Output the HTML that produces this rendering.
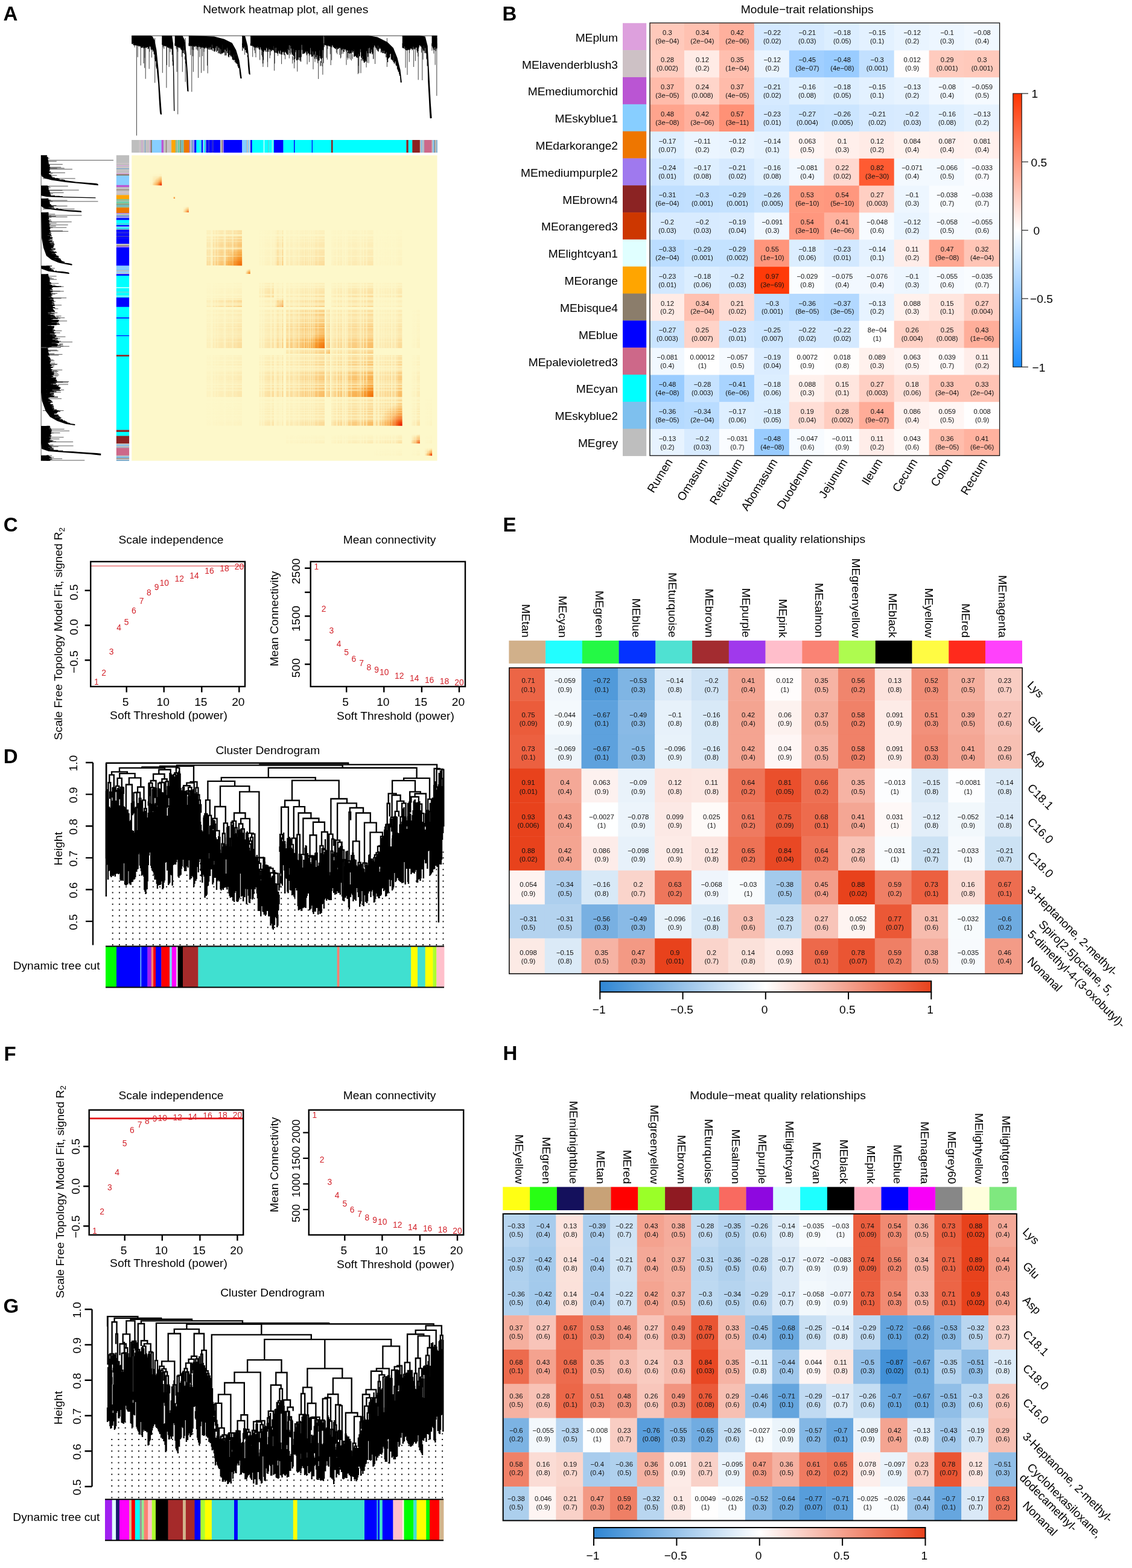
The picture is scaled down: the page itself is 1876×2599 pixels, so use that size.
<!DOCTYPE html>
<html lang="en">
<head>
<meta charset="utf-8">
<title>WGCNA figure</title>
<style>
html,body{margin:0;padding:0;background:#fff}
body{width:1876px;height:2599px;overflow:hidden}
svg{display:block;font-family:'Liberation Sans', sans-serif}
</style>
</head>
<body>
<svg width="1876" height="2599" viewBox="0 0 1876 2599">
<rect width="1876" height="2599" fill="#fff"/>
<text x="832.5" y="33.5" font-size="33" font-weight="bold">B</text>
<text x="1337.7" y="22" font-size="19.25" text-anchor="middle">Module−trait relationships</text>
<g><rect x="1077" y="38" width="57.36" height="45.93" fill="#FFC9BB"/><rect x="1133.96" y="38" width="58.36" height="45.93" fill="#FFC1B1"/><rect x="1191.92" y="38" width="58.36" height="45.93" fill="#FFB09D"/><rect x="1249.88" y="38" width="58.36" height="45.93" fill="#D4E9FF"/><rect x="1307.84" y="38" width="58.36" height="45.93" fill="#D6EAFF"/><rect x="1365.8" y="38" width="58.36" height="45.93" fill="#DCEEFF"/><rect x="1423.76" y="38" width="58.36" height="45.93" fill="#E3F1FF"/><rect x="1481.72" y="38" width="58.36" height="45.93" fill="#E9F4FF"/><rect x="1539.68" y="38" width="58.36" height="45.93" fill="#EDF6FF"/><rect x="1597.64" y="38" width="59.36" height="45.93" fill="#F1F8FF"/><rect x="1077" y="83.53" width="57.36" height="45.23" fill="#FFCDC0"/><rect x="1133.96" y="83.53" width="58.36" height="45.23" fill="#FFEBE6"/><rect x="1191.92" y="83.53" width="58.36" height="45.23" fill="#FFBFAF"/><rect x="1249.88" y="83.53" width="58.36" height="45.23" fill="#E9F4FF"/><rect x="1307.84" y="83.53" width="58.36" height="45.23" fill="#A0CFFF"/><rect x="1365.8" y="83.53" width="58.36" height="45.23" fill="#99CCFF"/><rect x="1423.76" y="83.53" width="58.36" height="45.23" fill="#C2E0FF"/><rect x="1481.72" y="83.53" width="58.36" height="45.23" fill="#FFFDFD"/><rect x="1539.68" y="83.53" width="58.36" height="45.23" fill="#FFCBBE"/><rect x="1597.64" y="83.53" width="59.36" height="45.23" fill="#FFC9BB"/><rect x="1077" y="128.35" width="57.36" height="45.22" fill="#FFBBAA"/><rect x="1133.96" y="128.35" width="58.36" height="45.22" fill="#FFD5CA"/><rect x="1191.92" y="128.35" width="58.36" height="45.22" fill="#FFBBAA"/><rect x="1249.88" y="128.35" width="58.36" height="45.22" fill="#D6EAFF"/><rect x="1307.84" y="128.35" width="58.36" height="45.22" fill="#E0F0FF"/><rect x="1365.8" y="128.35" width="58.36" height="45.22" fill="#DCEEFF"/><rect x="1423.76" y="128.35" width="58.36" height="45.22" fill="#E3F1FF"/><rect x="1481.72" y="128.35" width="58.36" height="45.22" fill="#E7F3FF"/><rect x="1539.68" y="128.35" width="58.36" height="45.22" fill="#F1F8FF"/><rect x="1597.64" y="128.35" width="59.36" height="45.22" fill="#F5FAFF"/><rect x="1077" y="173.18" width="57.36" height="45.22" fill="#FFA48D"/><rect x="1133.96" y="173.18" width="58.36" height="45.22" fill="#FFB09D"/><rect x="1191.92" y="173.18" width="58.36" height="45.22" fill="#FF9176"/><rect x="1249.88" y="173.18" width="58.36" height="45.22" fill="#D2E8FF"/><rect x="1307.84" y="173.18" width="58.36" height="45.22" fill="#C9E4FF"/><rect x="1365.8" y="173.18" width="58.36" height="45.22" fill="#CBE5FF"/><rect x="1423.76" y="173.18" width="58.36" height="45.22" fill="#D6EAFF"/><rect x="1481.72" y="173.18" width="58.36" height="45.22" fill="#D8EBFF"/><rect x="1539.68" y="173.18" width="58.36" height="45.22" fill="#E0F0FF"/><rect x="1597.64" y="173.18" width="59.36" height="45.22" fill="#E7F3FF"/><rect x="1077" y="218" width="57.36" height="45.22" fill="#DEEFFF"/><rect x="1133.96" y="218" width="58.36" height="45.22" fill="#EBF5FF"/><rect x="1191.92" y="218" width="58.36" height="45.22" fill="#E9F4FF"/><rect x="1249.88" y="218" width="58.36" height="45.22" fill="#E5F2FF"/><rect x="1307.84" y="218" width="58.36" height="45.22" fill="#FFF5F3"/><rect x="1365.8" y="218" width="58.36" height="45.22" fill="#FFEFEB"/><rect x="1423.76" y="218" width="58.36" height="45.22" fill="#FFEBE6"/><rect x="1481.72" y="218" width="58.36" height="45.22" fill="#FFF2EE"/><rect x="1539.68" y="218" width="58.36" height="45.22" fill="#FFF1EE"/><rect x="1597.64" y="218" width="59.36" height="45.22" fill="#FFF2EF"/><rect x="1077" y="262.82" width="57.36" height="45.23" fill="#CFE7FF"/><rect x="1133.96" y="262.82" width="58.36" height="45.23" fill="#DEEFFF"/><rect x="1191.92" y="262.82" width="58.36" height="45.23" fill="#D6EAFF"/><rect x="1249.88" y="262.82" width="58.36" height="45.23" fill="#E0F0FF"/><rect x="1307.84" y="262.82" width="58.36" height="45.23" fill="#F1F8FF"/><rect x="1365.8" y="262.82" width="58.36" height="45.23" fill="#FFD8CF"/><rect x="1423.76" y="262.82" width="58.36" height="45.23" fill="#FF5B32"/><rect x="1481.72" y="262.82" width="58.36" height="45.23" fill="#F3F9FF"/><rect x="1539.68" y="262.82" width="58.36" height="45.23" fill="#F3F9FF"/><rect x="1597.64" y="262.82" width="59.36" height="45.23" fill="#FAFCFF"/><rect x="1077" y="307.65" width="57.36" height="45.22" fill="#C0DFFF"/><rect x="1133.96" y="307.65" width="58.36" height="45.22" fill="#C2E0FF"/><rect x="1191.92" y="307.65" width="58.36" height="45.22" fill="#C4E2FF"/><rect x="1249.88" y="307.65" width="58.36" height="45.22" fill="#CBE5FF"/><rect x="1307.84" y="307.65" width="58.36" height="45.22" fill="#FF9A80"/><rect x="1365.8" y="307.65" width="58.36" height="45.22" fill="#FF977E"/><rect x="1423.76" y="307.65" width="58.36" height="45.22" fill="#FFCFC3"/><rect x="1481.72" y="307.65" width="58.36" height="45.22" fill="#EDF6FF"/><rect x="1539.68" y="307.65" width="58.36" height="45.22" fill="#F9FCFF"/><rect x="1597.64" y="307.65" width="59.36" height="45.22" fill="#F9FCFF"/><rect x="1077" y="352.48" width="57.36" height="45.22" fill="#D8EBFF"/><rect x="1133.96" y="352.48" width="58.36" height="45.22" fill="#D8EBFF"/><rect x="1191.92" y="352.48" width="58.36" height="45.22" fill="#DAECFF"/><rect x="1249.88" y="352.48" width="58.36" height="45.22" fill="#EFF7FF"/><rect x="1307.84" y="352.48" width="58.36" height="45.22" fill="#FF977E"/><rect x="1365.8" y="352.48" width="58.36" height="45.22" fill="#FFB29F"/><rect x="1423.76" y="352.48" width="58.36" height="45.22" fill="#F7FBFF"/><rect x="1481.72" y="352.48" width="58.36" height="45.22" fill="#E9F4FF"/><rect x="1539.68" y="352.48" width="58.36" height="45.22" fill="#F5FAFF"/><rect x="1597.64" y="352.48" width="59.36" height="45.22" fill="#F6FAFF"/><rect x="1077" y="397.3" width="57.36" height="45.22" fill="#BBDDFF"/><rect x="1133.96" y="397.3" width="58.36" height="45.22" fill="#C4E2FF"/><rect x="1191.92" y="397.3" width="58.36" height="45.22" fill="#C4E2FF"/><rect x="1249.88" y="397.3" width="58.36" height="45.22" fill="#FF957B"/><rect x="1307.84" y="397.3" width="58.36" height="45.22" fill="#DCEEFF"/><rect x="1365.8" y="397.3" width="58.36" height="45.22" fill="#D2E8FF"/><rect x="1423.76" y="397.3" width="58.36" height="45.22" fill="#E5F2FF"/><rect x="1481.72" y="397.3" width="58.36" height="45.22" fill="#FFEDE9"/><rect x="1539.68" y="397.3" width="58.36" height="45.22" fill="#FFA690"/><rect x="1597.64" y="397.3" width="59.36" height="45.22" fill="#FFC5B6"/><rect x="1077" y="442.12" width="57.36" height="45.22" fill="#D2E8FF"/><rect x="1133.96" y="442.12" width="58.36" height="45.22" fill="#DCEEFF"/><rect x="1191.92" y="442.12" width="58.36" height="45.22" fill="#D8EBFF"/><rect x="1249.88" y="442.12" width="58.36" height="45.22" fill="#FF3A08"/><rect x="1307.84" y="442.12" width="58.36" height="45.22" fill="#FAFDFF"/><rect x="1365.8" y="442.12" width="58.36" height="45.22" fill="#F2F8FF"/><rect x="1423.76" y="442.12" width="58.36" height="45.22" fill="#F2F8FF"/><rect x="1481.72" y="442.12" width="58.36" height="45.22" fill="#EDF6FF"/><rect x="1539.68" y="442.12" width="58.36" height="45.22" fill="#F6FAFF"/><rect x="1597.64" y="442.12" width="59.36" height="45.22" fill="#F9FCFF"/><rect x="1077" y="486.95" width="57.36" height="45.23" fill="#FFEBE6"/><rect x="1133.96" y="486.95" width="58.36" height="45.23" fill="#FFC1B1"/><rect x="1191.92" y="486.95" width="58.36" height="45.23" fill="#FFDAD1"/><rect x="1249.88" y="486.95" width="58.36" height="45.23" fill="#C2E0FF"/><rect x="1307.84" y="486.95" width="58.36" height="45.23" fill="#B5DAFF"/><rect x="1365.8" y="486.95" width="58.36" height="45.23" fill="#B2D8FF"/><rect x="1423.76" y="486.95" width="58.36" height="45.23" fill="#E7F3FF"/><rect x="1481.72" y="486.95" width="58.36" height="45.23" fill="#FFF1ED"/><rect x="1539.68" y="486.95" width="58.36" height="45.23" fill="#FFE6DF"/><rect x="1597.64" y="486.95" width="59.36" height="45.23" fill="#FFCFC3"/><rect x="1077" y="531.78" width="57.36" height="45.23" fill="#C9E4FF"/><rect x="1133.96" y="531.78" width="58.36" height="45.23" fill="#FFD3C8"/><rect x="1191.92" y="531.78" width="58.36" height="45.23" fill="#D2E8FF"/><rect x="1249.88" y="531.78" width="58.36" height="45.23" fill="#CDE6FF"/><rect x="1307.84" y="531.78" width="58.36" height="45.23" fill="#D4E9FF"/><rect x="1365.8" y="531.78" width="58.36" height="45.23" fill="#D4E9FF"/><rect x="1423.76" y="531.78" width="58.36" height="45.23" fill="#FFFFFF"/><rect x="1481.72" y="531.78" width="58.36" height="45.23" fill="#FFD1C5"/><rect x="1539.68" y="531.78" width="58.36" height="45.23" fill="#FFD3C8"/><rect x="1597.64" y="531.78" width="59.36" height="45.23" fill="#FFAE9A"/><rect x="1077" y="576.6" width="57.36" height="45.22" fill="#F1F8FF"/><rect x="1133.96" y="576.6" width="58.36" height="45.22" fill="#FFFFFF"/><rect x="1191.92" y="576.6" width="58.36" height="45.22" fill="#F5FAFF"/><rect x="1249.88" y="576.6" width="58.36" height="45.22" fill="#DAECFF"/><rect x="1307.84" y="576.6" width="58.36" height="45.22" fill="#FFFEFE"/><rect x="1365.8" y="576.6" width="58.36" height="45.22" fill="#FFFDFC"/><rect x="1423.76" y="576.6" width="58.36" height="45.22" fill="#FFF1ED"/><rect x="1481.72" y="576.6" width="58.36" height="45.22" fill="#FFF5F3"/><rect x="1539.68" y="576.6" width="58.36" height="45.22" fill="#FFF9F8"/><rect x="1597.64" y="576.6" width="59.36" height="45.22" fill="#FFEDE9"/><rect x="1077" y="621.43" width="57.36" height="45.23" fill="#99CCFF"/><rect x="1133.96" y="621.43" width="58.36" height="45.23" fill="#C7E3FF"/><rect x="1191.92" y="621.43" width="58.36" height="45.23" fill="#A9D4FF"/><rect x="1249.88" y="621.43" width="58.36" height="45.23" fill="#DCEEFF"/><rect x="1307.84" y="621.43" width="58.36" height="45.23" fill="#FFF1ED"/><rect x="1365.8" y="621.43" width="58.36" height="45.23" fill="#FFE6DF"/><rect x="1423.76" y="621.43" width="58.36" height="45.23" fill="#FFCFC3"/><rect x="1481.72" y="621.43" width="58.36" height="45.23" fill="#FFE0D8"/><rect x="1539.68" y="621.43" width="58.36" height="45.23" fill="#FFC3B4"/><rect x="1597.64" y="621.43" width="59.36" height="45.23" fill="#FFC3B4"/><rect x="1077" y="666.25" width="57.36" height="45.22" fill="#B5DAFF"/><rect x="1133.96" y="666.25" width="58.36" height="45.22" fill="#B9DCFF"/><rect x="1191.92" y="666.25" width="58.36" height="45.22" fill="#DEEFFF"/><rect x="1249.88" y="666.25" width="58.36" height="45.22" fill="#DCEEFF"/><rect x="1307.84" y="666.25" width="58.36" height="45.22" fill="#FFDED6"/><rect x="1365.8" y="666.25" width="58.36" height="45.22" fill="#FFCDC0"/><rect x="1423.76" y="666.25" width="58.36" height="45.22" fill="#FFAC98"/><rect x="1481.72" y="666.25" width="58.36" height="45.22" fill="#FFF1EE"/><rect x="1539.68" y="666.25" width="58.36" height="45.22" fill="#FFF6F4"/><rect x="1597.64" y="666.25" width="59.36" height="45.22" fill="#FFFEFE"/><rect x="1077" y="711.08" width="57.36" height="44.52" fill="#E7F3FF"/><rect x="1133.96" y="711.08" width="58.36" height="44.52" fill="#D8EBFF"/><rect x="1191.92" y="711.08" width="58.36" height="44.52" fill="#FAFCFF"/><rect x="1249.88" y="711.08" width="58.36" height="44.52" fill="#99CCFF"/><rect x="1307.84" y="711.08" width="58.36" height="44.52" fill="#F7FBFF"/><rect x="1365.8" y="711.08" width="58.36" height="44.52" fill="#FDFEFF"/><rect x="1423.76" y="711.08" width="58.36" height="44.52" fill="#FFEDE9"/><rect x="1481.72" y="711.08" width="58.36" height="44.52" fill="#FFF9F7"/><rect x="1539.68" y="711.08" width="58.36" height="44.52" fill="#FFBDAC"/><rect x="1597.64" y="711.08" width="59.36" height="44.52" fill="#FFB29F"/></g>
<g font-size="11.3" text-anchor="middle" fill="#111"><text x="1105.98" y="58.31">0.3</text><text x="1105.98" y="72.21">(9e−04)</text><text x="1163.94" y="58.31">0.34</text><text x="1163.94" y="72.21">(2e−04)</text><text x="1221.9" y="58.31">0.42</text><text x="1221.9" y="72.21">(2e−06)</text><text x="1279.86" y="58.31">−0.22</text><text x="1279.86" y="72.21">(0.02)</text><text x="1337.82" y="58.31">−0.21</text><text x="1337.82" y="72.21">(0.03)</text><text x="1395.78" y="58.31">−0.18</text><text x="1395.78" y="72.21">(0.05)</text><text x="1453.74" y="58.31">−0.15</text><text x="1453.74" y="72.21">(0.1)</text><text x="1511.7" y="58.31">−0.12</text><text x="1511.7" y="72.21">(0.2)</text><text x="1569.66" y="58.31">−0.1</text><text x="1569.66" y="72.21">(0.3)</text><text x="1627.62" y="58.31">−0.08</text><text x="1627.62" y="72.21">(0.4)</text><text x="1105.98" y="103.14">0.28</text><text x="1105.98" y="117.04">(0.002)</text><text x="1163.94" y="103.14">0.12</text><text x="1163.94" y="117.04">(0.2)</text><text x="1221.9" y="103.14">0.35</text><text x="1221.9" y="117.04">(1e−04)</text><text x="1279.86" y="103.14">−0.12</text><text x="1279.86" y="117.04">(0.2)</text><text x="1337.82" y="103.14">−0.45</text><text x="1337.82" y="117.04">(3e−07)</text><text x="1395.78" y="103.14">−0.48</text><text x="1395.78" y="117.04">(4e−08)</text><text x="1453.74" y="103.14">−0.3</text><text x="1453.74" y="117.04">(0.001)</text><text x="1511.7" y="103.14">0.012</text><text x="1511.7" y="117.04">(0.9)</text><text x="1569.66" y="103.14">0.29</text><text x="1569.66" y="117.04">(0.001)</text><text x="1627.62" y="103.14">0.3</text><text x="1627.62" y="117.04">(0.001)</text><text x="1105.98" y="147.96">0.37</text><text x="1105.98" y="161.86">(3e−05)</text><text x="1163.94" y="147.96">0.24</text><text x="1163.94" y="161.86">(0.008)</text><text x="1221.9" y="147.96">0.37</text><text x="1221.9" y="161.86">(4e−05)</text><text x="1279.86" y="147.96">−0.21</text><text x="1279.86" y="161.86">(0.02)</text><text x="1337.82" y="147.96">−0.16</text><text x="1337.82" y="161.86">(0.08)</text><text x="1395.78" y="147.96">−0.18</text><text x="1395.78" y="161.86">(0.05)</text><text x="1453.74" y="147.96">−0.15</text><text x="1453.74" y="161.86">(0.1)</text><text x="1511.7" y="147.96">−0.13</text><text x="1511.7" y="161.86">(0.2)</text><text x="1569.66" y="147.96">−0.08</text><text x="1569.66" y="161.86">(0.4)</text><text x="1627.62" y="147.96">−0.059</text><text x="1627.62" y="161.86">(0.5)</text><text x="1105.98" y="192.79">0.48</text><text x="1105.98" y="206.69">(3e−08)</text><text x="1163.94" y="192.79">0.42</text><text x="1163.94" y="206.69">(3e−06)</text><text x="1221.9" y="192.79">0.57</text><text x="1221.9" y="206.69">(3e−11)</text><text x="1279.86" y="192.79">−0.23</text><text x="1279.86" y="206.69">(0.01)</text><text x="1337.82" y="192.79">−0.27</text><text x="1337.82" y="206.69">(0.004)</text><text x="1395.78" y="192.79">−0.26</text><text x="1395.78" y="206.69">(0.005)</text><text x="1453.74" y="192.79">−0.21</text><text x="1453.74" y="206.69">(0.02)</text><text x="1511.7" y="192.79">−0.2</text><text x="1511.7" y="206.69">(0.03)</text><text x="1569.66" y="192.79">−0.16</text><text x="1569.66" y="206.69">(0.08)</text><text x="1627.62" y="192.79">−0.13</text><text x="1627.62" y="206.69">(0.2)</text><text x="1105.98" y="237.61">−0.17</text><text x="1105.98" y="251.51">(0.07)</text><text x="1163.94" y="237.61">−0.11</text><text x="1163.94" y="251.51">(0.2)</text><text x="1221.9" y="237.61">−0.12</text><text x="1221.9" y="251.51">(0.2)</text><text x="1279.86" y="237.61">−0.14</text><text x="1279.86" y="251.51">(0.1)</text><text x="1337.82" y="237.61">0.063</text><text x="1337.82" y="251.51">(0.5)</text><text x="1395.78" y="237.61">0.1</text><text x="1395.78" y="251.51">(0.3)</text><text x="1453.74" y="237.61">0.12</text><text x="1453.74" y="251.51">(0.2)</text><text x="1511.7" y="237.61">0.084</text><text x="1511.7" y="251.51">(0.4)</text><text x="1569.66" y="237.61">0.087</text><text x="1569.66" y="251.51">(0.4)</text><text x="1627.62" y="237.61">0.081</text><text x="1627.62" y="251.51">(0.4)</text><text x="1105.98" y="282.44">−0.24</text><text x="1105.98" y="296.34">(0.01)</text><text x="1163.94" y="282.44">−0.17</text><text x="1163.94" y="296.34">(0.08)</text><text x="1221.9" y="282.44">−0.21</text><text x="1221.9" y="296.34">(0.02)</text><text x="1279.86" y="282.44">−0.16</text><text x="1279.86" y="296.34">(0.08)</text><text x="1337.82" y="282.44">−0.081</text><text x="1337.82" y="296.34">(0.4)</text><text x="1395.78" y="282.44">0.22</text><text x="1395.78" y="296.34">(0.02)</text><text x="1453.74" y="282.44">0.82</text><text x="1453.74" y="296.34">(3e−30)</text><text x="1511.7" y="282.44">−0.071</text><text x="1511.7" y="296.34">(0.4)</text><text x="1569.66" y="282.44">−0.066</text><text x="1569.66" y="296.34">(0.5)</text><text x="1627.62" y="282.44">−0.033</text><text x="1627.62" y="296.34">(0.7)</text><text x="1105.98" y="327.26">−0.31</text><text x="1105.98" y="341.16">(6e−04)</text><text x="1163.94" y="327.26">−0.3</text><text x="1163.94" y="341.16">(0.001)</text><text x="1221.9" y="327.26">−0.29</text><text x="1221.9" y="341.16">(0.001)</text><text x="1279.86" y="327.26">−0.26</text><text x="1279.86" y="341.16">(0.005)</text><text x="1337.82" y="327.26">0.53</text><text x="1337.82" y="341.16">(6e−10)</text><text x="1395.78" y="327.26">0.54</text><text x="1395.78" y="341.16">(5e−10)</text><text x="1453.74" y="327.26">0.27</text><text x="1453.74" y="341.16">(0.003)</text><text x="1511.7" y="327.26">−0.1</text><text x="1511.7" y="341.16">(0.3)</text><text x="1569.66" y="327.26">−0.038</text><text x="1569.66" y="341.16">(0.7)</text><text x="1627.62" y="327.26">−0.038</text><text x="1627.62" y="341.16">(0.7)</text><text x="1105.98" y="372.09">−0.2</text><text x="1105.98" y="385.99">(0.03)</text><text x="1163.94" y="372.09">−0.2</text><text x="1163.94" y="385.99">(0.03)</text><text x="1221.9" y="372.09">−0.19</text><text x="1221.9" y="385.99">(0.04)</text><text x="1279.86" y="372.09">−0.091</text><text x="1279.86" y="385.99">(0.3)</text><text x="1337.82" y="372.09">0.54</text><text x="1337.82" y="385.99">(3e−10)</text><text x="1395.78" y="372.09">0.41</text><text x="1395.78" y="385.99">(4e−06)</text><text x="1453.74" y="372.09">−0.048</text><text x="1453.74" y="385.99">(0.6)</text><text x="1511.7" y="372.09">−0.12</text><text x="1511.7" y="385.99">(0.2)</text><text x="1569.66" y="372.09">−0.058</text><text x="1569.66" y="385.99">(0.5)</text><text x="1627.62" y="372.09">−0.055</text><text x="1627.62" y="385.99">(0.6)</text><text x="1105.98" y="416.91">−0.33</text><text x="1105.98" y="430.81">(2e−04)</text><text x="1163.94" y="416.91">−0.29</text><text x="1163.94" y="430.81">(0.001)</text><text x="1221.9" y="416.91">−0.29</text><text x="1221.9" y="430.81">(0.002)</text><text x="1279.86" y="416.91">0.55</text><text x="1279.86" y="430.81">(1e−10)</text><text x="1337.82" y="416.91">−0.18</text><text x="1337.82" y="430.81">(0.06)</text><text x="1395.78" y="416.91">−0.23</text><text x="1395.78" y="430.81">(0.01)</text><text x="1453.74" y="416.91">−0.14</text><text x="1453.74" y="430.81">(0.1)</text><text x="1511.7" y="416.91">0.11</text><text x="1511.7" y="430.81">(0.2)</text><text x="1569.66" y="416.91">0.47</text><text x="1569.66" y="430.81">(9e−08)</text><text x="1627.62" y="416.91">0.32</text><text x="1627.62" y="430.81">(4e−04)</text><text x="1105.98" y="461.74">−0.23</text><text x="1105.98" y="475.64">(0.01)</text><text x="1163.94" y="461.74">−0.18</text><text x="1163.94" y="475.64">(0.06)</text><text x="1221.9" y="461.74">−0.2</text><text x="1221.9" y="475.64">(0.03)</text><text x="1279.86" y="461.74">0.97</text><text x="1279.86" y="475.64">(3e−69)</text><text x="1337.82" y="461.74">−0.029</text><text x="1337.82" y="475.64">(0.8)</text><text x="1395.78" y="461.74">−0.075</text><text x="1395.78" y="475.64">(0.4)</text><text x="1453.74" y="461.74">−0.076</text><text x="1453.74" y="475.64">(0.4)</text><text x="1511.7" y="461.74">−0.1</text><text x="1511.7" y="475.64">(0.3)</text><text x="1569.66" y="461.74">−0.055</text><text x="1569.66" y="475.64">(0.6)</text><text x="1627.62" y="461.74">−0.035</text><text x="1627.62" y="475.64">(0.7)</text><text x="1105.98" y="506.56">0.12</text><text x="1105.98" y="520.46">(0.2)</text><text x="1163.94" y="506.56">0.34</text><text x="1163.94" y="520.46">(2e−04)</text><text x="1221.9" y="506.56">0.21</text><text x="1221.9" y="520.46">(0.02)</text><text x="1279.86" y="506.56">−0.3</text><text x="1279.86" y="520.46">(0.001)</text><text x="1337.82" y="506.56">−0.36</text><text x="1337.82" y="520.46">(8e−05)</text><text x="1395.78" y="506.56">−0.37</text><text x="1395.78" y="520.46">(3e−05)</text><text x="1453.74" y="506.56">−0.13</text><text x="1453.74" y="520.46">(0.2)</text><text x="1511.7" y="506.56">0.088</text><text x="1511.7" y="520.46">(0.3)</text><text x="1569.66" y="506.56">0.15</text><text x="1569.66" y="520.46">(0.1)</text><text x="1627.62" y="506.56">0.27</text><text x="1627.62" y="520.46">(0.004)</text><text x="1105.98" y="551.39">−0.27</text><text x="1105.98" y="565.29">(0.003)</text><text x="1163.94" y="551.39">0.25</text><text x="1163.94" y="565.29">(0.007)</text><text x="1221.9" y="551.39">−0.23</text><text x="1221.9" y="565.29">(0.01)</text><text x="1279.86" y="551.39">−0.25</text><text x="1279.86" y="565.29">(0.007)</text><text x="1337.82" y="551.39">−0.22</text><text x="1337.82" y="565.29">(0.02)</text><text x="1395.78" y="551.39">−0.22</text><text x="1395.78" y="565.29">(0.02)</text><text x="1453.74" y="551.39">8e−04</text><text x="1453.74" y="565.29">(1)</text><text x="1511.7" y="551.39">0.26</text><text x="1511.7" y="565.29">(0.004)</text><text x="1569.66" y="551.39">0.25</text><text x="1569.66" y="565.29">(0.008)</text><text x="1627.62" y="551.39">0.43</text><text x="1627.62" y="565.29">(1e−06)</text><text x="1105.98" y="596.21">−0.081</text><text x="1105.98" y="610.11">(0.4)</text><text x="1163.94" y="596.21">0.00012</text><text x="1163.94" y="610.11">(1)</text><text x="1221.9" y="596.21">−0.057</text><text x="1221.9" y="610.11">(0.5)</text><text x="1279.86" y="596.21">−0.19</text><text x="1279.86" y="610.11">(0.04)</text><text x="1337.82" y="596.21">0.0072</text><text x="1337.82" y="610.11">(0.9)</text><text x="1395.78" y="596.21">0.018</text><text x="1395.78" y="610.11">(0.8)</text><text x="1453.74" y="596.21">0.089</text><text x="1453.74" y="610.11">(0.3)</text><text x="1511.7" y="596.21">0.063</text><text x="1511.7" y="610.11">(0.5)</text><text x="1569.66" y="596.21">0.039</text><text x="1569.66" y="610.11">(0.7)</text><text x="1627.62" y="596.21">0.11</text><text x="1627.62" y="610.11">(0.2)</text><text x="1105.98" y="641.04">−0.48</text><text x="1105.98" y="654.94">(4e−08)</text><text x="1163.94" y="641.04">−0.28</text><text x="1163.94" y="654.94">(0.003)</text><text x="1221.9" y="641.04">−0.41</text><text x="1221.9" y="654.94">(6e−06)</text><text x="1279.86" y="641.04">−0.18</text><text x="1279.86" y="654.94">(0.06)</text><text x="1337.82" y="641.04">0.088</text><text x="1337.82" y="654.94">(0.3)</text><text x="1395.78" y="641.04">0.15</text><text x="1395.78" y="654.94">(0.1)</text><text x="1453.74" y="641.04">0.27</text><text x="1453.74" y="654.94">(0.003)</text><text x="1511.7" y="641.04">0.18</text><text x="1511.7" y="654.94">(0.06)</text><text x="1569.66" y="641.04">0.33</text><text x="1569.66" y="654.94">(3e−04)</text><text x="1627.62" y="641.04">0.33</text><text x="1627.62" y="654.94">(2e−04)</text><text x="1105.98" y="685.86">−0.36</text><text x="1105.98" y="699.76">(8e−05)</text><text x="1163.94" y="685.86">−0.34</text><text x="1163.94" y="699.76">(2e−04)</text><text x="1221.9" y="685.86">−0.17</text><text x="1221.9" y="699.76">(0.06)</text><text x="1279.86" y="685.86">−0.18</text><text x="1279.86" y="699.76">(0.05)</text><text x="1337.82" y="685.86">0.19</text><text x="1337.82" y="699.76">(0.04)</text><text x="1395.78" y="685.86">0.28</text><text x="1395.78" y="699.76">(0.002)</text><text x="1453.74" y="685.86">0.44</text><text x="1453.74" y="699.76">(9e−07)</text><text x="1511.7" y="685.86">0.086</text><text x="1511.7" y="699.76">(0.4)</text><text x="1569.66" y="685.86">0.059</text><text x="1569.66" y="699.76">(0.5)</text><text x="1627.62" y="685.86">0.008</text><text x="1627.62" y="699.76">(0.9)</text><text x="1105.98" y="730.69">−0.13</text><text x="1105.98" y="744.59">(0.2)</text><text x="1163.94" y="730.69">−0.2</text><text x="1163.94" y="744.59">(0.03)</text><text x="1221.9" y="730.69">−0.031</text><text x="1221.9" y="744.59">(0.7)</text><text x="1279.86" y="730.69">−0.48</text><text x="1279.86" y="744.59">(4e−08)</text><text x="1337.82" y="730.69">−0.047</text><text x="1337.82" y="744.59">(0.6)</text><text x="1395.78" y="730.69">−0.011</text><text x="1395.78" y="744.59">(0.9)</text><text x="1453.74" y="730.69">0.11</text><text x="1453.74" y="744.59">(0.2)</text><text x="1511.7" y="730.69">0.043</text><text x="1511.7" y="744.59">(0.6)</text><text x="1569.66" y="730.69">0.36</text><text x="1569.66" y="744.59">(8e−05)</text><text x="1627.62" y="730.69">0.41</text><text x="1627.62" y="744.59">(6e−06)</text></g>
<rect x="1077.0" y="38.0" width="579.6" height="717.2" fill="none" stroke="#111" stroke-width="1.3"/>
<text x="1024" y="68.71" font-size="19.2" text-anchor="end">MEplum</text>
<text x="1024" y="113.54" font-size="19.2" text-anchor="end">MElavenderblush3</text>
<text x="1024" y="158.36" font-size="19.2" text-anchor="end">MEmediumorchid</text>
<text x="1024" y="203.19" font-size="19.2" text-anchor="end">MEskyblue1</text>
<text x="1024" y="248.01" font-size="19.2" text-anchor="end">MEdarkorange2</text>
<text x="1024" y="292.84" font-size="19.2" text-anchor="end">MEmediumpurple2</text>
<text x="1024" y="337.66" font-size="19.2" text-anchor="end">MEbrown4</text>
<text x="1024" y="382.49" font-size="19.2" text-anchor="end">MEorangered3</text>
<text x="1024" y="427.31" font-size="19.2" text-anchor="end">MElightcyan1</text>
<text x="1024" y="472.14" font-size="19.2" text-anchor="end">MEorange</text>
<text x="1024" y="516.96" font-size="19.2" text-anchor="end">MEbisque4</text>
<text x="1024" y="561.79" font-size="19.2" text-anchor="end">MEblue</text>
<text x="1024" y="606.61" font-size="19.2" text-anchor="end">MEpalevioletred3</text>
<text x="1024" y="651.44" font-size="19.2" text-anchor="end">MEcyan</text>
<text x="1024" y="696.26" font-size="19.2" text-anchor="end">MEskyblue2</text>
<text x="1024" y="741.09" font-size="19.2" text-anchor="end">MEgrey</text>
<g><rect x="1032" y="38.3" width="39.2" height="45.23" fill="#DDA0DD"/><rect x="1032" y="83.12" width="39.2" height="45.23" fill="#CDC1C5"/><rect x="1032" y="127.95" width="39.2" height="45.23" fill="#BA55D3"/><rect x="1032" y="172.78" width="39.2" height="45.23" fill="#87CEFF"/><rect x="1032" y="217.6" width="39.2" height="45.23" fill="#EE7600"/><rect x="1032" y="262.43" width="39.2" height="45.23" fill="#9F79EE"/><rect x="1032" y="307.25" width="39.2" height="45.23" fill="#8B2323"/><rect x="1032" y="352.08" width="39.2" height="45.23" fill="#CD3700"/><rect x="1032" y="396.9" width="39.2" height="45.23" fill="#E0FFFF"/><rect x="1032" y="441.73" width="39.2" height="45.23" fill="#FFA500"/><rect x="1032" y="486.55" width="39.2" height="45.23" fill="#8B7D6B"/><rect x="1032" y="531.38" width="39.2" height="45.23" fill="#0000FF"/><rect x="1032" y="576.2" width="39.2" height="45.23" fill="#CD6889"/><rect x="1032" y="621.02" width="39.2" height="45.23" fill="#00FFFF"/><rect x="1032" y="665.85" width="39.2" height="45.23" fill="#7EC0EE"/><rect x="1032" y="710.67" width="39.2" height="45.23" fill="#BEBEBE"/></g>
<text transform="translate(1115.28 765.3) rotate(-58.5)" font-size="19.2" text-anchor="end">Rumen</text>
<text transform="translate(1173.24 765.3) rotate(-58.5)" font-size="19.2" text-anchor="end">Omasum</text>
<text transform="translate(1231.2 765.3) rotate(-58.5)" font-size="19.2" text-anchor="end">Reticulum</text>
<text transform="translate(1289.16 765.3) rotate(-58.5)" font-size="19.2" text-anchor="end">Abomasum</text>
<text transform="translate(1347.12 765.3) rotate(-58.5)" font-size="19.2" text-anchor="end">Duodenum</text>
<text transform="translate(1405.08 765.3) rotate(-58.5)" font-size="19.2" text-anchor="end">Jejunum</text>
<text transform="translate(1463.04 765.3) rotate(-58.5)" font-size="19.2" text-anchor="end">Ileum</text>
<text transform="translate(1521 765.3) rotate(-58.5)" font-size="19.2" text-anchor="end">Cecum</text>
<text transform="translate(1578.96 765.3) rotate(-58.5)" font-size="19.2" text-anchor="end">Colon</text>
<text transform="translate(1636.92 765.3) rotate(-58.5)" font-size="19.2" text-anchor="end">Rectum</text>
<defs><linearGradient id="cbB" x1="0" y1="0" x2="0" y2="1"><stop offset="0" stop-color="#FF3300"/><stop offset="0.5" stop-color="#fff"/><stop offset="1" stop-color="#1A8CFF"/></linearGradient></defs>
<rect x="1678.8" y="155.0" width="14.5" height="453.3" fill="url(#cbB)" stroke="#222" stroke-width="1.2"/>
<path d="M1693.3 155H1704" stroke="#222" stroke-width="1.2"/>
<text x="1709.5" y="162.2" font-size="19.2">1</text>
<path d="M1693.3 268.32H1704" stroke="#222" stroke-width="1.2"/>
<text x="1708.6" y="275.52" font-size="19.2">0.5</text>
<path d="M1693.3 381.65H1704" stroke="#222" stroke-width="1.2"/>
<text x="1712.5" y="388.85" font-size="19.2">0</text>
<path d="M1693.3 494.97H1704" stroke="#222" stroke-width="1.2"/>
<text x="1707" y="502.17" font-size="19.2">−0.5</text>
<path d="M1693.3 608.3H1704" stroke="#222" stroke-width="1.2"/>
<text x="1710.6" y="615.5" font-size="19.2">−1</text>
<text x="833.5" y="880.7" font-size="33" font-weight="bold">E</text>
<text x="1288.3" y="900.3" font-size="19.25" text-anchor="middle">Module−meat quality relationships</text>
<g><rect x="843.9" y="1106.9" width="59.28" height="54.8" fill="#EC6546"/><rect x="902.78" y="1106.9" width="61.18" height="54.8" fill="#F1F7FC"/><rect x="963.56" y="1106.9" width="61.18" height="54.8" fill="#519ADA"/><rect x="1024.34" y="1106.9" width="61.18" height="54.8" fill="#7FB5E4"/><rect x="1085.12" y="1106.9" width="61.18" height="54.8" fill="#DDEBF8"/><rect x="1145.9" y="1106.9" width="61.18" height="54.8" fill="#CFE3F5"/><rect x="1206.68" y="1106.9" width="61.18" height="54.8" fill="#F4A694"/><rect x="1267.46" y="1106.9" width="61.18" height="54.8" fill="#FFFCFC"/><rect x="1328.24" y="1106.9" width="61.18" height="54.8" fill="#F6B3A4"/><rect x="1389.02" y="1106.9" width="61.18" height="54.8" fill="#F0856D"/><rect x="1449.8" y="1106.9" width="61.18" height="54.8" fill="#FCE3DD"/><rect x="1510.58" y="1106.9" width="61.18" height="54.8" fill="#F18E77"/><rect x="1571.36" y="1106.9" width="61.18" height="54.8" fill="#F5AF9E"/><rect x="1632.14" y="1106.9" width="62.46" height="54.8" fill="#F9CDC3"/><rect x="843.9" y="1161.3" width="59.28" height="56.7" fill="#EB5C3B"/><rect x="902.78" y="1161.3" width="61.18" height="56.7" fill="#F4F9FD"/><rect x="963.56" y="1161.3" width="61.18" height="56.7" fill="#5DA1DD"/><rect x="1024.34" y="1161.3" width="61.18" height="56.7" fill="#89BAE6"/><rect x="1085.12" y="1161.3" width="61.18" height="56.7" fill="#E7F1FA"/><rect x="1145.9" y="1161.3" width="61.18" height="56.7" fill="#D8E9F7"/><rect x="1206.68" y="1161.3" width="61.18" height="56.7" fill="#F4A491"/><rect x="1267.46" y="1161.3" width="61.18" height="56.7" fill="#FDF2EF"/><rect x="1328.24" y="1161.3" width="61.18" height="56.7" fill="#F5AF9E"/><rect x="1389.02" y="1161.3" width="61.18" height="56.7" fill="#F08168"/><rect x="1449.8" y="1161.3" width="61.18" height="56.7" fill="#FDEBE7"/><rect x="1510.58" y="1161.3" width="61.18" height="56.7" fill="#F2907A"/><rect x="1571.36" y="1161.3" width="61.18" height="56.7" fill="#F5AA99"/><rect x="1632.14" y="1161.3" width="62.46" height="56.7" fill="#F8C4B9"/><rect x="843.9" y="1217.6" width="59.28" height="56.7" fill="#EC6040"/><rect x="902.78" y="1217.6" width="61.18" height="56.7" fill="#EEF5FB"/><rect x="963.56" y="1217.6" width="61.18" height="56.7" fill="#5DA1DD"/><rect x="1024.34" y="1217.6" width="61.18" height="56.7" fill="#86B9E5"/><rect x="1085.12" y="1217.6" width="61.18" height="56.7" fill="#E8F2FA"/><rect x="1145.9" y="1217.6" width="61.18" height="56.7" fill="#D8E9F7"/><rect x="1206.68" y="1217.6" width="61.18" height="56.7" fill="#F4A491"/><rect x="1267.46" y="1217.6" width="61.18" height="56.7" fill="#FEF6F5"/><rect x="1328.24" y="1217.6" width="61.18" height="56.7" fill="#F6B3A4"/><rect x="1389.02" y="1217.6" width="61.18" height="56.7" fill="#F08168"/><rect x="1449.8" y="1217.6" width="61.18" height="56.7" fill="#FDEBE7"/><rect x="1510.58" y="1217.6" width="61.18" height="56.7" fill="#F18C75"/><rect x="1571.36" y="1217.6" width="61.18" height="56.7" fill="#F4A694"/><rect x="1632.14" y="1217.6" width="62.46" height="56.7" fill="#F7C0B3"/><rect x="843.9" y="1273.9" width="59.28" height="56.7" fill="#E8421C"/><rect x="902.78" y="1273.9" width="61.18" height="56.7" fill="#F4A897"/><rect x="963.56" y="1273.9" width="61.18" height="56.7" fill="#FDF1EF"/><rect x="1024.34" y="1273.9" width="61.18" height="56.7" fill="#E9F2FA"/><rect x="1085.12" y="1273.9" width="61.18" height="56.7" fill="#FCE5E0"/><rect x="1145.9" y="1273.9" width="61.18" height="56.7" fill="#FCE7E2"/><rect x="1206.68" y="1273.9" width="61.18" height="56.7" fill="#EE7458"/><rect x="1267.46" y="1273.9" width="61.18" height="56.7" fill="#EA4F2C"/><rect x="1328.24" y="1273.9" width="61.18" height="56.7" fill="#EE7053"/><rect x="1389.02" y="1273.9" width="61.18" height="56.7" fill="#F6B3A4"/><rect x="1449.8" y="1273.9" width="61.18" height="56.7" fill="#FCFDFE"/><rect x="1510.58" y="1273.9" width="61.18" height="56.7" fill="#DBEAF7"/><rect x="1571.36" y="1273.9" width="61.18" height="56.7" fill="#FDFEFF"/><rect x="1632.14" y="1273.9" width="62.46" height="56.7" fill="#DDEBF8"/><rect x="843.9" y="1330.2" width="59.28" height="56.7" fill="#E8421C"/><rect x="902.78" y="1330.2" width="61.18" height="56.7" fill="#F4A28F"/><rect x="963.56" y="1330.2" width="61.18" height="56.7" fill="#FEFFFF"/><rect x="1024.34" y="1330.2" width="61.18" height="56.7" fill="#ECF4FB"/><rect x="1085.12" y="1330.2" width="61.18" height="56.7" fill="#FCE9E5"/><rect x="1145.9" y="1330.2" width="61.18" height="56.7" fill="#FEFAF8"/><rect x="1206.68" y="1330.2" width="61.18" height="56.7" fill="#EF7A60"/><rect x="1267.46" y="1330.2" width="61.18" height="56.7" fill="#EB5C3B"/><rect x="1328.24" y="1330.2" width="61.18" height="56.7" fill="#ED6B4D"/><rect x="1389.02" y="1330.2" width="61.18" height="56.7" fill="#F4A694"/><rect x="1449.8" y="1330.2" width="61.18" height="56.7" fill="#FEF8F7"/><rect x="1510.58" y="1330.2" width="61.18" height="56.7" fill="#E2EEF9"/><rect x="1571.36" y="1330.2" width="61.18" height="56.7" fill="#F2F8FC"/><rect x="1632.14" y="1330.2" width="62.46" height="56.7" fill="#DDEBF8"/><rect x="843.9" y="1386.5" width="59.28" height="56.7" fill="#E8421C"/><rect x="902.78" y="1386.5" width="61.18" height="56.7" fill="#F4A491"/><rect x="963.56" y="1386.5" width="61.18" height="56.7" fill="#FDECE9"/><rect x="1024.34" y="1386.5" width="61.18" height="56.7" fill="#E7F1FA"/><rect x="1085.12" y="1386.5" width="61.18" height="56.7" fill="#FDEBE7"/><rect x="1145.9" y="1386.5" width="61.18" height="56.7" fill="#FCE5E0"/><rect x="1206.68" y="1386.5" width="61.18" height="56.7" fill="#EE7255"/><rect x="1267.46" y="1386.5" width="61.18" height="56.7" fill="#E94824"/><rect x="1328.24" y="1386.5" width="61.18" height="56.7" fill="#EE7458"/><rect x="1389.02" y="1386.5" width="61.18" height="56.7" fill="#F8C2B6"/><rect x="1449.8" y="1386.5" width="61.18" height="56.7" fill="#F8FBFD"/><rect x="1510.58" y="1386.5" width="61.18" height="56.7" fill="#CCE2F4"/><rect x="1571.36" y="1386.5" width="61.18" height="56.7" fill="#F7FAFD"/><rect x="1632.14" y="1386.5" width="62.46" height="56.7" fill="#CCE2F4"/><rect x="843.9" y="1442.8" width="59.28" height="56.7" fill="#FEF3F1"/><rect x="902.78" y="1442.8" width="61.18" height="56.7" fill="#ADCFEE"/><rect x="963.56" y="1442.8" width="61.18" height="56.7" fill="#D8E9F7"/><rect x="1024.34" y="1442.8" width="61.18" height="56.7" fill="#FAD4CB"/><rect x="1085.12" y="1442.8" width="61.18" height="56.7" fill="#EE765B"/><rect x="1145.9" y="1442.8" width="61.18" height="56.7" fill="#EFF5FC"/><rect x="1206.68" y="1442.8" width="61.18" height="56.7" fill="#F8FBFD"/><rect x="1267.46" y="1442.8" width="61.18" height="56.7" fill="#A3CAEC"/><rect x="1328.24" y="1442.8" width="61.18" height="56.7" fill="#F39D8A"/><rect x="1389.02" y="1442.8" width="61.18" height="56.7" fill="#E8421C"/><rect x="1449.8" y="1442.8" width="61.18" height="56.7" fill="#EF7F65"/><rect x="1510.58" y="1442.8" width="61.18" height="56.7" fill="#EC6040"/><rect x="1571.36" y="1442.8" width="61.18" height="56.7" fill="#FBDCD5"/><rect x="1632.14" y="1442.8" width="62.46" height="56.7" fill="#ED6D50"/><rect x="843.9" y="1499.1" width="59.28" height="56.7" fill="#B4D3EF"/><rect x="902.78" y="1499.1" width="61.18" height="56.7" fill="#B4D3EF"/><rect x="963.56" y="1499.1" width="61.18" height="56.7" fill="#78B0E2"/><rect x="1024.34" y="1499.1" width="61.18" height="56.7" fill="#89BAE6"/><rect x="1085.12" y="1499.1" width="61.18" height="56.7" fill="#E8F2FA"/><rect x="1145.9" y="1499.1" width="61.18" height="56.7" fill="#D8E9F7"/><rect x="1206.68" y="1499.1" width="61.18" height="56.7" fill="#F7BEB1"/><rect x="1267.46" y="1499.1" width="61.18" height="56.7" fill="#C8DFF3"/><rect x="1328.24" y="1499.1" width="61.18" height="56.7" fill="#F8C4B9"/><rect x="1389.02" y="1499.1" width="61.18" height="56.7" fill="#FEF4F1"/><rect x="1449.8" y="1499.1" width="61.18" height="56.7" fill="#EB5836"/><rect x="1510.58" y="1499.1" width="61.18" height="56.7" fill="#F7BCAE"/><rect x="1571.36" y="1499.1" width="61.18" height="56.7" fill="#F7FBFD"/><rect x="1632.14" y="1499.1" width="62.46" height="56.7" fill="#6EABE0"/><rect x="843.9" y="1555.4" width="59.28" height="59" fill="#FCEAE5"/><rect x="902.78" y="1555.4" width="61.18" height="59" fill="#DBEAF7"/><rect x="963.56" y="1555.4" width="61.18" height="59" fill="#F6B3A4"/><rect x="1024.34" y="1555.4" width="61.18" height="59" fill="#F39984"/><rect x="1085.12" y="1555.4" width="61.18" height="59" fill="#E8421C"/><rect x="1145.9" y="1555.4" width="61.18" height="59" fill="#FAD4CB"/><rect x="1206.68" y="1555.4" width="61.18" height="59" fill="#FBE1DA"/><rect x="1267.46" y="1555.4" width="61.18" height="59" fill="#FDEBE7"/><rect x="1328.24" y="1555.4" width="61.18" height="59" fill="#ED694B"/><rect x="1389.02" y="1555.4" width="61.18" height="59" fill="#EA5533"/><rect x="1449.8" y="1555.4" width="61.18" height="59" fill="#EF7F65"/><rect x="1510.58" y="1555.4" width="61.18" height="59" fill="#F5AC9C"/><rect x="1571.36" y="1555.4" width="61.18" height="59" fill="#F7FAFD"/><rect x="1632.14" y="1555.4" width="62.46" height="59" fill="#F39B87"/></g>
<g font-size="11.4" text-anchor="middle" fill="#111"><text x="875.57" y="1132.37">0.71</text><text x="875.57" y="1146.67">(0.1)</text><text x="936.3" y="1132.37">−0.059</text><text x="936.3" y="1146.67">(0.9)</text><text x="997.04" y="1132.37">−0.72</text><text x="997.04" y="1146.67">(0.1)</text><text x="1057.77" y="1132.37">−0.53</text><text x="1057.77" y="1146.67">(0.3)</text><text x="1118.51" y="1132.37">−0.14</text><text x="1118.51" y="1146.67">(0.8)</text><text x="1179.25" y="1132.37">−0.2</text><text x="1179.25" y="1146.67">(0.7)</text><text x="1239.98" y="1132.37">0.41</text><text x="1239.98" y="1146.67">(0.4)</text><text x="1300.72" y="1132.37">0.012</text><text x="1300.72" y="1146.67">(1)</text><text x="1361.45" y="1132.37">0.35</text><text x="1361.45" y="1146.67">(0.5)</text><text x="1422.19" y="1132.37">0.56</text><text x="1422.19" y="1146.67">(0.2)</text><text x="1482.92" y="1132.37">0.13</text><text x="1482.92" y="1146.67">(0.8)</text><text x="1543.66" y="1132.37">0.52</text><text x="1543.66" y="1146.67">(0.3)</text><text x="1604.4" y="1132.37">0.37</text><text x="1604.4" y="1146.67">(0.5)</text><text x="1665.13" y="1132.37">0.23</text><text x="1665.13" y="1146.67">(0.7)</text><text x="875.57" y="1188.72">0.75</text><text x="875.57" y="1203.02">(0.09)</text><text x="936.3" y="1188.72">−0.044</text><text x="936.3" y="1203.02">(0.9)</text><text x="997.04" y="1188.72">−0.67</text><text x="997.04" y="1203.02">(0.1)</text><text x="1057.77" y="1188.72">−0.49</text><text x="1057.77" y="1203.02">(0.3)</text><text x="1118.51" y="1188.72">−0.1</text><text x="1118.51" y="1203.02">(0.8)</text><text x="1179.25" y="1188.72">−0.16</text><text x="1179.25" y="1203.02">(0.8)</text><text x="1239.98" y="1188.72">0.42</text><text x="1239.98" y="1203.02">(0.4)</text><text x="1300.72" y="1188.72">0.06</text><text x="1300.72" y="1203.02">(0.9)</text><text x="1361.45" y="1188.72">0.37</text><text x="1361.45" y="1203.02">(0.5)</text><text x="1422.19" y="1188.72">0.58</text><text x="1422.19" y="1203.02">(0.2)</text><text x="1482.92" y="1188.72">0.091</text><text x="1482.92" y="1203.02">(0.9)</text><text x="1543.66" y="1188.72">0.51</text><text x="1543.66" y="1203.02">(0.3)</text><text x="1604.4" y="1188.72">0.39</text><text x="1604.4" y="1203.02">(0.5)</text><text x="1665.13" y="1188.72">0.27</text><text x="1665.13" y="1203.02">(0.6)</text><text x="875.57" y="1245.06">0.73</text><text x="875.57" y="1259.36">(0.1)</text><text x="936.3" y="1245.06">−0.069</text><text x="936.3" y="1259.36">(0.9)</text><text x="997.04" y="1245.06">−0.67</text><text x="997.04" y="1259.36">(0.1)</text><text x="1057.77" y="1245.06">−0.5</text><text x="1057.77" y="1259.36">(0.3)</text><text x="1118.51" y="1245.06">−0.096</text><text x="1118.51" y="1259.36">(0.9)</text><text x="1179.25" y="1245.06">−0.16</text><text x="1179.25" y="1259.36">(0.8)</text><text x="1239.98" y="1245.06">0.42</text><text x="1239.98" y="1259.36">(0.4)</text><text x="1300.72" y="1245.06">0.04</text><text x="1300.72" y="1259.36">(0.9)</text><text x="1361.45" y="1245.06">0.35</text><text x="1361.45" y="1259.36">(0.5)</text><text x="1422.19" y="1245.06">0.58</text><text x="1422.19" y="1259.36">(0.2)</text><text x="1482.92" y="1245.06">0.091</text><text x="1482.92" y="1259.36">(0.9)</text><text x="1543.66" y="1245.06">0.53</text><text x="1543.66" y="1259.36">(0.3)</text><text x="1604.4" y="1245.06">0.41</text><text x="1604.4" y="1259.36">(0.4)</text><text x="1665.13" y="1245.06">0.29</text><text x="1665.13" y="1259.36">(0.6)</text><text x="875.57" y="1301.41">0.91</text><text x="875.57" y="1315.71">(0.01)</text><text x="936.3" y="1301.41">0.4</text><text x="936.3" y="1315.71">(0.4)</text><text x="997.04" y="1301.41">0.063</text><text x="997.04" y="1315.71">(0.9)</text><text x="1057.77" y="1301.41">−0.09</text><text x="1057.77" y="1315.71">(0.9)</text><text x="1118.51" y="1301.41">0.12</text><text x="1118.51" y="1315.71">(0.8)</text><text x="1179.25" y="1301.41">0.11</text><text x="1179.25" y="1315.71">(0.8)</text><text x="1239.98" y="1301.41">0.64</text><text x="1239.98" y="1315.71">(0.2)</text><text x="1300.72" y="1301.41">0.81</text><text x="1300.72" y="1315.71">(0.05)</text><text x="1361.45" y="1301.41">0.66</text><text x="1361.45" y="1315.71">(0.2)</text><text x="1422.19" y="1301.41">0.35</text><text x="1422.19" y="1315.71">(0.5)</text><text x="1482.92" y="1301.41">−0.013</text><text x="1482.92" y="1315.71">(1)</text><text x="1543.66" y="1301.41">−0.15</text><text x="1543.66" y="1315.71">(0.8)</text><text x="1604.4" y="1301.41">−0.0081</text><text x="1604.4" y="1315.71">(1)</text><text x="1665.13" y="1301.41">−0.14</text><text x="1665.13" y="1315.71">(0.8)</text><text x="875.57" y="1357.75">0.93</text><text x="875.57" y="1372.05">(0.006)</text><text x="936.3" y="1357.75">0.43</text><text x="936.3" y="1372.05">(0.4)</text><text x="997.04" y="1357.75">−0.0027</text><text x="997.04" y="1372.05">(1)</text><text x="1057.77" y="1357.75">−0.078</text><text x="1057.77" y="1372.05">(0.9)</text><text x="1118.51" y="1357.75">0.099</text><text x="1118.51" y="1372.05">(0.9)</text><text x="1179.25" y="1357.75">0.025</text><text x="1179.25" y="1372.05">(1)</text><text x="1239.98" y="1357.75">0.61</text><text x="1239.98" y="1372.05">(0.2)</text><text x="1300.72" y="1357.75">0.75</text><text x="1300.72" y="1372.05">(0.09)</text><text x="1361.45" y="1357.75">0.68</text><text x="1361.45" y="1372.05">(0.1)</text><text x="1422.19" y="1357.75">0.41</text><text x="1422.19" y="1372.05">(0.4)</text><text x="1482.92" y="1357.75">0.031</text><text x="1482.92" y="1372.05">(1)</text><text x="1543.66" y="1357.75">−0.12</text><text x="1543.66" y="1372.05">(0.8)</text><text x="1604.4" y="1357.75">−0.052</text><text x="1604.4" y="1372.05">(0.9)</text><text x="1665.13" y="1357.75">−0.14</text><text x="1665.13" y="1372.05">(0.8)</text><text x="875.57" y="1414.09">0.88</text><text x="875.57" y="1428.39">(0.02)</text><text x="936.3" y="1414.09">0.42</text><text x="936.3" y="1428.39">(0.4)</text><text x="997.04" y="1414.09">0.086</text><text x="997.04" y="1428.39">(0.9)</text><text x="1057.77" y="1414.09">−0.098</text><text x="1057.77" y="1428.39">(0.9)</text><text x="1118.51" y="1414.09">0.091</text><text x="1118.51" y="1428.39">(0.9)</text><text x="1179.25" y="1414.09">0.12</text><text x="1179.25" y="1428.39">(0.8)</text><text x="1239.98" y="1414.09">0.65</text><text x="1239.98" y="1428.39">(0.2)</text><text x="1300.72" y="1414.09">0.84</text><text x="1300.72" y="1428.39">(0.04)</text><text x="1361.45" y="1414.09">0.64</text><text x="1361.45" y="1428.39">(0.2)</text><text x="1422.19" y="1414.09">0.28</text><text x="1422.19" y="1428.39">(0.6)</text><text x="1482.92" y="1414.09">−0.031</text><text x="1482.92" y="1428.39">(1)</text><text x="1543.66" y="1414.09">−0.21</text><text x="1543.66" y="1428.39">(0.7)</text><text x="1604.4" y="1414.09">−0.033</text><text x="1604.4" y="1428.39">(1)</text><text x="1665.13" y="1414.09">−0.21</text><text x="1665.13" y="1428.39">(0.7)</text><text x="875.57" y="1470.44">0.054</text><text x="875.57" y="1484.74">(0.9)</text><text x="936.3" y="1470.44">−0.34</text><text x="936.3" y="1484.74">(0.5)</text><text x="997.04" y="1470.44">−0.16</text><text x="997.04" y="1484.74">(0.8)</text><text x="1057.77" y="1470.44">0.2</text><text x="1057.77" y="1484.74">(0.7)</text><text x="1118.51" y="1470.44">0.63</text><text x="1118.51" y="1484.74">(0.2)</text><text x="1179.25" y="1470.44">−0.068</text><text x="1179.25" y="1484.74">(0.9)</text><text x="1239.98" y="1470.44">−0.03</text><text x="1239.98" y="1484.74">(1)</text><text x="1300.72" y="1470.44">−0.38</text><text x="1300.72" y="1484.74">(0.5)</text><text x="1361.45" y="1470.44">0.45</text><text x="1361.45" y="1484.74">(0.4)</text><text x="1422.19" y="1470.44">0.88</text><text x="1422.19" y="1484.74">(0.02)</text><text x="1482.92" y="1470.44">0.59</text><text x="1482.92" y="1484.74">(0.2)</text><text x="1543.66" y="1470.44">0.73</text><text x="1543.66" y="1484.74">(0.1)</text><text x="1604.4" y="1470.44">0.16</text><text x="1604.4" y="1484.74">(0.8)</text><text x="1665.13" y="1470.44">0.67</text><text x="1665.13" y="1484.74">(0.1)</text><text x="875.57" y="1526.78">−0.31</text><text x="875.57" y="1541.08">(0.5)</text><text x="936.3" y="1526.78">−0.31</text><text x="936.3" y="1541.08">(0.5)</text><text x="997.04" y="1526.78">−0.56</text><text x="997.04" y="1541.08">(0.3)</text><text x="1057.77" y="1526.78">−0.49</text><text x="1057.77" y="1541.08">(0.3)</text><text x="1118.51" y="1526.78">−0.096</text><text x="1118.51" y="1541.08">(0.9)</text><text x="1179.25" y="1526.78">−0.16</text><text x="1179.25" y="1541.08">(0.8)</text><text x="1239.98" y="1526.78">0.3</text><text x="1239.98" y="1541.08">(0.6)</text><text x="1300.72" y="1526.78">−0.23</text><text x="1300.72" y="1541.08">(0.7)</text><text x="1361.45" y="1526.78">0.27</text><text x="1361.45" y="1541.08">(0.6)</text><text x="1422.19" y="1526.78">0.052</text><text x="1422.19" y="1541.08">(0.9)</text><text x="1482.92" y="1526.78">0.77</text><text x="1482.92" y="1541.08">(0.07)</text><text x="1543.66" y="1526.78">0.31</text><text x="1543.66" y="1541.08">(0.6)</text><text x="1604.4" y="1526.78">−0.032</text><text x="1604.4" y="1541.08">(1)</text><text x="1665.13" y="1526.78">−0.6</text><text x="1665.13" y="1541.08">(0.2)</text><text x="875.57" y="1583.13">0.098</text><text x="875.57" y="1597.43">(0.9)</text><text x="936.3" y="1583.13">−0.15</text><text x="936.3" y="1597.43">(0.8)</text><text x="997.04" y="1583.13">0.35</text><text x="997.04" y="1597.43">(0.5)</text><text x="1057.77" y="1583.13">0.47</text><text x="1057.77" y="1597.43">(0.3)</text><text x="1118.51" y="1583.13">0.9</text><text x="1118.51" y="1597.43">(0.01)</text><text x="1179.25" y="1583.13">0.2</text><text x="1179.25" y="1597.43">(0.7)</text><text x="1239.98" y="1583.13">0.14</text><text x="1239.98" y="1597.43">(0.8)</text><text x="1300.72" y="1583.13">0.093</text><text x="1300.72" y="1597.43">(0.9)</text><text x="1361.45" y="1583.13">0.69</text><text x="1361.45" y="1597.43">(0.1)</text><text x="1422.19" y="1583.13">0.78</text><text x="1422.19" y="1597.43">(0.07)</text><text x="1482.92" y="1583.13">0.59</text><text x="1482.92" y="1597.43">(0.2)</text><text x="1543.66" y="1583.13">0.38</text><text x="1543.66" y="1597.43">(0.5)</text><text x="1604.4" y="1583.13">−0.035</text><text x="1604.4" y="1597.43">(0.9)</text><text x="1665.13" y="1583.13">0.46</text><text x="1665.13" y="1597.43">(0.4)</text></g>
<rect x="843.9" y="1106.9" width="850.3" height="507.1" fill="none" stroke="#000" stroke-width="1.5"/>
<text transform="translate(865.37 1056.8) rotate(90)" font-size="19.2" text-anchor="end">MEtan</text>
<text transform="translate(926.1 1056.8) rotate(90)" font-size="19.2" text-anchor="end">MEcyan</text>
<text transform="translate(986.84 1056.8) rotate(90)" font-size="19.2" text-anchor="end">MEgreen</text>
<text transform="translate(1047.58 1056.8) rotate(90)" font-size="19.2" text-anchor="end">MEblue</text>
<text transform="translate(1108.31 1056.8) rotate(90)" font-size="19.2" text-anchor="end">MEturquoise</text>
<text transform="translate(1169.05 1056.8) rotate(90)" font-size="19.2" text-anchor="end">MEbrown</text>
<text transform="translate(1229.78 1056.8) rotate(90)" font-size="19.2" text-anchor="end">MEpurple</text>
<text transform="translate(1290.52 1056.8) rotate(90)" font-size="19.2" text-anchor="end">MEpink</text>
<text transform="translate(1351.25 1056.8) rotate(90)" font-size="19.2" text-anchor="end">MEsalmon</text>
<text transform="translate(1411.99 1056.8) rotate(90)" font-size="19.2" text-anchor="end">MEgreenyellow</text>
<text transform="translate(1472.72 1056.8) rotate(90)" font-size="19.2" text-anchor="end">MEblack</text>
<text transform="translate(1533.46 1056.8) rotate(90)" font-size="19.2" text-anchor="end">MEyellow</text>
<text transform="translate(1594.2 1056.8) rotate(90)" font-size="19.2" text-anchor="end">MEred</text>
<text transform="translate(1654.93 1056.8) rotate(90)" font-size="19.2" text-anchor="end">MEmagenta</text>
<g><rect x="843.4" y="1061.8" width="61.04" height="38" fill="#D1B08A"/><rect x="904.14" y="1061.8" width="61.04" height="38" fill="#22FEFF"/><rect x="964.87" y="1061.8" width="61.04" height="38" fill="#24F945"/><rect x="1025.61" y="1061.8" width="61.04" height="38" fill="#0432FF"/><rect x="1086.34" y="1061.8" width="61.04" height="38" fill="#4FE1D2"/><rect x="1147.08" y="1061.8" width="61.04" height="38" fill="#A32C30"/><rect x="1207.81" y="1061.8" width="61.04" height="38" fill="#A039EC"/><rect x="1268.55" y="1061.8" width="61.04" height="38" fill="#FFBECB"/><rect x="1329.29" y="1061.8" width="61.04" height="38" fill="#FA8374"/><rect x="1390.02" y="1061.8" width="61.04" height="38" fill="#AEFB4F"/><rect x="1450.76" y="1061.8" width="61.04" height="38" fill="#000000"/><rect x="1511.49" y="1061.8" width="61.04" height="38" fill="#FFFB43"/><rect x="1572.23" y="1061.8" width="61.04" height="38" fill="#FF2A1C"/><rect x="1632.96" y="1061.8" width="61.04" height="38" fill="#FF41FB"/></g>
<text transform="translate(1701.5 1137.07) rotate(45)" font-size="19.2">Lys</text>
<text transform="translate(1701.5 1194.42) rotate(45)" font-size="19.2">Glu</text>
<text transform="translate(1701.5 1250.76) rotate(45)" font-size="19.2">Asp</text>
<text transform="translate(1701.5 1307.11) rotate(45)" font-size="19.2">C18.1</text>
<text transform="translate(1701.5 1363.45) rotate(45)" font-size="19.2">C16.0</text>
<text transform="translate(1701.5 1419.79) rotate(45)" font-size="19.2">C18.0</text>
<text transform="translate(1701.5 1476.14) rotate(45)" font-size="19.2">3-Heptanone, 2-methyl-</text>
<text transform="translate(1720.2 1533.18) rotate(45)" font-size="19.2">Spiro[2.5]octane, 5,</text>
<text transform="translate(1701.8 1549.78) rotate(45)" font-size="19.2">5-dimethyl-4-(3-oxobutyl)-</text>
<text transform="translate(1701.5 1594.33) rotate(45)" font-size="19.2">Nonanal</text>
<defs><linearGradient id="cbE"><stop offset="0" stop-color="#2F86D3"/><stop offset="0.5" stop-color="#fff"/><stop offset="1" stop-color="#E8421C"/></linearGradient></defs>
<rect x="994.3" y="1626.3" width="549" height="18" fill="url(#cbE)" stroke="#000" stroke-width="2"/>
<path d="M994.3 1644.3V1656.5" stroke="#000" stroke-width="2"/>
<text x="992.7" y="1679.8" font-size="19.2" text-anchor="middle">−1</text>
<path d="M1131.55 1644.3V1656.5" stroke="#000" stroke-width="2"/>
<text x="1129.95" y="1679.8" font-size="19.2" text-anchor="middle">−0.5</text>
<path d="M1268.8 1644.3V1656.5" stroke="#000" stroke-width="2"/>
<text x="1267.2" y="1679.8" font-size="19.2" text-anchor="middle">0</text>
<path d="M1406.05 1644.3V1656.5" stroke="#000" stroke-width="2"/>
<text x="1404.45" y="1679.8" font-size="19.2" text-anchor="middle">0.5</text>
<path d="M1543.3 1644.3V1656.5" stroke="#000" stroke-width="2"/>
<text x="1541.7" y="1679.8" font-size="19.2" text-anchor="middle">1</text>
<text x="833.5" y="1757.3" font-size="33" font-weight="bold">H</text>
<text x="1289" y="1822" font-size="19.25" text-anchor="middle">Module−meat quality relationships</text>
<g><rect x="833.7" y="2012" width="43.29" height="55.15" fill="#B7D5F0"/><rect x="876.59" y="2012" width="45.19" height="55.15" fill="#A8CCED"/><rect x="921.38" y="2012" width="45.19" height="55.15" fill="#FCE3DD"/><rect x="966.17" y="2012" width="45.19" height="55.15" fill="#AACDED"/><rect x="1010.96" y="2012" width="45.19" height="55.15" fill="#CFE3F5"/><rect x="1055.75" y="2012" width="45.19" height="55.15" fill="#F4A28F"/><rect x="1100.54" y="2012" width="45.19" height="55.15" fill="#F5AC9C"/><rect x="1145.33" y="2012" width="45.19" height="55.15" fill="#C2DBF2"/><rect x="1190.12" y="2012" width="45.19" height="55.15" fill="#B3D3EF"/><rect x="1234.91" y="2012" width="45.19" height="55.15" fill="#C6DEF3"/><rect x="1279.7" y="2012" width="45.19" height="55.15" fill="#E0EDF9"/><rect x="1324.49" y="2012" width="45.19" height="55.15" fill="#F7FBFD"/><rect x="1369.28" y="2012" width="45.19" height="55.15" fill="#F8FBFE"/><rect x="1414.07" y="2012" width="45.19" height="55.15" fill="#EB5E3E"/><rect x="1458.86" y="2012" width="45.19" height="55.15" fill="#F18A72"/><rect x="1503.65" y="2012" width="45.19" height="55.15" fill="#F5B1A1"/><rect x="1548.44" y="2012" width="45.19" height="55.15" fill="#EC6040"/><rect x="1593.23" y="2012" width="45.19" height="55.15" fill="#E8421C"/><rect x="1638.02" y="2012" width="47.28" height="55.15" fill="#F4A897"/><rect x="833.7" y="2066.75" width="43.29" height="57.15" fill="#AED0EE"/><rect x="876.59" y="2066.75" width="45.19" height="57.15" fill="#A3CAEC"/><rect x="921.38" y="2066.75" width="45.19" height="57.15" fill="#FBE1DA"/><rect x="966.17" y="2066.75" width="45.19" height="57.15" fill="#A8CCED"/><rect x="1010.96" y="2066.75" width="45.19" height="57.15" fill="#D1E4F5"/><rect x="1055.75" y="2066.75" width="45.19" height="57.15" fill="#F4A897"/><rect x="1100.54" y="2066.75" width="45.19" height="57.15" fill="#F5AF9E"/><rect x="1145.33" y="2066.75" width="45.19" height="57.15" fill="#BBD8F1"/><rect x="1190.12" y="2066.75" width="45.19" height="57.15" fill="#B0D1EE"/><rect x="1234.91" y="2066.75" width="45.19" height="57.15" fill="#C2DBF2"/><rect x="1279.7" y="2066.75" width="45.19" height="57.15" fill="#DAE9F7"/><rect x="1324.49" y="2066.75" width="45.19" height="57.15" fill="#EFF6FC"/><rect x="1369.28" y="2066.75" width="45.19" height="57.15" fill="#EDF4FB"/><rect x="1414.07" y="2066.75" width="45.19" height="57.15" fill="#EB5E3E"/><rect x="1458.86" y="2066.75" width="45.19" height="57.15" fill="#F0856D"/><rect x="1503.65" y="2066.75" width="45.19" height="57.15" fill="#F6B5A6"/><rect x="1548.44" y="2066.75" width="45.19" height="57.15" fill="#EC6546"/><rect x="1593.23" y="2066.75" width="45.19" height="57.15" fill="#E8421C"/><rect x="1638.02" y="2066.75" width="47.28" height="57.15" fill="#F39F8C"/><rect x="833.7" y="2123.5" width="43.29" height="57.15" fill="#B0D1EE"/><rect x="876.59" y="2123.5" width="45.19" height="57.15" fill="#A3CAEC"/><rect x="921.38" y="2123.5" width="45.19" height="57.15" fill="#FBE1DA"/><rect x="966.17" y="2123.5" width="45.19" height="57.15" fill="#A8CCED"/><rect x="1010.96" y="2123.5" width="45.19" height="57.15" fill="#CFE3F5"/><rect x="1055.75" y="2123.5" width="45.19" height="57.15" fill="#F4A491"/><rect x="1100.54" y="2123.5" width="45.19" height="57.15" fill="#F5AF9E"/><rect x="1145.33" y="2123.5" width="45.19" height="57.15" fill="#BDD9F1"/><rect x="1190.12" y="2123.5" width="45.19" height="57.15" fill="#B5D4EF"/><rect x="1234.91" y="2123.5" width="45.19" height="57.15" fill="#C0DAF2"/><rect x="1279.7" y="2123.5" width="45.19" height="57.15" fill="#DAE9F7"/><rect x="1324.49" y="2123.5" width="45.19" height="57.15" fill="#F2F8FC"/><rect x="1369.28" y="2123.5" width="45.19" height="57.15" fill="#EEF5FB"/><rect x="1414.07" y="2123.5" width="45.19" height="57.15" fill="#EC6040"/><rect x="1458.86" y="2123.5" width="45.19" height="57.15" fill="#F18A72"/><rect x="1503.65" y="2123.5" width="45.19" height="57.15" fill="#F6B7A9"/><rect x="1548.44" y="2123.5" width="45.19" height="57.15" fill="#EC6546"/><rect x="1593.23" y="2123.5" width="45.19" height="57.15" fill="#E8421C"/><rect x="1638.02" y="2123.5" width="47.28" height="57.15" fill="#F4A28F"/><rect x="833.7" y="2180.25" width="43.29" height="57.15" fill="#F5AF9E"/><rect x="876.59" y="2180.25" width="45.19" height="57.15" fill="#F8C4B9"/><rect x="921.38" y="2180.25" width="45.19" height="57.15" fill="#ED6D50"/><rect x="966.17" y="2180.25" width="45.19" height="57.15" fill="#F18C75"/><rect x="1010.96" y="2180.25" width="45.19" height="57.15" fill="#F39B87"/><rect x="1055.75" y="2180.25" width="45.19" height="57.15" fill="#F8C4B9"/><rect x="1100.54" y="2180.25" width="45.19" height="57.15" fill="#F2947F"/><rect x="1145.33" y="2180.25" width="45.19" height="57.15" fill="#EA5533"/><rect x="1190.12" y="2180.25" width="45.19" height="57.15" fill="#F6B7A9"/><rect x="1234.91" y="2180.25" width="45.19" height="57.15" fill="#9DC6EA"/><rect x="1279.7" y="2180.25" width="45.19" height="57.15" fill="#6AA9E0"/><rect x="1324.49" y="2180.25" width="45.19" height="57.15" fill="#C8DFF3"/><rect x="1369.28" y="2180.25" width="45.19" height="57.15" fill="#E0EDF9"/><rect x="1414.07" y="2180.25" width="45.19" height="57.15" fill="#C0DAF2"/><rect x="1458.86" y="2180.25" width="45.19" height="57.15" fill="#62A4DE"/><rect x="1503.65" y="2180.25" width="45.19" height="57.15" fill="#6FABE1"/><rect x="1548.44" y="2180.25" width="45.19" height="57.15" fill="#8BBCE7"/><rect x="1593.23" y="2180.25" width="45.19" height="57.15" fill="#B9D6F0"/><rect x="1638.02" y="2180.25" width="47.28" height="57.15" fill="#F9CDC3"/><rect x="833.7" y="2237" width="43.29" height="57.15" fill="#ED6B4D"/><rect x="876.59" y="2237" width="45.19" height="57.15" fill="#F4A28F"/><rect x="921.38" y="2237" width="45.19" height="57.15" fill="#ED6B4D"/><rect x="966.17" y="2237" width="45.19" height="57.15" fill="#F6B3A4"/><rect x="1010.96" y="2237" width="45.19" height="57.15" fill="#F7BEB1"/><rect x="1055.75" y="2237" width="45.19" height="57.15" fill="#F9CBC0"/><rect x="1100.54" y="2237" width="45.19" height="57.15" fill="#F7BEB1"/><rect x="1145.33" y="2237" width="45.19" height="57.15" fill="#E94824"/><rect x="1190.12" y="2237" width="45.19" height="57.15" fill="#F6B3A4"/><rect x="1234.91" y="2237" width="45.19" height="57.15" fill="#E7F1FA"/><rect x="1279.7" y="2237" width="45.19" height="57.15" fill="#9FC7EB"/><rect x="1324.49" y="2237" width="45.19" height="57.15" fill="#FEF5F4"/><rect x="1369.28" y="2237" width="45.19" height="57.15" fill="#FCE7E2"/><rect x="1414.07" y="2237" width="45.19" height="57.15" fill="#92BFE8"/><rect x="1458.86" y="2237" width="45.19" height="57.15" fill="#4190D7"/><rect x="1503.65" y="2237" width="45.19" height="57.15" fill="#6DAAE0"/><rect x="1548.44" y="2237" width="45.19" height="57.15" fill="#B3D3EF"/><rect x="1593.23" y="2237" width="45.19" height="57.15" fill="#90BEE7"/><rect x="1638.02" y="2237" width="47.28" height="57.15" fill="#DCEBF8"/><rect x="833.7" y="2293.75" width="43.29" height="57.15" fill="#F5B1A1"/><rect x="876.59" y="2293.75" width="45.19" height="57.15" fill="#F8C2B6"/><rect x="921.38" y="2293.75" width="45.19" height="57.15" fill="#EC6748"/><rect x="966.17" y="2293.75" width="45.19" height="57.15" fill="#F2907A"/><rect x="1010.96" y="2293.75" width="45.19" height="57.15" fill="#F29782"/><rect x="1055.75" y="2293.75" width="45.19" height="57.15" fill="#F8C6BB"/><rect x="1100.54" y="2293.75" width="45.19" height="57.15" fill="#F2947F"/><rect x="1145.33" y="2293.75" width="45.19" height="57.15" fill="#EB5A39"/><rect x="1190.12" y="2293.75" width="45.19" height="57.15" fill="#F7C0B3"/><rect x="1234.91" y="2293.75" width="45.19" height="57.15" fill="#9BC5EA"/><rect x="1279.7" y="2293.75" width="45.19" height="57.15" fill="#64A5DE"/><rect x="1324.49" y="2293.75" width="45.19" height="57.15" fill="#C0DAF2"/><rect x="1369.28" y="2293.75" width="45.19" height="57.15" fill="#DAE9F7"/><rect x="1414.07" y="2293.75" width="45.19" height="57.15" fill="#C6DEF3"/><rect x="1458.86" y="2293.75" width="45.19" height="57.15" fill="#66A6DF"/><rect x="1503.65" y="2293.75" width="45.19" height="57.15" fill="#6DAAE0"/><rect x="1548.44" y="2293.75" width="45.19" height="57.15" fill="#90BEE7"/><rect x="1593.23" y="2293.75" width="45.19" height="57.15" fill="#BDD9F1"/><rect x="1638.02" y="2293.75" width="47.28" height="57.15" fill="#F8C6BB"/><rect x="833.7" y="2350.5" width="43.29" height="57.15" fill="#7CB3E3"/><rect x="876.59" y="2350.5" width="45.19" height="57.15" fill="#F3F8FC"/><rect x="921.38" y="2350.5" width="45.19" height="57.15" fill="#B7D5F0"/><rect x="966.17" y="2350.5" width="45.19" height="57.15" fill="#FDFEFF"/><rect x="1010.96" y="2350.5" width="45.19" height="57.15" fill="#F9CDC3"/><rect x="1055.75" y="2350.5" width="45.19" height="57.15" fill="#599EDC"/><rect x="1100.54" y="2350.5" width="45.19" height="57.15" fill="#87B9E6"/><rect x="1145.33" y="2350.5" width="45.19" height="57.15" fill="#71ACE1"/><rect x="1190.12" y="2350.5" width="45.19" height="57.15" fill="#C6DEF3"/><rect x="1234.91" y="2350.5" width="45.19" height="57.15" fill="#F9FCFE"/><rect x="1279.7" y="2350.5" width="45.19" height="57.15" fill="#EBF4FB"/><rect x="1324.49" y="2350.5" width="45.19" height="57.15" fill="#83B7E5"/><rect x="1369.28" y="2350.5" width="45.19" height="57.15" fill="#66A6DF"/><rect x="1414.07" y="2350.5" width="45.19" height="57.15" fill="#ECF4FB"/><rect x="1458.86" y="2350.5" width="45.19" height="57.15" fill="#F4A491"/><rect x="1503.65" y="2350.5" width="45.19" height="57.15" fill="#E3EEF9"/><rect x="1548.44" y="2350.5" width="45.19" height="57.15" fill="#A1C8EB"/><rect x="1593.23" y="2350.5" width="45.19" height="57.15" fill="#D6E7F6"/><rect x="1638.02" y="2350.5" width="47.28" height="57.15" fill="#F7C0B3"/><rect x="833.7" y="2407.25" width="43.29" height="57.15" fill="#F08168"/><rect x="876.59" y="2407.25" width="45.19" height="57.15" fill="#FBDCD5"/><rect x="921.38" y="2407.25" width="45.19" height="57.15" fill="#FAD6CD"/><rect x="966.17" y="2407.25" width="45.19" height="57.15" fill="#A8CCED"/><rect x="1010.96" y="2407.25" width="45.19" height="57.15" fill="#B0D1EE"/><rect x="1055.75" y="2407.25" width="45.19" height="57.15" fill="#F5B1A1"/><rect x="1100.54" y="2407.25" width="45.19" height="57.15" fill="#FDEBE7"/><rect x="1145.33" y="2407.25" width="45.19" height="57.15" fill="#F9D1C8"/><rect x="1190.12" y="2407.25" width="45.19" height="57.15" fill="#EAF3FB"/><rect x="1234.91" y="2407.25" width="45.19" height="57.15" fill="#F39984"/><rect x="1279.7" y="2407.25" width="45.19" height="57.15" fill="#F5B1A1"/><rect x="1324.49" y="2407.25" width="45.19" height="57.15" fill="#EF7A60"/><rect x="1369.28" y="2407.25" width="45.19" height="57.15" fill="#EE7255"/><rect x="1414.07" y="2407.25" width="45.19" height="57.15" fill="#FDEEEB"/><rect x="1458.86" y="2407.25" width="45.19" height="57.15" fill="#EAF3FB"/><rect x="1503.65" y="2407.25" width="45.19" height="57.15" fill="#F9CDC3"/><rect x="1548.44" y="2407.25" width="45.19" height="57.15" fill="#EA5533"/><rect x="1593.23" y="2407.25" width="45.19" height="57.15" fill="#FCE5E0"/><rect x="1638.02" y="2407.25" width="47.28" height="57.15" fill="#90BEE7"/><rect x="833.7" y="2464" width="43.29" height="56.8" fill="#ACCFED"/><rect x="876.59" y="2464" width="45.19" height="56.8" fill="#FEF5F3"/><rect x="921.38" y="2464" width="45.19" height="56.8" fill="#F9D1C8"/><rect x="966.17" y="2464" width="45.19" height="56.8" fill="#F39984"/><rect x="1010.96" y="2464" width="45.19" height="56.8" fill="#EF7F65"/><rect x="1055.75" y="2464" width="45.19" height="56.8" fill="#B9D6F0"/><rect x="1100.54" y="2464" width="45.19" height="56.8" fill="#FCE9E5"/><rect x="1145.33" y="2464" width="45.19" height="56.8" fill="#FFFEFE"/><rect x="1190.12" y="2464" width="45.19" height="56.8" fill="#F9FCFE"/><rect x="1234.91" y="2464" width="45.19" height="56.8" fill="#8DBDE7"/><rect x="1279.7" y="2464" width="45.19" height="56.8" fill="#73AEE1"/><rect x="1324.49" y="2464" width="45.19" height="56.8" fill="#579DDB"/><rect x="1369.28" y="2464" width="45.19" height="56.8" fill="#64A5DE"/><rect x="1414.07" y="2464" width="45.19" height="56.8" fill="#FAFCFE"/><rect x="1458.86" y="2464" width="45.19" height="56.8" fill="#F9FCFE"/><rect x="1503.65" y="2464" width="45.19" height="56.8" fill="#9FC7EB"/><rect x="1548.44" y="2464" width="45.19" height="56.8" fill="#66A6DF"/><rect x="1593.23" y="2464" width="45.19" height="56.8" fill="#DAE9F7"/><rect x="1638.02" y="2464" width="47.28" height="56.8" fill="#EE765B"/></g>
<g font-size="11.4" text-anchor="middle" fill="#111"><text x="855.4" y="2035.84">−0.33</text><text x="855.4" y="2049.84">(0.5)</text><text x="900.2" y="2035.84">−0.4</text><text x="900.2" y="2049.84">(0.4)</text><text x="945" y="2035.84">0.13</text><text x="945" y="2049.84">(0.8)</text><text x="989.8" y="2035.84">−0.39</text><text x="989.8" y="2049.84">(0.4)</text><text x="1034.6" y="2035.84">−0.22</text><text x="1034.6" y="2049.84">(0.7)</text><text x="1079.4" y="2035.84">0.43</text><text x="1079.4" y="2049.84">(0.4)</text><text x="1124.2" y="2035.84">0.38</text><text x="1124.2" y="2049.84">(0.5)</text><text x="1169" y="2035.84">−0.28</text><text x="1169" y="2049.84">(0.6)</text><text x="1213.8" y="2035.84">−0.35</text><text x="1213.8" y="2049.84">(0.5)</text><text x="1258.6" y="2035.84">−0.26</text><text x="1258.6" y="2049.84">(0.6)</text><text x="1303.4" y="2035.84">−0.14</text><text x="1303.4" y="2049.84">(0.8)</text><text x="1348.2" y="2035.84">−0.035</text><text x="1348.2" y="2049.84">(0.9)</text><text x="1393" y="2035.84">−0.03</text><text x="1393" y="2049.84">(1)</text><text x="1437.8" y="2035.84">0.74</text><text x="1437.8" y="2049.84">(0.09)</text><text x="1482.6" y="2035.84">0.54</text><text x="1482.6" y="2049.84">(0.3)</text><text x="1527.4" y="2035.84">0.36</text><text x="1527.4" y="2049.84">(0.5)</text><text x="1572.2" y="2035.84">0.73</text><text x="1572.2" y="2049.84">(0.1)</text><text x="1617" y="2035.84">0.88</text><text x="1617" y="2049.84">(0.02)</text><text x="1661.8" y="2035.84">0.4</text><text x="1661.8" y="2049.84">(0.4)</text><text x="855.4" y="2092.33">−0.37</text><text x="855.4" y="2106.33">(0.5)</text><text x="900.2" y="2092.33">−0.42</text><text x="900.2" y="2106.33">(0.4)</text><text x="945" y="2092.33">0.14</text><text x="945" y="2106.33">(0.8)</text><text x="989.8" y="2092.33">−0.4</text><text x="989.8" y="2106.33">(0.4)</text><text x="1034.6" y="2092.33">−0.21</text><text x="1034.6" y="2106.33">(0.7)</text><text x="1079.4" y="2092.33">0.4</text><text x="1079.4" y="2106.33">(0.4)</text><text x="1124.2" y="2092.33">0.37</text><text x="1124.2" y="2106.33">(0.5)</text><text x="1169" y="2092.33">−0.31</text><text x="1169" y="2106.33">(0.5)</text><text x="1213.8" y="2092.33">−0.36</text><text x="1213.8" y="2106.33">(0.5)</text><text x="1258.6" y="2092.33">−0.28</text><text x="1258.6" y="2106.33">(0.6)</text><text x="1303.4" y="2092.33">−0.17</text><text x="1303.4" y="2106.33">(0.7)</text><text x="1348.2" y="2092.33">−0.072</text><text x="1348.2" y="2106.33">(0.9)</text><text x="1393" y="2092.33">−0.083</text><text x="1393" y="2106.33">(0.9)</text><text x="1437.8" y="2092.33">0.74</text><text x="1437.8" y="2106.33">(0.09)</text><text x="1482.6" y="2092.33">0.56</text><text x="1482.6" y="2106.33">(0.2)</text><text x="1527.4" y="2092.33">0.34</text><text x="1527.4" y="2106.33">(0.5)</text><text x="1572.2" y="2092.33">0.71</text><text x="1572.2" y="2106.33">(0.1)</text><text x="1617" y="2092.33">0.89</text><text x="1617" y="2106.33">(0.02)</text><text x="1661.8" y="2092.33">0.44</text><text x="1661.8" y="2106.33">(0.4)</text><text x="855.4" y="2148.82">−0.36</text><text x="855.4" y="2162.82">(0.5)</text><text x="900.2" y="2148.82">−0.42</text><text x="900.2" y="2162.82">(0.4)</text><text x="945" y="2148.82">0.14</text><text x="945" y="2162.82">(0.8)</text><text x="989.8" y="2148.82">−0.4</text><text x="989.8" y="2162.82">(0.4)</text><text x="1034.6" y="2148.82">−0.22</text><text x="1034.6" y="2162.82">(0.7)</text><text x="1079.4" y="2148.82">0.42</text><text x="1079.4" y="2162.82">(0.4)</text><text x="1124.2" y="2148.82">0.37</text><text x="1124.2" y="2162.82">(0.5)</text><text x="1169" y="2148.82">−0.3</text><text x="1169" y="2162.82">(0.6)</text><text x="1213.8" y="2148.82">−0.34</text><text x="1213.8" y="2162.82">(0.5)</text><text x="1258.6" y="2148.82">−0.29</text><text x="1258.6" y="2162.82">(0.6)</text><text x="1303.4" y="2148.82">−0.17</text><text x="1303.4" y="2162.82">(0.7)</text><text x="1348.2" y="2148.82">−0.058</text><text x="1348.2" y="2162.82">(0.9)</text><text x="1393" y="2148.82">−0.077</text><text x="1393" y="2162.82">(0.9)</text><text x="1437.8" y="2148.82">0.73</text><text x="1437.8" y="2162.82">(0.1)</text><text x="1482.6" y="2148.82">0.54</text><text x="1482.6" y="2162.82">(0.3)</text><text x="1527.4" y="2148.82">0.33</text><text x="1527.4" y="2162.82">(0.5)</text><text x="1572.2" y="2148.82">0.71</text><text x="1572.2" y="2162.82">(0.1)</text><text x="1617" y="2148.82">0.9</text><text x="1617" y="2162.82">(0.02)</text><text x="1661.8" y="2148.82">0.43</text><text x="1661.8" y="2162.82">(0.4)</text><text x="855.4" y="2205.31">0.37</text><text x="855.4" y="2219.31">(0.5)</text><text x="900.2" y="2205.31">0.27</text><text x="900.2" y="2219.31">(0.6)</text><text x="945" y="2205.31">0.67</text><text x="945" y="2219.31">(0.1)</text><text x="989.8" y="2205.31">0.53</text><text x="989.8" y="2219.31">(0.3)</text><text x="1034.6" y="2205.31">0.46</text><text x="1034.6" y="2219.31">(0.4)</text><text x="1079.4" y="2205.31">0.27</text><text x="1079.4" y="2219.31">(0.6)</text><text x="1124.2" y="2205.31">0.49</text><text x="1124.2" y="2219.31">(0.3)</text><text x="1169" y="2205.31">0.78</text><text x="1169" y="2219.31">(0.07)</text><text x="1213.8" y="2205.31">0.33</text><text x="1213.8" y="2219.31">(0.5)</text><text x="1258.6" y="2205.31">−0.45</text><text x="1258.6" y="2219.31">(0.4)</text><text x="1303.4" y="2205.31">−0.68</text><text x="1303.4" y="2219.31">(0.1)</text><text x="1348.2" y="2205.31">−0.25</text><text x="1348.2" y="2219.31">(0.6)</text><text x="1393" y="2205.31">−0.14</text><text x="1393" y="2219.31">(0.8)</text><text x="1437.8" y="2205.31">−0.29</text><text x="1437.8" y="2219.31">(0.6)</text><text x="1482.6" y="2205.31">−0.72</text><text x="1482.6" y="2219.31">(0.1)</text><text x="1527.4" y="2205.31">−0.66</text><text x="1527.4" y="2219.31">(0.2)</text><text x="1572.2" y="2205.31">−0.53</text><text x="1572.2" y="2219.31">(0.3)</text><text x="1617" y="2205.31">−0.32</text><text x="1617" y="2219.31">(0.5)</text><text x="1661.8" y="2205.31">0.23</text><text x="1661.8" y="2219.31">(0.7)</text><text x="855.4" y="2261.8">0.68</text><text x="855.4" y="2275.8">(0.1)</text><text x="900.2" y="2261.8">0.43</text><text x="900.2" y="2275.8">(0.4)</text><text x="945" y="2261.8">0.68</text><text x="945" y="2275.8">(0.1)</text><text x="989.8" y="2261.8">0.35</text><text x="989.8" y="2275.8">(0.5)</text><text x="1034.6" y="2261.8">0.3</text><text x="1034.6" y="2275.8">(0.6)</text><text x="1079.4" y="2261.8">0.24</text><text x="1079.4" y="2275.8">(0.6)</text><text x="1124.2" y="2261.8">0.3</text><text x="1124.2" y="2275.8">(0.6)</text><text x="1169" y="2261.8">0.84</text><text x="1169" y="2275.8">(0.03)</text><text x="1213.8" y="2261.8">0.35</text><text x="1213.8" y="2275.8">(0.5)</text><text x="1258.6" y="2261.8">−0.11</text><text x="1258.6" y="2275.8">(0.8)</text><text x="1303.4" y="2261.8">−0.44</text><text x="1303.4" y="2275.8">(0.4)</text><text x="1348.2" y="2261.8">0.044</text><text x="1348.2" y="2275.8">(0.9)</text><text x="1393" y="2261.8">0.11</text><text x="1393" y="2275.8">(0.8)</text><text x="1437.8" y="2261.8">−0.5</text><text x="1437.8" y="2275.8">(0.3)</text><text x="1482.6" y="2261.8">−0.87</text><text x="1482.6" y="2275.8">(0.02)</text><text x="1527.4" y="2261.8">−0.67</text><text x="1527.4" y="2275.8">(0.1)</text><text x="1572.2" y="2261.8">−0.35</text><text x="1572.2" y="2275.8">(0.5)</text><text x="1617" y="2261.8">−0.51</text><text x="1617" y="2275.8">(0.3)</text><text x="1661.8" y="2261.8">−0.16</text><text x="1661.8" y="2275.8">(0.8)</text><text x="855.4" y="2318.29">0.36</text><text x="855.4" y="2332.29">(0.5)</text><text x="900.2" y="2318.29">0.28</text><text x="900.2" y="2332.29">(0.6)</text><text x="945" y="2318.29">0.7</text><text x="945" y="2332.29">(0.1)</text><text x="989.8" y="2318.29">0.51</text><text x="989.8" y="2332.29">(0.3)</text><text x="1034.6" y="2318.29">0.48</text><text x="1034.6" y="2332.29">(0.3)</text><text x="1079.4" y="2318.29">0.26</text><text x="1079.4" y="2332.29">(0.6)</text><text x="1124.2" y="2318.29">0.49</text><text x="1124.2" y="2332.29">(0.3)</text><text x="1169" y="2318.29">0.76</text><text x="1169" y="2332.29">(0.08)</text><text x="1213.8" y="2318.29">0.29</text><text x="1213.8" y="2332.29">(0.6)</text><text x="1258.6" y="2318.29">−0.46</text><text x="1258.6" y="2332.29">(0.4)</text><text x="1303.4" y="2318.29">−0.71</text><text x="1303.4" y="2332.29">(0.1)</text><text x="1348.2" y="2318.29">−0.29</text><text x="1348.2" y="2332.29">(0.6)</text><text x="1393" y="2318.29">−0.17</text><text x="1393" y="2332.29">(0.7)</text><text x="1437.8" y="2318.29">−0.26</text><text x="1437.8" y="2332.29">(0.6)</text><text x="1482.6" y="2318.29">−0.7</text><text x="1482.6" y="2332.29">(0.1)</text><text x="1527.4" y="2318.29">−0.67</text><text x="1527.4" y="2332.29">(0.1)</text><text x="1572.2" y="2318.29">−0.51</text><text x="1572.2" y="2332.29">(0.3)</text><text x="1617" y="2318.29">−0.3</text><text x="1617" y="2332.29">(0.6)</text><text x="1661.8" y="2318.29">0.26</text><text x="1661.8" y="2332.29">(0.6)</text><text x="855.4" y="2374.78">−0.6</text><text x="855.4" y="2388.78">(0.2)</text><text x="900.2" y="2374.78">−0.055</text><text x="900.2" y="2388.78">(0.9)</text><text x="945" y="2374.78">−0.33</text><text x="945" y="2388.78">(0.5)</text><text x="989.8" y="2374.78">−0.008</text><text x="989.8" y="2388.78">(1)</text><text x="1034.6" y="2374.78">0.23</text><text x="1034.6" y="2388.78">(0.7)</text><text x="1079.4" y="2374.78">−0.76</text><text x="1079.4" y="2388.78">(0.08)</text><text x="1124.2" y="2374.78">−0.55</text><text x="1124.2" y="2388.78">(0.3)</text><text x="1169" y="2374.78">−0.65</text><text x="1169" y="2388.78">(0.2)</text><text x="1213.8" y="2374.78">−0.26</text><text x="1213.8" y="2388.78">(0.6)</text><text x="1258.6" y="2374.78">−0.027</text><text x="1258.6" y="2388.78">(1)</text><text x="1303.4" y="2374.78">−0.09</text><text x="1303.4" y="2388.78">(0.9)</text><text x="1348.2" y="2374.78">−0.57</text><text x="1348.2" y="2388.78">(0.2)</text><text x="1393" y="2374.78">−0.7</text><text x="1393" y="2388.78">(0.1)</text><text x="1437.8" y="2374.78">−0.089</text><text x="1437.8" y="2388.78">(0.9)</text><text x="1482.6" y="2374.78">0.42</text><text x="1482.6" y="2388.78">(0.4)</text><text x="1527.4" y="2374.78">−0.13</text><text x="1527.4" y="2388.78">(0.8)</text><text x="1572.2" y="2374.78">−0.43</text><text x="1572.2" y="2388.78">(0.4)</text><text x="1617" y="2374.78">−0.19</text><text x="1617" y="2388.78">(0.7)</text><text x="1661.8" y="2374.78">0.29</text><text x="1661.8" y="2388.78">(0.6)</text><text x="855.4" y="2431.27">0.58</text><text x="855.4" y="2445.27">(0.2)</text><text x="900.2" y="2431.27">0.16</text><text x="900.2" y="2445.27">(0.8)</text><text x="945" y="2431.27">0.19</text><text x="945" y="2445.27">(0.7)</text><text x="989.8" y="2431.27">−0.4</text><text x="989.8" y="2445.27">(0.4)</text><text x="1034.6" y="2431.27">−0.36</text><text x="1034.6" y="2445.27">(0.5)</text><text x="1079.4" y="2431.27">0.36</text><text x="1079.4" y="2445.27">(0.5)</text><text x="1124.2" y="2431.27">0.091</text><text x="1124.2" y="2445.27">(0.9)</text><text x="1169" y="2431.27">0.21</text><text x="1169" y="2445.27">(0.7)</text><text x="1213.8" y="2431.27">−0.095</text><text x="1213.8" y="2445.27">(0.9)</text><text x="1258.6" y="2431.27">0.47</text><text x="1258.6" y="2445.27">(0.3)</text><text x="1303.4" y="2431.27">0.36</text><text x="1303.4" y="2445.27">(0.5)</text><text x="1348.2" y="2431.27">0.61</text><text x="1348.2" y="2445.27">(0.2)</text><text x="1393" y="2431.27">0.65</text><text x="1393" y="2445.27">(0.2)</text><text x="1437.8" y="2431.27">0.078</text><text x="1437.8" y="2445.27">(0.9)</text><text x="1482.6" y="2431.27">−0.097</text><text x="1482.6" y="2445.27">(0.9)</text><text x="1527.4" y="2431.27">0.23</text><text x="1527.4" y="2445.27">(0.7)</text><text x="1572.2" y="2431.27">0.78</text><text x="1572.2" y="2445.27">(0.07)</text><text x="1617" y="2431.27">0.12</text><text x="1617" y="2445.27">(0.8)</text><text x="1661.8" y="2431.27">−0.51</text><text x="1661.8" y="2445.27">(0.3)</text><text x="855.4" y="2487.76">−0.38</text><text x="855.4" y="2501.76">(0.5)</text><text x="900.2" y="2487.76">0.046</text><text x="900.2" y="2501.76">(0.9)</text><text x="945" y="2487.76">0.21</text><text x="945" y="2501.76">(0.7)</text><text x="989.8" y="2487.76">0.47</text><text x="989.8" y="2501.76">(0.3)</text><text x="1034.6" y="2487.76">0.59</text><text x="1034.6" y="2501.76">(0.2)</text><text x="1079.4" y="2487.76">−0.32</text><text x="1079.4" y="2501.76">(0.5)</text><text x="1124.2" y="2487.76">0.1</text><text x="1124.2" y="2501.76">(0.8)</text><text x="1169" y="2487.76">0.0049</text><text x="1169" y="2501.76">(1)</text><text x="1213.8" y="2487.76">−0.026</text><text x="1213.8" y="2501.76">(1)</text><text x="1258.6" y="2487.76">−0.52</text><text x="1258.6" y="2501.76">(0.3)</text><text x="1303.4" y="2487.76">−0.64</text><text x="1303.4" y="2501.76">(0.2)</text><text x="1348.2" y="2487.76">−0.77</text><text x="1348.2" y="2501.76">(0.07)</text><text x="1393" y="2487.76">−0.71</text><text x="1393" y="2501.76">(0.1)</text><text x="1437.8" y="2487.76">−0.025</text><text x="1437.8" y="2501.76">(1)</text><text x="1482.6" y="2487.76">−0.026</text><text x="1482.6" y="2501.76">(1)</text><text x="1527.4" y="2487.76">−0.44</text><text x="1527.4" y="2501.76">(0.4)</text><text x="1572.2" y="2487.76">−0.7</text><text x="1572.2" y="2501.76">(0.1)</text><text x="1617" y="2487.76">−0.17</text><text x="1617" y="2501.76">(0.7)</text><text x="1661.8" y="2487.76">0.63</text><text x="1661.8" y="2501.76">(0.2)</text></g>
<rect x="833.7" y="2012.0" width="851.2" height="508.4" fill="none" stroke="#000" stroke-width="2.0"/>
<text transform="translate(854.1 1962.4) rotate(90)" font-size="19.2" text-anchor="end">MEyellow</text>
<text transform="translate(898.9 1962.4) rotate(90)" font-size="19.2" text-anchor="end">MEgreen</text>
<text transform="translate(943.7 1962.4) rotate(90)" font-size="19.2" text-anchor="end">MEmidnightblue</text>
<text transform="translate(988.5 1962.4) rotate(90)" font-size="19.2" text-anchor="end">MEtan</text>
<text transform="translate(1033.3 1962.4) rotate(90)" font-size="19.2" text-anchor="end">MEred</text>
<text transform="translate(1078.1 1962.4) rotate(90)" font-size="19.2" text-anchor="end">MEgreenyellow</text>
<text transform="translate(1122.9 1962.4) rotate(90)" font-size="19.2" text-anchor="end">MEbrown</text>
<text transform="translate(1167.7 1962.4) rotate(90)" font-size="19.2" text-anchor="end">MEturquoise</text>
<text transform="translate(1212.5 1962.4) rotate(90)" font-size="19.2" text-anchor="end">MEsalmon</text>
<text transform="translate(1257.3 1962.4) rotate(90)" font-size="19.2" text-anchor="end">MEpurple</text>
<text transform="translate(1302.1 1962.4) rotate(90)" font-size="19.2" text-anchor="end">MElightcyan</text>
<text transform="translate(1346.9 1962.4) rotate(90)" font-size="19.2" text-anchor="end">MEcyan</text>
<text transform="translate(1391.7 1962.4) rotate(90)" font-size="19.2" text-anchor="end">MEblack</text>
<text transform="translate(1436.5 1962.4) rotate(90)" font-size="19.2" text-anchor="end">MEpink</text>
<text transform="translate(1481.3 1962.4) rotate(90)" font-size="19.2" text-anchor="end">MEblue</text>
<text transform="translate(1526.1 1962.4) rotate(90)" font-size="19.2" text-anchor="end">MEmagenta</text>
<text transform="translate(1570.9 1962.4) rotate(90)" font-size="19.2" text-anchor="end">MEgrey60</text>
<text transform="translate(1615.7 1962.4) rotate(90)" font-size="19.2" text-anchor="end">MElightyellow</text>
<text transform="translate(1660.5 1962.4) rotate(90)" font-size="19.2" text-anchor="end">MElightgreen</text>
<g><rect x="833.3" y="1967.4" width="45.1" height="38.6" fill="#FFFF14"/><rect x="878.1" y="1967.4" width="45.1" height="38.6" fill="#28FF14"/><rect x="922.9" y="1967.4" width="45.1" height="38.6" fill="#14105C"/><rect x="967.7" y="1967.4" width="45.1" height="38.6" fill="#C8A277"/><rect x="1012.5" y="1967.4" width="45.1" height="38.6" fill="#FF0000"/><rect x="1057.3" y="1967.4" width="45.1" height="38.6" fill="#9AFF28"/><rect x="1102.1" y="1967.4" width="45.1" height="38.6" fill="#8F1A22"/><rect x="1146.9" y="1967.4" width="45.1" height="38.6" fill="#3DDBC5"/><rect x="1191.7" y="1967.4" width="45.1" height="38.6" fill="#F96A60"/><rect x="1236.5" y="1967.4" width="45.1" height="38.6" fill="#8E08E0"/><rect x="1281.3" y="1967.4" width="45.1" height="38.6" fill="#D8FBFF"/><rect x="1326.1" y="1967.4" width="45.1" height="38.6" fill="#1EFFFF"/><rect x="1370.9" y="1967.4" width="45.1" height="38.6" fill="#000000"/><rect x="1415.7" y="1967.4" width="45.1" height="38.6" fill="#FFAEC2"/><rect x="1460.5" y="1967.4" width="45.1" height="38.6" fill="#0000FF"/><rect x="1505.3" y="1967.4" width="45.1" height="38.6" fill="#F800F8"/><rect x="1550.1" y="1967.4" width="45.1" height="38.6" fill="#878787"/><rect x="1594.9" y="1967.4" width="45.1" height="38.6" fill="#FFFEDC"/><rect x="1639.7" y="1967.4" width="45.1" height="38.6" fill="#7FE87F"/></g>
<text transform="translate(1693.8 2043.24) rotate(45)" font-size="19.2">Lys</text>
<text transform="translate(1693.8 2099.73) rotate(45)" font-size="19.2">Glu</text>
<text transform="translate(1693.8 2156.22) rotate(45)" font-size="19.2">Asp</text>
<text transform="translate(1693.8 2212.71) rotate(45)" font-size="19.2">C18.1</text>
<text transform="translate(1693.8 2269.2) rotate(45)" font-size="19.2">C18.0</text>
<text transform="translate(1693.8 2325.69) rotate(45)" font-size="19.2">C16.0</text>
<text transform="translate(1693.8 2382.18) rotate(45)" font-size="19.2">3-Heptanone, 2-methyl-</text>
<text transform="translate(1701 2433.17) rotate(45)" font-size="19.2">Cyclohexasiloxane,</text>
<text transform="translate(1688.5 2450.67) rotate(45)" font-size="19.2">dodecamethyl-</text>
<text transform="translate(1693.8 2496.46) rotate(45)" font-size="19.2">Nonanal</text>
<defs><linearGradient id="cbH"><stop offset="0" stop-color="#2F86D3"/><stop offset="0.5" stop-color="#fff"/><stop offset="1" stop-color="#E8421C"/></linearGradient></defs>
<rect x="984.0" y="2532.0" width="549.5" height="17.5" fill="url(#cbH)" stroke="#000" stroke-width="2"/>
<path d="M984 2549.5V2562" stroke="#000" stroke-width="2"/>
<text x="982.4" y="2585" font-size="19.2" text-anchor="middle">−1</text>
<path d="M1121.38 2549.5V2562" stroke="#000" stroke-width="2"/>
<text x="1119.78" y="2585" font-size="19.2" text-anchor="middle">−0.5</text>
<path d="M1258.75 2549.5V2562" stroke="#000" stroke-width="2"/>
<text x="1257.15" y="2585" font-size="19.2" text-anchor="middle">0</text>
<path d="M1396.12 2549.5V2562" stroke="#000" stroke-width="2"/>
<text x="1394.53" y="2585" font-size="19.2" text-anchor="middle">0.5</text>
<path d="M1533.5 2549.5V2562" stroke="#000" stroke-width="2"/>
<text x="1531.9" y="2585" font-size="19.2" text-anchor="middle">1</text>
<text x="5.8" y="881" font-size="33" font-weight="bold">C</text>
<text x="283.5" y="901" font-size="19.2" text-anchor="middle">Scale independence</text>
<path d="M150.2 938.2H406.0" stroke="#E4585A" stroke-width="1.3"/>
<g font-size="13.8" text-anchor="middle" fill="#D3222A"><text x="159.8" y="1135.2">1</text><text x="172" y="1119.5">2</text><text x="184.7" y="1084.9">3</text><text x="197" y="1045.3">4</text><text x="209.7" y="1035.5">5</text><text x="221.9" y="1016.9">6</text><text x="234.6" y="1001.3">7</text><text x="246.8" y="987.1">8</text><text x="259.5" y="977.8">9</text><text x="272.2" y="970.9">10</text><text x="297.2" y="963.7">12</text><text x="322" y="958.8">14</text><text x="347" y="950.9">16</text><text x="372" y="946.9">18</text><text x="396.4" y="944.1">20</text></g>
<rect x="150.2" y="930.9" width="255.8" height="207.1" fill="none" stroke="#000" stroke-width="2.4"/>
<text x="208.2" y="1170" font-size="19.2" text-anchor="middle">5</text>
<text x="270.2" y="1170" font-size="19.2" text-anchor="middle">10</text>
<text x="332.8" y="1170" font-size="19.2" text-anchor="middle">15</text>
<text x="394.8" y="1170" font-size="19.2" text-anchor="middle">20</text>
<text transform="translate(128.6 981.7) rotate(-90)" font-size="19.2" text-anchor="middle">0.5</text>
<text transform="translate(128.6 1039.4) rotate(-90)" font-size="19.2" text-anchor="middle">0.0</text>
<text transform="translate(128.6 1097.1) rotate(-90)" font-size="19.2" text-anchor="middle">−0.5</text>
<path d="M209.7 1138.0v9.6M271.7 1138.0v9.6M334.3 1138.0v9.6M396.3 1138.0v9.6M150.2 978.8h-9.6M150.2 1036.5h-9.6M150.2 1094.2h-9.6" stroke="#000" stroke-width="2.4" fill="none"/>
<text x="279.5" y="1192" font-size="19.2" text-anchor="middle">Soft Threshold (power)</text>
<text transform="translate(103.3 1050.5) rotate(-90)" font-size="19.2" text-anchor="middle">Scale Free Topology Model Fit, signed R<tspan font-size="13" dy="3.5">2</tspan></text>
<text x="645.6" y="901" font-size="19.2" text-anchor="middle">Mean connectivity</text>
<g font-size="13.8" text-anchor="middle" fill="#D3222A"><text x="524.4" y="944.1">1</text><text x="536.6" y="1013.5">2</text><text x="549.3" y="1049.7">3</text><text x="561.5" y="1071.7">4</text><text x="574.2" y="1086.3">5</text><text x="586.4" y="1097.1">6</text><text x="599.2" y="1104.4">7</text><text x="611.4" y="1110.8">8</text><text x="624.1" y="1115.2">9</text><text x="636.8" y="1119.1">10</text><text x="661.7" y="1124.9">12</text><text x="686.7" y="1128.9">14</text><text x="711.6" y="1131.8">16</text><text x="736.5" y="1134.2">18</text><text x="761" y="1135.7">20</text></g>
<rect x="514.7" y="930.9" width="256.3" height="207.1" fill="none" stroke="#000" stroke-width="2.4"/>
<text x="572.7" y="1170" font-size="19.2" text-anchor="middle">5</text>
<text x="634.8" y="1170" font-size="19.2" text-anchor="middle">10</text>
<text x="697.4" y="1170" font-size="19.2" text-anchor="middle">15</text>
<text x="759.5" y="1170" font-size="19.2" text-anchor="middle">20</text>
<text transform="translate(497.2 946.8) rotate(-90)" font-size="19.2" text-anchor="middle">2500</text>
<text transform="translate(497.2 1025.4) rotate(-90)" font-size="19.2" text-anchor="middle">1500</text>
<text transform="translate(497.2 1107.2) rotate(-90)" font-size="19.2" text-anchor="middle">500</text>
<path d="M574.2 1138.0v9.6M636.3 1138.0v9.6M698.9 1138.0v9.6M761 1138.0v9.6M514.7 941.7h-9.6M514.7 981.7h-9.6M514.7 1021.3h-9.6M514.7 1060.9h-9.6M514.7 1101h-9.6" stroke="#000" stroke-width="2.4" fill="none"/>
<text x="655.5" y="1192.5" font-size="19.2" text-anchor="middle">Soft Threshold (power)</text>
<text transform="translate(460.7 1025.5) rotate(-90)" font-size="19.2" text-anchor="middle">Mean Connectivity</text>
<text x="6.5" y="1757.6" font-size="33" font-weight="bold">F</text>
<text x="283.5" y="1822" font-size="19.2" text-anchor="middle">Scale independence</text>
<path d="M147.7 1853.9H403.2" stroke="#E31216" stroke-width="2.6"/>
<g font-size="13.8" text-anchor="middle" fill="#D3222A"><text x="156.9" y="2044.5">1</text><text x="169.1" y="2013.2">2</text><text x="181.8" y="1973.2">3</text><text x="194" y="1948.2">4</text><text x="206.7" y="1899.9">5</text><text x="218.9" y="1877.9">6</text><text x="231.6" y="1869.1">7</text><text x="243.9" y="1863.2">8</text><text x="256.6" y="1859.3">9</text><text x="269.3" y="1858.3">10</text><text x="294.2" y="1857.3">12</text><text x="319.1" y="1855.9">14</text><text x="344" y="1854.4">16</text><text x="369" y="1853.4">18</text><text x="393.4" y="1852.5">20</text></g>
<rect x="147.7" y="1839.8" width="255.5" height="207.1" fill="none" stroke="#000" stroke-width="2.4"/>
<text x="205.2" y="2079" font-size="19.2" text-anchor="middle">5</text>
<text x="267.3" y="2079" font-size="19.2" text-anchor="middle">10</text>
<text x="329.9" y="2079" font-size="19.2" text-anchor="middle">15</text>
<text x="391.9" y="2079" font-size="19.2" text-anchor="middle">20</text>
<text transform="translate(132.4 1900.3) rotate(-90)" font-size="19.2" text-anchor="middle">0.5</text>
<text transform="translate(132.4 1966.3) rotate(-90)" font-size="19.2" text-anchor="middle">0.0</text>
<text transform="translate(132.4 2033.3) rotate(-90)" font-size="19.2" text-anchor="middle">−0.5</text>
<path d="M206.7 2046.9v9.6M268.8 2046.9v9.6M331.4 2046.9v9.6M393.4 2046.9v9.6M147.7 1900.3h-9.6M147.7 1966.3h-9.6M147.7 2032.3h-9.6" stroke="#000" stroke-width="2.4" fill="none"/>
<text x="279.5" y="2100" font-size="19.2" text-anchor="middle">Soft Threshold (power)</text>
<text transform="translate(105.9 1975.5) rotate(-90)" font-size="19.2" text-anchor="middle">Scale Free Topology Model Fit, signed R<tspan font-size="13" dy="3.5">2</tspan></text>
<text x="645.6" y="1822" font-size="19.2" text-anchor="middle">Mean connectivity</text>
<g font-size="13.8" text-anchor="middle" fill="#D3222A"><text x="521.4" y="1852.9">1</text><text x="533.7" y="1927.2">2</text><text x="546.4" y="1964.4">3</text><text x="558.6" y="1986.4">4</text><text x="571.3" y="2000">5</text><text x="583.5" y="2009.8">6</text><text x="596.2" y="2017.1">7</text><text x="608.4" y="2022.5">8</text><text x="621.1" y="2026.9">9</text><text x="633.8" y="2030.3">10</text><text x="658.8" y="2035.2">12</text><text x="683.7" y="2038.6">14</text><text x="708.6" y="2041.1">16</text><text x="733.5" y="2043">18</text><text x="758" y="2044.5">20</text></g>
<rect x="511.8" y="1839.8" width="256.4" height="207.1" fill="none" stroke="#000" stroke-width="2.4"/>
<text x="569.8" y="2079" font-size="19.2" text-anchor="middle">5</text>
<text x="631.9" y="2079" font-size="19.2" text-anchor="middle">10</text>
<text x="694.4" y="2079" font-size="19.2" text-anchor="middle">15</text>
<text x="756.5" y="2079" font-size="19.2" text-anchor="middle">20</text>
<text transform="translate(496.7 1875.4) rotate(-90)" font-size="18" text-anchor="middle">2000</text>
<text transform="translate(496.7 1919.7) rotate(-90)" font-size="18" text-anchor="middle">1500</text>
<text transform="translate(496.7 1964.5) rotate(-90)" font-size="18" text-anchor="middle">1000</text>
<text transform="translate(496.7 2011) rotate(-90)" font-size="18" text-anchor="middle">500</text>
<path d="M571.3 2046.9v9.6M633.4 2046.9v9.6M695.9 2046.9v9.6M758 2046.9v9.6M511.8 1877.4h-9.6M511.8 1919.9h-9.6M511.8 1962.4h-9.6M511.8 2004.9h-9.6" stroke="#000" stroke-width="2.4" fill="none"/>
<text x="655.5" y="2101.5" font-size="19.2" text-anchor="middle">Soft Threshold (power)</text>
<text transform="translate(461.1 1930.5) rotate(-90)" font-size="19.2" text-anchor="middle">Mean Connectivity</text>
<text x="5.8" y="1265.3" font-size="33" font-weight="bold">D</text>
<text x="443.8" y="1250" font-size="19.2" text-anchor="middle">Cluster Dendrogram</text>
<text transform="translate(127.5 1265.2) rotate(-90)" font-size="19.2" text-anchor="middle">1.0</text>
<text transform="translate(127.5 1317.82) rotate(-90)" font-size="19.2" text-anchor="middle">0.9</text>
<text transform="translate(127.5 1370.44) rotate(-90)" font-size="19.2" text-anchor="middle">0.8</text>
<text transform="translate(127.5 1423.06) rotate(-90)" font-size="19.2" text-anchor="middle">0.7</text>
<text transform="translate(127.5 1475.68) rotate(-90)" font-size="19.2" text-anchor="middle">0.6</text>
<text transform="translate(127.5 1528.3) rotate(-90)" font-size="19.2" text-anchor="middle">0.5</text>
<path d="M154.0 1264.0V1566.5M154.0 1264h-12M154.0 1316.6h-12M154.0 1369.2h-12M154.0 1421.9h-12M154.0 1474.5h-12M154.0 1527.1h-12" stroke="#000" stroke-width="2.4" fill="none"/>
<text transform="translate(102.8 1406.7) rotate(-90)" font-size="19.2" text-anchor="middle">Height</text>
<text x="165.6" y="1606.8" font-size="19.2" text-anchor="end">Dynamic tree cut</text>
<path d="M186.7 1567V1449.8M197.9 1567V1459.4M209.1 1567V1469M220.2 1567V1459.4M231.4 1567V1449.8M242.6 1567V1478.6M253.8 1567V1449.8M265 1567V1469M276.1 1567V1469M287.3 1567V1459.4M298.5 1567V1449.8M309.7 1567V1449.8M320.9 1567V1469M332 1567V1430.6M343.2 1567V1478.6M354.4 1567V1469M365.6 1567V1469M376.8 1567V1478.6M387.9 1567V1497.8M399.1 1567V1488.2M410.3 1567V1497.8M421.5 1567V1478.6M432.7 1567V1526.6M443.8 1567V1536.2M455 1567V1536.2M466.2 1567V1469M477.4 1567V1478.6M488.6 1567V1488.2M499.7 1567V1507.4M510.9 1567V1507.4M522.1 1567V1517M533.3 1567V1507.4M544.5 1567V1488.2M555.6 1567V1488.2M566.8 1567V1497.8M578 1567V1497.8M589.2 1567V1507.4M600.4 1567V1497.8M611.5 1567V1497.8M622.7 1567V1488.2M633.9 1567V1488.2M645.1 1567V1478.6M656.3 1567V1469M667.4 1567V1459.4M678.6 1567V1469M689.8 1567V1459.4M701 1567V1459.4M712.2 1567V1449.8M723.3 1567V1430.6M734.5 1567V1411.4" stroke="#111" stroke-width="2.0" stroke-dasharray="2.0 7.6" fill="none"/>
<path d="M175.7 1361.6V1342.6H176.8V1350.8M177.9 1433.5V1422.8H179V1430.9M180.1 1363.1V1349.4H181.1V1363.5M178.4 1422.8V1344H180.6V1349.4M184.4 1385.7V1366.2H185.4V1376.6M183.3 1363V1348.9H184.9V1366.2M182.2 1323.9V1312.9H184.1V1348.9M179.5 1344V1297.2H183.2V1312.9M187.6 1339.8V1322.2H188.7V1339.4M186.5 1322V1306.2H188.1V1322.2M189.8 1403.4V1394.4H190.8V1404.8M187.3 1306.2V1305.6H190.3V1394.4M181.3 1297.2V1284.4H188.8V1305.6M193 1447.7V1426.4H194.1V1440.5M193.5 1426.4V1423.8H195.1V1440.3M194.3 1423.8V1367.7H196.2V1376.8M195.3 1367.7V1361.9H197.3V1378.9M196.3 1361.9V1308.8H198.4V1324.8M191.9 1312.8V1302.9H197.3V1308.8M199.5 1357.1V1350.9H200.5V1361.1M202.7 1325.1V1318.5H203.8V1328M201.6 1319.9V1313.5H203.2V1318.5M202.4 1313.5V1305.6H204.8V1316.1M200 1350.9V1305H203.6V1305.6M194.6 1302.9V1289.8H201.8V1305M207 1430.9V1410.2H208.1V1418.8M209.2 1384.8V1375H210.2V1396.7M207.5 1410.2V1355.2H209.7V1375M211.3 1394V1380.3H212.4V1392M208.6 1355.2V1353.7H211.9V1380.3M210.2 1353.7V1349H213.5V1360.4M205.9 1360.9V1342.8H211.9V1349M214.5 1462.9V1449H215.6V1457.2M215.1 1449V1446.9H216.7V1466.8M215.9 1446.9V1413.2H217.8V1432M216.8 1413.2V1387.7H218.9V1400.9M217.9 1387.7V1332H219.9V1351.2M208.9 1342.8V1300.5H218.9V1332M221 1348.7V1329.3H222.1V1347.6M223.2 1405.9V1392.8H224.3V1410.7M225.3 1416.3V1404.1H226.4V1412.5M223.7 1392.8V1340.5H225.9V1404.1M227.5 1429.3V1420.9H228.6V1440.3M228 1420.9V1400.3H229.6V1415.9M224.8 1340.5V1338.5H228.8V1400.3M221.6 1329.3V1313.8H226.8V1338.5M231.8 1434.7V1416.5H232.9V1435.7M234 1444.1V1435.2H235V1451.6M232.3 1416.5V1350.8H234.5V1435.2M230.7 1334V1323.3H233.4V1350.8M224.2 1313.8V1313.5H232.1V1323.3M238.3 1422.3V1411.1H239.3V1425.8M237.2 1398.4V1385H238.8V1411.1M238 1385V1349.1H240.4V1362M242.6 1474.5V1455.5H243.7V1468.9M243.1 1455.5V1423.2H244.7V1442.4M241.5 1376.5V1361.4H243.9V1423.2M239.2 1349.1V1340.2H242.7V1361.4M236.1 1341.6V1326.3H241V1340.2M228.1 1313.5V1304.5H238.5V1326.3M213.9 1300.5V1289.4H233.3V1304.5M198.2 1289.8V1282.1H223.6V1289.4M185.1 1284.4V1279.3H210.9V1282.1M245.8 1335.5V1329.3H246.9V1340.3M246.4 1329.3V1298.9H248V1319.5M249 1393.3V1377.6H250.1V1394.7M251.2 1360.3V1346.4H252.3V1364.6M251.7 1346.4V1333.4H253.4V1344.7M254.4 1399.2V1379.1H255.5V1388.6M252.6 1333.4V1308.8H255V1379.1M253.8 1308.8V1306.2H256.6V1322.7M249.6 1377.6V1305.4H255.2V1306.2M247.2 1298.9V1297.9H252.4V1305.4M258.8 1358.7V1338.2H259.8V1349.4M257.7 1318V1306.8H259.3V1338.2M249.8 1297.9V1294H258.5V1306.8M262 1462.7V1447.1H263.1V1467.6M262.5 1447.1V1409.7H264.1V1426.6M260.9 1335.3V1322.3H263.3V1409.7M265.2 1436.3V1425.9H266.3V1440.4M268.5 1430.7V1417.4H269.5V1426.9M269 1417.4V1375.1H270.6V1396.6M267.4 1358.9V1337H269.8V1375.1M265.8 1425.9V1316.3H268.6V1337M262.1 1322.3V1298.3H267.2V1316.3M271.7 1462.9V1445.2H272.8V1459.5M264.6 1298.3V1297H272.2V1445.2M274.9 1416.3V1397.1H276V1403.5M273.8 1326.3V1319H275.5V1397.1M277.1 1339V1322.1H278.2V1337.5M279.2 1323.1V1304.4H280.3V1322.2M277.6 1322.1V1303.8H279.8V1304.4M274.7 1319V1295.2H278.7V1303.8M268.4 1297V1291.2H276.7V1295.2M254.1 1294V1283H272.6V1291.2M282.5 1360.2V1348H283.5V1356.5M284.6 1335.9V1320.5H285.7V1329.3M283 1348V1307.6H285.2V1320.5M281.4 1302.5V1290.6H284.1V1307.6M263.3 1283V1275.7H282.7V1290.6M198 1279.3V1272.9H273V1275.7M288.9 1424.9V1405.3H290V1424.3M287.9 1355.2V1341.9H289.5V1405.3M286.8 1332.9V1325.5H288.7V1341.9M287.7 1325.5V1283.8H291.1V1293.4M292.2 1419.8V1412.9H293.2V1421.4M292.7 1412.9V1390.4H294.3V1401.2M293.5 1390.4V1290.4H295.4V1296.7M289.4 1283.8V1281.2H294.5V1290.4M297.6 1428.7V1416H298.6V1431.3M296.5 1390.4V1370.9H298.1V1416M291.9 1281.2V1272.6H297.3V1370.9M235.5 1272.9V1271.4H294.6V1272.6M299.7 1429.4V1418.5H300.8V1433.2M300.3 1418.5V1404.4H301.9V1415.8M301.1 1404.4V1357.4H303V1367.8M302 1357.4V1332.8H304V1340.5M303 1332.8V1305.1H305.1V1316.1M306.2 1420V1413.6H307.3V1430.1M308.3 1379.5V1372H309.4V1391M310.5 1407.7V1395H311.6V1412.4M311 1395V1358.6H312.7V1372.4M311.8 1358.6V1320.9H313.7V1341.5M308.9 1372V1316.2H312.8V1320.9M306.7 1413.6V1313.8H310.8V1316.2M314.8 1393.6V1382.2H315.9V1395.5M308.8 1313.8V1311H315.3V1382.2M317 1328V1316.4H318V1335.3M312.1 1311V1305.1H317.5V1316.4M304.1 1305.1V1302.2H314.8V1305.1M319.1 1424.4V1413.1H320.2V1421.3M319.7 1413.1V1369.6H321.3V1383.4M322.4 1443.8V1424.9H323.4V1432.1M320.5 1369.6V1322.9H322.9V1424.9M309.4 1302.2V1297.6H321.7V1322.9M326.7 1362.7V1344.6H327.7V1366.3M325.6 1330.9V1324.1H327.2V1344.6M331 1375.2V1363.2H332.1V1370.6M329.9 1348.8V1342.7H331.5V1363.2M330.7 1342.7V1333.9H333.1V1347.3M328.8 1337.7V1326.1H331.9V1333.9M326.4 1324.1V1317.4H330.4V1326.1M324.5 1321.5V1305.6H328.4V1317.4M315.6 1297.6V1295.9H326.5V1305.6M265.1 1271.4V1269.8H321V1295.9M335.3 1444.6V1438.2H336.4V1450M334.2 1431.7V1417.1H335.8V1438.2M337.5 1414.5V1408.3H338.5V1416.1M335 1417.1V1398.9H338V1408.3M336.5 1398.9V1396.2H339.6V1417M338.1 1396.2V1352.6H340.7V1373.3M342.8 1452.1V1443.5H343.9V1459.7M341.8 1359V1349.1H343.4V1443.5M339.4 1352.6V1348.8H342.6V1349.1M345 1467.3V1450.4H346.1V1461.5M347.2 1413.9V1401.7H348.2V1416.2M349.3 1423.6V1413.2H350.4V1433.4M347.7 1401.7V1384H349.8V1413.2M348.8 1384V1369.5H351.5V1383M345.5 1450.4V1351.6H350.1V1369.5M341 1348.8V1326.1H347.8V1351.6M355.8 1455V1434.3H356.9V1454.9M356.3 1434.3V1413.5H357.9V1431.5M354.7 1421.2V1412.7H357.1V1413.5M360.1 1451.3V1437.6H361.2V1456.4M359 1427.5V1421.2H360.6V1437.6M355.9 1412.7V1409.9H359.8V1421.2M353.6 1401.6V1390.8H357.9V1409.9M363.3 1445.6V1436.5H364.4V1448.2M363.9 1436.5V1432.8H365.5V1448.2M362.2 1420.3V1409.3H364.7V1432.8M355.7 1390.8V1376.9H363.5V1409.3M352.5 1374.3V1356.6H359.6V1376.9M367.6 1446.1V1432.6H368.7V1446.7M366.6 1438.5V1422.9H368.2V1432.6M369.8 1417.4V1404.3H370.9V1424.6M367.4 1422.9V1398.6H370.3V1404.3M373 1423.9V1403.4H374.1V1424.4M371.9 1412.8V1400.3H373.6V1403.4M368.8 1398.6V1381.5H372.8V1400.3M376.3 1474.4V1453.4H377.3V1468.2M376.8 1453.4V1439H378.4V1458.6M377.6 1439V1420.2H379.5V1434M375.2 1423.2V1407.2H378.6V1420.2M370.8 1381.5V1364.4H376.9V1407.2M356.1 1356.6V1337H373.8V1364.4M380.6 1435.4V1423H381.7V1444.3M381.1 1423V1404.6H382.7V1421.1M383.8 1459.2V1440.9H384.9V1448.3M381.9 1404.6V1389.6H384.3V1440.9M386 1449.7V1429.9H387V1442.3M383.1 1389.6V1363.2H386.5V1429.9M388.1 1420V1410.5H389.2V1418.6M388.7 1410.5V1395.6H390.3V1414.4M391.4 1445.8V1424.2H392.4V1442.9M391.9 1424.2V1398.3H393.5V1416.7M389.5 1395.6V1371.8H392.7V1398.3M384.8 1363.2V1360.8H391.1V1371.8M394.6 1475.9V1457.3H395.7V1464.3M395.1 1457.3V1376.6H396.7V1397.4M398.9 1441.1V1421.1H400V1441.6M397.8 1401.4V1381.1H399.4V1421.1M398.6 1381.1V1375.3H401.1V1388.5M402.1 1462.9V1452.9H403.2V1465.7M402.7 1452.9V1420.7H404.3V1440.7M405.4 1467.7V1455H406.4V1473.4M403.5 1420.7V1397.5H405.9V1455M399.8 1375.3V1374H404.7V1397.5M395.9 1376.6V1365.5H402.3V1374M407.5 1434.3V1426H408.6V1446.5M411.8 1484.8V1467H412.9V1482.9M412.4 1467V1461.3H414V1475.5M410.8 1457.1V1449H413.2V1461.3M409.7 1420V1401.1H412V1449M415.1 1425.9V1419H416.2V1434.2M410.8 1401.1V1398.8H415.6V1419M413.2 1398.8V1393.9H417.2V1402.8M419.4 1469.1V1448.4H420.5V1456.8M418.3 1424.7V1415.4H419.9V1448.4M415.2 1393.9V1387.9H419.1V1415.4M422.6 1466.6V1455H423.7V1470.8M421.5 1446V1437.9H423.2V1455M417.2 1387.9V1382.3H422.3V1437.9M408.1 1426V1381.1H419.8V1382.3M399.1 1365.5V1356.8H413.9V1381.1M388 1360.8V1347.5H406.5V1356.8M425.9 1456.8V1436.6H426.9V1453.7M426.4 1436.6V1431.6H428V1438.9M430.2 1476.5V1461.8H431.2V1475.9M430.7 1461.8V1452H432.3V1458.3M429.1 1462V1444H431.5V1452M433.4 1494.6V1485.6H434.5V1494.7M430.3 1444V1440.9H433.9V1485.6M427.2 1431.6V1430.8H432.1V1440.9M435.6 1470V1453.1H436.6V1471.6M438.8 1500.9V1494.3H439.9V1506.9M440.9 1493.7V1479.8H442V1500.9M441.5 1479.8V1468.5H443.1V1490M444.2 1501.4V1490.3H445.3V1502.8M442.3 1468.5V1451.1H444.7V1490.3M443.5 1451.1V1442.5H446.3V1457.4M447.4 1486.7V1464.8H448.5V1481.4M449.6 1505.2V1498.1H450.6V1505.3M450.1 1498.1V1456H451.7V1464.3M450.9 1456V1453.6H452.8V1470.3M453.9 1501.1V1484.3H455V1502.2M454.4 1484.3V1472.5H456V1491M451.9 1453.6V1452.6H455.2V1472.5M459.3 1536.9V1517.1H460.4V1534.5M458.2 1515.8V1502.7H459.8V1517.1M459 1502.7V1495.6H461.4V1509.2M457.1 1497.3V1489.3H460.2V1495.6M458.7 1489.3V1465.6H462.5V1476.3M453.5 1452.6V1447.7H460.6V1465.6M448 1464.8V1446.7H457.1V1447.7M444.9 1442.5V1439.4H452.5V1446.7M439.3 1494.3V1437.4H448.7V1439.4M437.7 1448.1V1435.1H444V1437.4M436.1 1453.1V1434.9H440.9V1435.1M429.7 1430.8V1421.8H438.5V1434.9M424.8 1435.8V1421.4H434.1V1421.8M397.2 1347.5V1312.3H429.4V1421.4M365 1337V1303.1H413.3V1312.3M344.4 1326.1V1294.9H389.1V1303.1M463.6 1411.9V1404.1H464.7V1422.4M466.8 1444V1424.5H467.9V1442M465.7 1423.6V1403.9H467.4V1424.5M471.1 1443V1427H472.2V1448M471.7 1427V1413.4H473.3V1431.4M470.1 1408.6V1400.1H472.5V1413.4M469 1415.7V1395.3H471.3V1400.1M466.6 1403.9V1390.2H470.1V1395.3M464.1 1404.1V1383.1H468.3V1390.2M474.4 1455.7V1434.4H475.4V1452.5M477.6 1458.3V1450.9H478.7V1459.9M476.5 1454V1439.1H478.1V1450.9M474.9 1434.4V1407.2H477.3V1439.1M476.1 1407.2V1396.1H479.8V1408.1M466.2 1383.1V1337.7H477.9V1396.1M480.8 1443.4V1435.7H481.9V1446.6M485.1 1472.3V1456.1H486.2V1469.2M484.1 1443.4V1429.9H485.7V1456.1M483 1427.1V1416.7H484.9V1429.9M487.3 1441.5V1429.4H488.4V1437.1M483.9 1416.7V1415H487.8V1429.4M481.4 1435.7V1399.9H485.9V1415M489.5 1468.8V1452.8H490.5V1460.9M483.6 1399.9V1389.4H490V1452.8M492.7 1452.6V1443.8H493.8V1452.9M491.6 1442.6V1426.5H493.2V1443.8M495.9 1479.8V1466.3H497V1483.6M494.8 1460.6V1454H496.5V1466.3M495.7 1454V1448.1H498.1V1455.7M492.4 1426.5V1383.3H496.9V1448.1M501.3 1499.8V1486.9H502.4V1505.2M501.9 1486.9V1486.5H503.5V1498M500.2 1498.9V1477.1H502.7V1486.5M504.6 1484.7V1465.5H505.6V1486.4M501.5 1477.1V1441H505.1V1465.5M506.7 1487.1V1478.9H507.8V1488.2M507.2 1478.9V1473H508.9V1481.4M503.3 1441V1426.2H508.1V1473M499.2 1423V1416.4H505.7V1426.2M513.2 1481.1V1465.1H514.3V1482.8M512.1 1466.4V1445.6H513.7V1465.1M512.9 1445.6V1441.8H515.3V1457.6M511 1450.7V1437H514.1V1441.8M516.4 1480.7V1469.6H517.5V1488.2M512.6 1437V1420.5H517V1469.6M518.6 1478.7V1468.8H519.6V1490.6M519.1 1468.8V1419.9H520.7V1434.3M514.8 1420.5V1418.7H519.9V1419.9M509.9 1435.3V1418.3H517.3V1418.7M521.8 1477.8V1467.7H522.9V1476.7M522.3 1467.7V1415H524V1425.9M525 1451.9V1438.9H526.1V1453.8M523.1 1415V1414.2H525.6V1438.9M513.6 1418.3V1384.2H524.4V1414.2M527.2 1482.7V1473.5H528.3V1484.8M529.3 1495.1V1484.4H530.4V1492.1M527.7 1473.5V1453.9H529.9V1484.4M531.5 1499.3V1481.8H532.6V1491.9M528.8 1453.9V1430.9H532V1481.8M534.7 1439.4V1428.7H535.8V1438.4M536.9 1462.7V1446.9H538V1461.2M537.4 1446.9V1435.9H539.1V1451M540.1 1468.9V1459.7H541.2V1480.7M538.2 1435.9V1427.8H540.7V1459.7M535.3 1428.7V1408.3H539.5V1427.8M533.7 1421.3V1406.7H537.4V1408.3M530.4 1430.9V1401.9H535.5V1406.7M542.3 1448.8V1426.9H543.4V1444.2M533 1401.9V1379H542.8V1426.9M519 1384.2V1362.7H537.9V1379M502.4 1416.4V1356.5H528.4V1362.7M494.6 1383.3V1347.5H515.4V1356.5M486.8 1389.4V1337.1H505V1347.5M472.1 1337.7V1326.7H495.9V1337.1M545.5 1469.9V1454.8H546.6V1461.2M544.4 1473V1452.1H546.1V1454.8M548.8 1480V1461.6H549.8V1469.8M547.7 1463.2V1446.6H549.3V1461.6M550.9 1429.5V1415.8H552V1428.5M548.5 1446.6V1410.7H551.4V1415.8M550 1410.7V1390.6H553.1V1402M545.2 1452.1V1382.6H551.5V1390.6M555.2 1443V1423H556.3V1433.3M554.1 1420.5V1413H555.8V1423M557.4 1482.1V1462H558.5V1475.2M557.9 1462V1420.6H559.5V1438.3M558.7 1420.6V1414.2H560.6V1424.1M561.7 1444.2V1429.1H562.8V1443.8M563.8 1449.6V1442.6H564.9V1463.2M562.2 1429.1V1425.4H564.4V1442.6M566 1442.5V1433.8H567.1V1451.7M568.2 1492.8V1472.4H569.2V1483.8M568.7 1472.4V1470.4H570.3V1478.7M566.5 1433.8V1427.2H569.5V1470.4M571.4 1458.6V1437.7H572.5V1443.7M568 1427.2V1424.9H571.9V1437.7M563.3 1425.4V1408.6H570V1424.9M559.7 1414.2V1396H566.6V1408.6M555 1413V1392.6H563.2V1396M575.7 1490V1471.9H576.8V1483.7M574.6 1476.2V1464.4H576.2V1471.9M575.4 1464.4V1440.1H577.9V1448.7M573.5 1453.7V1436.7H576.6V1440.1M575.1 1436.7V1431.7H578.9V1447.3M577 1431.7V1426.9H580V1445.9M578.5 1426.9V1346.2H581.1V1359.5M583.3 1481.3V1462.7H584.3V1483.6M582.2 1438.5V1426H583.8V1462.7M587.6 1474.6V1456.5H588.6V1476.1M590.8 1468.4V1452.5H591.9V1468.8M589.7 1457.5V1437H591.3V1452.5M588.1 1456.5V1435.1H590.5V1437M586.5 1438.8V1430.5H589.3V1435.1M585.4 1451V1429H587.9V1430.5M583 1426V1424.7H586.7V1429M593 1478.9V1460.7H594V1469.2M595.1 1459.3V1446.7H596.2V1453.2M595.6 1446.7V1434.4H597.3V1448.8M598.3 1456.1V1448.2H599.4V1460.7M596.5 1434.4V1432.8H598.9V1448.2M593.5 1460.7V1429.7H597.7V1432.8M584.8 1424.7V1394.3H595.6V1429.7M602.7 1456.5V1446.6H603.7V1467.5M601.6 1449.5V1441.4H603.2V1446.6M600.5 1451.7V1440.3H602.4V1441.4M605.9 1468.9V1450.4H607V1467.9M606.4 1450.4V1450.1H608V1468.7M607.2 1450.1V1443.1H609.1V1455.5M604.8 1437.8V1430.9H608.2V1443.1M601.4 1440.3V1430.4H606.5V1430.9M611.3 1469.7V1462.1H612.4V1473.6M610.2 1460.3V1446.4H611.8V1462.1M615.6 1477.8V1462.7H616.7V1475.2M614.5 1477.2V1456.6H616.1V1462.7M613.4 1472.8V1452.5H615.3V1456.6M614.4 1452.5V1427.2H617.8V1437.7M611 1446.4V1426.8H616.1V1427.2M618.8 1484.7V1464.5H619.9V1477.9M621 1491.6V1471.1H622.1V1488.2M621.5 1471.1V1461.7H623.1V1480.9M619.4 1464.5V1421.6H622.3V1461.7M625.3 1456.3V1448.5H626.4V1469.5M624.2 1427.8V1419.9H625.8V1448.5M625 1419.9V1419.5H627.5V1430.8M620.9 1421.6V1417H626.2V1419.5M623.5 1417V1413.3H628.5V1427.6M630.7 1457.5V1451.1H631.8V1471.6M629.6 1436.8V1424.1H631.2V1451.1M626 1413.3V1402.9H630.4V1424.1M633.9 1450.6V1434.7H635V1447.7M632.8 1423.8V1413.1H634.5V1434.7M628.2 1402.9V1401.9H633.7V1413.1M637.2 1437.3V1426.1H638.2V1444.8M636.1 1400.6V1388.6H637.7V1426.1M630.9 1401.9V1386.4H636.9V1388.6M613.5 1426.8V1379.6H633.9V1386.4M604 1430.4V1363.6H623.7V1379.6M590.2 1394.3V1347.5H613.8V1363.6M579.8 1346.2V1339H602V1347.5M559.1 1392.6V1331.4H590.9V1339M548.4 1382.6V1324H575V1331.4M484 1326.7V1293.6H561.7V1324M366.8 1294.9V1288.8H522.8V1293.6M639.3 1479.4V1459.3H640.4V1479.3M642.5 1443.9V1424.4H643.6V1434.3M641.5 1405.4V1395.5H643.1V1424.4M642.3 1395.5V1392.7H644.7V1412.6M639.9 1459.3V1366.5H643.5V1392.7M641.7 1366.5V1331.7H645.8V1353.3M647.9 1365.7V1358H649V1378.6M646.9 1371.5V1357.9H648.5V1358M650.1 1405.4V1390.7H651.2V1407.2M650.6 1390.7V1385.5H652.2V1406.6M647.7 1357.9V1354.7H651.4V1385.5M654.4 1376.9V1354.9H655.5V1372.6M657.6 1452.5V1440.6H658.7V1455.4M658.2 1440.6V1429.8H659.8V1444.9M656.6 1439.6V1419.7H659V1429.8M654.9 1354.9V1354.9H657.8V1419.7M653.3 1374.1V1354H656.4V1354.9M654.8 1354V1344.9H660.9V1353.5M662 1446.3V1429.9H663V1442.7M664.1 1410.7V1402.7H665.2V1409.9M662.5 1429.9V1367.4H664.6V1402.7M667.3 1379.3V1371.2H668.4V1391.3M666.3 1380.7V1366.3H667.9V1371.2M669.5 1396.3V1381.1H670.6V1394.4M667.1 1366.3V1361.5H670V1381.1M663.6 1367.4V1353.8H668.6V1361.5M672.7 1435.5V1417.8H673.8V1424.2M671.7 1405.7V1394.9H673.3V1417.8M666.1 1353.8V1331.4H672.5V1394.9M657.9 1344.9V1327.9H669.3V1331.4M649.6 1354.7V1318H663.6V1327.9M643.7 1331.7V1315.3H656.6V1318M676 1414.5V1401.5H677V1414.7M674.9 1369.8V1361H676.5V1401.5M675.7 1361V1353.9H678.1V1368.4M676.9 1353.9V1332.8H679.2V1341.1M678.1 1332.8V1329.7H680.3V1346.7M682.4 1435.2V1424.3H683.5V1437.5M683 1424.3V1406.9H684.6V1417.9M685.7 1427.3V1416.1H686.7V1424.4M683.8 1406.9V1389.6H686.2V1416.1M685 1389.6V1376.7H687.8V1395.1M688.9 1390.5V1372H690V1392.1M691.1 1446.2V1436.9H692.1V1456.7M691.6 1436.9V1404.2H693.2V1421.3M689.4 1372V1358.9H692.4V1404.2M686.4 1376.7V1346.4H690.9V1358.9M694.3 1429.3V1422.4H695.4V1433.4M697.5 1425.1V1404.7H698.6V1411M696.5 1418.6V1398.9H698.1V1404.7M694.8 1422.4V1393.7H697.3V1398.9M699.7 1434.2V1418H700.8V1435.2M700.2 1418V1414.8H701.8V1429.8M702.9 1410.6V1396.1H704V1405.8M701 1414.8V1385.3H703.5V1396.1M696 1393.7V1348.1H702.2V1385.3M688.7 1346.4V1332.6H699.1V1348.1M681.4 1330.4V1320.7H693.9V1332.6M706.2 1410.4V1388.7H707.2V1405.1M705.1 1370.2V1349.1H706.7V1388.7M687.6 1320.7V1315.5H705.9V1349.1M679.2 1329.7V1312.4H696.8V1315.5M650.1 1315.3V1293.9H688V1312.4M709.4 1375.2V1356.2H710.5V1377.5M708.3 1354.2V1343.3H709.9V1356.2M712.6 1389V1376.2H713.7V1396.3M713.2 1376.2V1374.3H714.8V1385.6M711.5 1355.5V1345.1H714V1374.3M715.9 1439.4V1418H716.9V1436.5M716.4 1418V1369.4H718V1382.1M712.8 1345.1V1331.9H717.2V1369.4M709.1 1343.3V1324.6H715V1331.9M669.1 1293.9V1289.8H712V1324.6M444.8 1288.8V1272.7H690.6V1289.8M293 1269.8V1268.3H567.7V1272.7M719.1 1356.4V1347.7H720.2V1367.4M721.2 1331.7V1323.8H722.3V1340.8M723.4 1422.7V1412.4H724.5V1429.9M727.7 1424.2V1413.9H728.8V1432.7M726.6 1417.6V1406.9H728.3V1413.9M725.6 1378.5V1364.5H727.4V1406.9M723.9 1412.4V1343.8H726.5V1364.5M721.8 1323.8V1304.5H725.2V1343.8M730.9 1376.1V1368.2H732V1382.5M729.9 1357.6V1343.2H731.5V1368.2M733.1 1325.7V1304.1H734.2V1324.4M730.7 1343.2V1290.5H733.6V1304.1M732.2 1290.5V1275.6H735.3V1284.5M723.5 1304.5V1275H733.7V1275.6M719.6 1347.7V1273.8H728.6V1275M430.4 1268.3V1267.4H724.1V1273.8M176.3 1342.6V1264.7H577.2V1267.4M175.7 1311V1423M176.8 1312V1427M177.9 1308V1423M179 1342V1458M180.1 1338V1444M181.1 1337V1443M182.2 1343V1430M183.3 1339V1452M184.4 1336V1454M185.4 1335V1451M186.5 1327V1451M187.6 1324V1452M188.7 1327V1450M189.8 1375V1437M190.8 1396V1453M191.9 1327V1449M193 1329V1448M194.1 1309V1447M195.1 1306V1448M196.2 1306V1449M197.3 1335V1445M198.4 1335V1448M199.5 1338V1458M200.5 1315V1460M201.6 1381V1455M202.7 1314V1459M203.8 1314V1460M204.8 1336V1431M205.9 1337V1430M207 1338V1466M208.1 1341V1467M209.2 1343V1468M210.2 1343V1464M211.3 1343V1466M212.4 1359V1440M213.5 1359V1444M214.5 1428V1464M215.6 1361V1466M216.7 1359V1464M217.8 1363V1459M218.9 1376V1462M219.9 1378V1460M221 1377V1458M222.1 1380V1458M223.2 1385V1457M224.3 1350V1454M225.3 1352V1444M226.4 1389V1445M227.5 1376V1441M228.6 1331V1420M229.6 1398V1410M230.7 1329V1410M231.8 1330V1414M232.9 1326V1439M234 1330V1436M235 1327V1436M236.1 1340V1441M237.2 1346V1450M238.3 1345V1453M239.3 1347V1475M240.4 1344V1478M241.5 1348V1482M242.6 1413V1469M243.7 1355V1474M244.7 1361V1461M245.8 1347V1434M246.9 1307V1418M248 1332V1413M249 1331V1397M250.1 1333V1435M251.2 1333V1439M252.3 1431V1443M253.4 1347V1444M254.4 1346V1446M255.5 1417V1450M256.6 1333V1458M257.7 1331V1458M258.8 1308V1458M259.8 1347V1465M260.9 1345V1473M262 1309V1458M263.1 1306V1463M264.1 1309V1459M265.2 1307V1467M266.3 1317V1466M267.4 1316V1459M268.5 1316V1461M269.5 1313V1474M270.6 1314V1472M271.7 1400V1457M272.8 1311V1453M273.8 1309V1430M274.9 1309V1429M276 1354V1425M277.1 1352V1443M278.2 1353V1442M279.2 1339V1467M280.3 1335V1465M281.4 1281V1463M282.5 1284V1450M283.5 1282V1449M284.6 1285V1451M285.7 1284V1468M286.8 1308V1434M287.9 1289V1432M288.9 1373V1433M290 1287V1430M291.1 1287V1433M292.2 1284V1429M293.2 1358V1425M294.3 1283V1425M295.4 1280V1453M296.5 1278V1455M297.6 1279V1451M298.6 1282V1450M299.7 1306V1450M300.8 1424V1440M301.9 1310V1436M303 1313V1425M304 1314V1425M305.1 1312V1438M306.2 1311V1444M307.3 1369V1443M308.3 1311V1444M309.4 1334V1420M310.5 1336V1436M311.6 1335V1438M312.7 1309V1423M313.7 1319V1426M314.8 1321V1458M315.9 1320V1450M317 1309V1456M318 1310V1452M319.1 1311V1452M320.2 1308V1454M321.3 1310V1470M322.4 1341V1465M323.4 1315V1459M324.5 1307V1460M325.6 1313V1457M326.7 1317V1437M327.7 1316V1436M328.8 1340V1446M329.9 1336V1429M331 1336V1424M332.1 1387V1399M333.1 1367V1444M334.2 1376V1453M335.3 1378V1463M336.4 1379V1436M337.5 1355V1440M338.5 1355V1453M339.6 1354V1488M340.7 1359V1485M341.8 1359V1485M342.8 1360V1483M343.9 1426V1469M345 1423V1468M346.1 1426V1454M347.2 1423V1450M348.2 1369V1452M349.3 1368V1441M350.4 1376V1441M351.5 1427V1439M352.5 1378V1466M353.6 1376V1463M354.7 1359V1427M355.8 1360V1426M356.9 1365V1425M357.9 1388V1442M359 1391V1475M360.1 1394V1461M361.2 1391V1428M362.2 1386V1459M363.3 1386V1461M364.4 1387V1460M365.5 1428V1474M366.6 1414V1476M367.6 1410V1473M368.7 1413V1473M369.8 1414V1475M370.9 1420V1472M371.9 1416V1449M373 1388V1471M374.1 1459V1471M375.2 1448V1462M376.3 1371V1464M377.3 1372V1467M378.4 1370V1470M379.5 1369V1481M380.6 1411V1485M381.7 1411V1488M382.7 1411V1487M383.8 1412V1487M384.9 1367V1454M386 1368V1493M387 1364V1490M388.1 1409V1495M389.2 1382V1480M390.3 1381V1475M391.4 1384V1477M392.4 1383V1494M393.5 1421V1495M394.6 1387V1494M395.7 1394V1491M396.7 1391V1488M397.8 1386V1448M398.9 1432V1444M400 1384V1486M401.1 1377V1485M402.1 1380V1485M403.2 1383V1494M404.3 1381V1486M405.4 1391V1487M406.4 1392V1469M407.5 1395V1472M408.6 1380V1499M409.7 1378V1474M410.8 1381V1474M411.8 1388V1477M412.9 1405V1496M414 1410V1497M415.1 1414V1490M416.2 1412V1472M417.2 1399V1474M418.3 1406V1491M419.4 1410V1489M420.5 1407V1482M421.5 1414V1458M422.6 1418V1474M423.7 1428V1462M424.8 1435V1469M425.9 1417V1481M426.9 1421V1489M428 1427V1510M429.1 1483V1509M430.2 1472V1510M431.2 1483V1509M432.3 1459V1519M433.4 1489V1501M434.5 1459V1502M435.6 1461V1511M436.6 1420V1512M437.7 1440V1516M438.8 1428V1516M439.9 1482V1518M440.9 1433V1516M442 1433V1509M443.1 1476V1510M444.2 1437V1509M445.3 1437V1519M446.3 1440V1518M447.4 1450V1519M448.5 1499V1534M449.6 1466V1531M450.6 1459V1529M451.7 1460V1539M452.8 1505V1541M453.9 1445V1534M455 1442V1533M456 1497V1519M457.1 1464V1520M458.2 1509V1522M459.3 1466V1533M460.4 1489V1501M461.4 1478V1490M462.5 1483V1499M463.6 1447V1471M464.7 1382V1448M465.7 1452V1464M466.8 1388V1465M467.9 1402V1468M469 1422V1434M470.1 1380V1433M471.1 1423V1435M472.2 1394V1481M473.3 1441V1453M474.4 1407V1455M475.4 1406V1457M476.5 1389V1478M477.6 1434V1480M478.7 1388V1436M479.8 1387V1439M480.8 1389V1475M481.9 1391V1476M483 1405V1474M484.1 1407V1484M485.1 1459V1471M486.2 1408V1483M487.3 1425V1486M488.4 1426V1488M489.5 1431V1467M490.5 1427V1472M491.6 1422V1476M492.7 1425V1459M493.8 1426V1502M494.8 1450V1509M495.9 1415V1508M497 1478V1490M498.1 1417V1507M499.2 1423V1510M500.2 1419V1510M501.3 1463V1494M502.4 1438V1497M503.5 1440V1504M504.6 1454V1502M505.6 1405V1504M506.7 1401V1505M507.8 1402V1486M508.9 1470V1485M509.9 1414V1481M511 1463V1481M512.1 1422V1481M513.2 1420V1509M514.3 1429V1507M515.3 1432V1506M516.4 1477V1489M517.5 1426V1501M518.6 1423V1512M519.6 1454V1515M520.7 1418V1511M521.8 1421V1510M522.9 1439V1511M524 1437V1504M525 1441V1505M526.1 1439V1504M527.2 1435V1516M528.3 1436V1510M529.3 1464V1506M530.4 1416V1515M531.5 1452V1514M532.6 1414V1513M533.7 1406V1499M534.7 1478V1495M535.8 1416V1498M536.9 1469V1506M538 1412V1491M539.1 1391V1489M540.1 1470V1489M541.2 1409V1493M542.3 1412V1490M543.4 1435V1490M544.4 1398V1491M545.5 1476V1492M546.6 1451V1490M547.7 1453V1492M548.8 1458V1492M549.8 1460V1477M550.9 1421V1472M552 1425V1470M553.1 1426V1480M554.1 1429V1480M555.2 1391V1483M556.3 1393V1473M557.4 1460V1472M558.5 1441V1471M559.5 1441V1477M560.6 1410V1480M561.7 1405V1480M562.8 1409V1480M563.8 1403V1483M564.9 1402V1451M566 1397V1454M567.1 1402V1486M568.2 1476V1488M569.2 1477V1489M570.3 1444V1494M571.4 1446V1488M572.5 1447V1488M573.5 1411V1485M574.6 1414V1481M575.7 1410V1482M576.8 1449V1485M577.9 1431V1504M578.9 1433V1507M580 1466V1478M581.1 1475V1487M582.2 1417V1479M583.3 1466V1478M584.3 1413V1480M585.4 1413V1494M586.5 1417V1491M587.6 1424V1491M588.6 1425V1489M589.7 1425V1493M590.8 1460V1472M591.9 1459V1471M593 1461V1473M594 1443V1487M595.1 1470V1487M596.2 1443V1503M597.3 1450V1498M598.3 1451V1494M599.4 1452V1477M600.5 1453V1477M601.6 1442V1500M602.7 1453V1502M603.7 1451V1483M604.8 1472V1484M605.9 1433V1495M607 1433V1494M608 1485V1497M609.1 1434V1494M610.2 1444V1481M611.3 1417V1478M612.4 1416V1475M613.4 1465V1477M614.5 1423V1487M615.6 1425V1461M616.7 1423V1467M617.8 1454V1466M618.8 1429V1467M619.9 1456V1496M621 1428V1495M622.1 1424V1476M623.1 1464V1477M624.2 1422V1478M625.3 1461V1486M626.4 1415V1483M627.5 1411V1489M628.5 1457V1489M629.6 1445V1485M630.7 1440V1485M631.8 1400V1483M632.8 1389V1473M633.9 1386V1472M635 1392V1445M636.1 1394V1477M637.2 1375V1475M638.2 1370V1474M639.3 1366V1486M640.4 1377V1485M641.5 1376V1481M642.5 1367V1481M643.6 1370V1479M644.7 1445V1458M645.8 1365V1454M646.9 1403V1469M647.9 1407V1459M649 1403V1459M650.1 1400V1476M651.2 1369V1474M652.2 1371V1471M653.3 1418V1447M654.4 1371V1445M655.5 1370V1462M656.6 1367V1460M657.6 1384V1453M658.7 1380V1447M659.8 1381V1441M660.9 1381V1459M662 1384V1460M663 1378V1461M664.1 1369V1462M665.2 1367V1462M666.3 1362V1464M667.3 1340V1461M668.4 1340V1463M669.5 1338V1429M670.6 1353V1429M671.7 1354V1466M672.7 1355V1440M673.8 1377V1440M674.9 1374V1439M676 1331V1462M677 1331V1465M678.1 1334V1437M679.2 1348V1440M680.3 1349V1439M681.4 1360V1449M682.4 1360V1447M683.5 1351V1446M684.6 1343V1445M685.7 1328V1447M686.7 1326V1448M687.8 1325V1445M688.9 1429V1442M690 1330V1430M691.1 1330V1463M692.1 1361V1463M693.2 1329V1458M694.3 1377V1454M695.4 1328V1457M696.5 1345V1460M697.5 1343V1456M698.6 1344V1441M699.7 1363V1440M700.8 1362V1441M701.8 1366V1456M702.9 1364V1425M704 1378V1424M705.1 1375V1431M706.2 1377V1431M707.2 1375V1427M708.3 1344V1440M709.4 1344V1411M710.5 1349V1410M711.5 1347V1410M712.6 1362V1451M713.7 1409V1450M714.8 1333V1448M715.9 1327V1446M716.9 1322V1446M718 1328V1441M719.1 1301V1441M720.2 1355V1440M721.2 1295V1435M722.3 1296V1388M723.4 1313V1435M724.5 1309V1437M725.6 1310V1429M726.6 1308V1489M727.7 1281V1431M728.8 1281V1431M729.9 1277V1431M730.9 1277V1433M732 1320V1425M733.1 1318V1392M734.2 1309V1381M735.3 1284V1370M175.9 1265V1486M726.9 1300V1529" stroke="#000" stroke-width="2.35" fill="none" stroke-linejoin="miter"/>
<rect x="175" y="1568.5" width="18.5" height="67.9" fill="#00FF00"/><rect x="193" y="1568.5" width="40" height="67.9" fill="#0000FF"/><rect x="232.6" y="1568.5" width="1.9" height="67.9" fill="#7FD4F0"/><rect x="234.1" y="1568.5" width="10.7" height="67.9" fill="#0000FF"/><rect x="244.3" y="1568.5" width="6.8" height="67.9" fill="#A020F0"/><rect x="250.7" y="1568.5" width="3.8" height="67.9" fill="#FA8072"/><rect x="254.1" y="1568.5" width="4.3" height="67.9" fill="#FF0000"/><rect x="258" y="1568.5" width="9.7" height="67.9" fill="#0000FF"/><rect x="267.3" y="1568.5" width="14.1" height="67.9" fill="#FF0000"/><rect x="281" y="1568.5" width="4.3" height="67.9" fill="#87CEEB"/><rect x="284.9" y="1568.5" width="7.7" height="67.9" fill="#FF00FF"/><rect x="292.2" y="1568.5" width="2.8" height="67.9" fill="#D8D8D8"/><rect x="294.7" y="1568.5" width="8.7" height="67.9" fill="#000000"/><rect x="303" y="1568.5" width="25.8" height="67.9" fill="#A52A2A"/><rect x="328.4" y="1568.5" width="230.6" height="67.9" fill="#40E0D0"/><rect x="558.6" y="1568.5" width="4.3" height="67.9" fill="#FA8072"/><rect x="562.5" y="1568.5" width="119.2" height="67.9" fill="#40E0D0"/><rect x="681.2" y="1568.5" width="11.2" height="67.9" fill="#FFFF00"/><rect x="692" y="1568.5" width="13.1" height="67.9" fill="#40E0D0"/><rect x="704.7" y="1568.5" width="13.1" height="67.9" fill="#FFFF00"/><rect x="717.4" y="1568.5" width="6.3" height="67.9" fill="#ADFF2F"/><rect x="723.3" y="1568.5" width="13.1" height="67.9" fill="#FFC0CB"/><path d="M175.0 1568.5H736.0M175.0 1636.4H736.0" stroke="#000" stroke-width="2"/>
<text x="5.6" y="2175.6" font-size="33" font-weight="bold">G</text>
<text x="451.6" y="2149.2" font-size="19.2" text-anchor="middle">Cluster Dendrogram</text>
<text transform="translate(134.2 2171.5) rotate(-90)" font-size="19.2" text-anchor="middle">1.0</text>
<text transform="translate(134.2 2230.24) rotate(-90)" font-size="19.2" text-anchor="middle">0.9</text>
<text transform="translate(134.2 2288.98) rotate(-90)" font-size="19.2" text-anchor="middle">0.8</text>
<text transform="translate(134.2 2347.72) rotate(-90)" font-size="19.2" text-anchor="middle">0.7</text>
<text transform="translate(134.2 2406.46) rotate(-90)" font-size="19.2" text-anchor="middle">0.6</text>
<text transform="translate(134.2 2465.2) rotate(-90)" font-size="19.2" text-anchor="middle">0.5</text>
<path d="M152.5 2170.3V2464.0M152.5 2170.3h-12M152.5 2229h-12M152.5 2287.8h-12M152.5 2346.5h-12M152.5 2405.3h-12M152.5 2464h-12" stroke="#000" stroke-width="2.4" fill="none"/>
<text transform="translate(102.8 2333.5) rotate(-90)" font-size="19.2" text-anchor="middle">Height</text>
<text x="165.3" y="2521.4" font-size="19.2" text-anchor="end">Dynamic tree cut</text>
<path d="M185.3 2483.3V2385.1M196.5 2483.3V2346.6M207.7 2483.3V2356.2M218.8 2483.3V2365.9M230 2483.3V2375.5M241.2 2483.3V2385.1M252.4 2483.3V2375.5M263.6 2483.3V2385.1M274.7 2483.3V2404.3M285.9 2483.3V2375.5M297.1 2483.3V2414M308.3 2483.3V2394.7M319.5 2483.3V2375.5M330.6 2483.3V2385.1M341.8 2483.3V2375.5M353 2483.3V2414M364.2 2483.3V2452.4M375.4 2483.3V2452.4M386.5 2483.3V2452.4M397.7 2483.3V2442.8M408.9 2483.3V2452.4M420.1 2483.3V2452.4M431.3 2483.3V2452.4M442.4 2483.3V2452.4M453.6 2483.3V2442.8M464.8 2483.3V2442.8M476 2483.3V2442.8M487.2 2483.3V2442.8M498.3 2483.3V2442.8M509.5 2483.3V2442.8M520.7 2483.3V2452.4M531.9 2483.3V2452.4M543.1 2483.3V2452.4M554.2 2483.3V2452.4M565.4 2483.3V2452.4M576.6 2483.3V2452.4M587.8 2483.3V2452.4M599 2483.3V2442.8M610.1 2483.3V2423.6M621.3 2483.3V2423.6M632.5 2483.3V2404.3M643.7 2483.3V2423.6M654.9 2483.3V2414M666 2483.3V2394.7M677.2 2483.3V2394.7M688.4 2483.3V2404.3M699.6 2483.3V2414M710.8 2483.3V2385.1M721.9 2483.3V2385.1M733.1 2483.3V2375.5" stroke="#111" stroke-width="2.0" stroke-dasharray="2.0 7.62" fill="none"/>
<path d="M179.2 2347.4V2341.3H180.3V2355.4M179.7 2341.3V2335.3H181.4V2351.3M182.4 2313.1V2293.5H183.5V2299.5M184.6 2296.2V2283.7H185.6V2294.7M183 2293.5V2272.2H185.1V2283.7M180.5 2335.3V2245.7H184V2272.2M187.8 2275V2268.4H188.9V2286.5M186.7 2261.8V2246.5H188.3V2268.4M189.9 2287.8V2266.5H191V2281.2M187.5 2246.5V2246.1H190.5V2266.5M182.3 2245.7V2243.8H189V2246.1M193.1 2312.2V2292.9H194.2V2312.4M196.4 2304.1V2290.3H197.4V2297.7M195.3 2283.8V2264.7H196.9V2290.3M193.7 2292.9V2256.8H196.1V2264.7M192.1 2227.7V2211H194.9V2256.8M185.6 2243.8V2191.2H193.5V2211M199.6 2317.3V2297.8H200.6V2315M201.7 2291.1V2280H202.8V2301.6M203.9 2346.7V2330.7H204.9V2341.7M202.2 2280V2274.9H204.4V2330.7M200.1 2297.8V2271.1H203.3V2274.9M206 2314.1V2295.5H207.1V2305.1M201.7 2271.1V2243.1H206.5V2295.5M209.2 2299.8V2279.3H210.3V2286.2M208.1 2276.6V2266.8H209.7V2279.3M204.1 2243.1V2242.3H208.9V2266.8M206.5 2242.3V2234.2H211.4V2254.2M198.5 2246.2V2227.5H208.9V2234.2M213.5 2304V2288.9H214.6V2305.9M214 2288.9V2269.5H215.6V2289.9M212.4 2265.1V2252.8H214.8V2269.5M213.6 2252.8V2250.6H216.7V2260.1M203.7 2227.5V2211.3H215.2V2250.6M221 2320.6V2307.8H222.1V2315.6M219.9 2247.9V2238.3H221.5V2307.8M220.7 2238.3V2228H223.1V2235.4M218.9 2239.6V2225.4H221.9V2228M217.8 2232.7V2225.2H220.4V2225.4M219.1 2225.2V2223.2H224.2V2238.3M221.7 2223.2V2222.8H225.3V2229.7M209.4 2211.3V2189.4H223.5V2222.8M228.5 2323V2315.5H229.6V2334.4M227.4 2285.8V2273.6H229V2315.5M230.6 2269.4V2249H231.7V2255.5M228.2 2273.6V2244.1H231.2V2249M229.7 2244.1V2240.9H232.8V2259.8M226.4 2247.1V2236.8H231.2V2240.9M234.9 2294.5V2276.9H236V2283.8M235.5 2276.9V2242H237.1V2259.9M238.1 2341.7V2320.8H239.2V2330.9M240.3 2341V2332.4H241.4V2343.8M238.7 2320.8V2308.2H240.8V2332.4M243.5 2373.9V2355.4H244.6V2363.9M242.4 2305.2V2285.4H244V2355.4M239.7 2308.2V2245.8H243.2V2285.4M236.3 2242V2231.4H241.5V2245.8M245.6 2384.5V2364.1H246.7V2381.9M247.8 2383.5V2362.2H248.9V2383.8M246.2 2364.1V2244.9H248.3V2362.2M249.9 2278V2269.5H251V2287.1M252.1 2326V2319.6H253.1V2328.6M254.2 2351.8V2337.2H255.3V2346.9M252.6 2319.6V2301.3H254.8V2337.2M250.5 2269.5V2241.8H253.7V2301.3M247.2 2244.9V2240.6H252.1V2241.8M238.9 2231.4V2227.3H249.7V2240.6M233.9 2231.1V2222.2H244.3V2227.3M228.8 2236.8V2194H239.1V2222.2M256.4 2345.2V2335.7H257.4V2347.5M258.5 2359.8V2346.4H259.6V2367.1M259 2346.4V2317.3H260.6V2332.6M261.7 2367.2V2352.3H262.8V2369.8M259.8 2317.3V2277.9H262.3V2352.3M256.9 2335.7V2255.1H261V2277.9M263.9 2278.6V2269.6H264.9V2288.4M266 2312.3V2294.1H267.1V2313.1M269.2 2382.1V2367.4H270.3V2374.6M268.1 2375.1V2361.9H269.8V2367.4M268.9 2361.9V2275.1H271.4V2288.5M266.5 2294.1V2271.8H270.2V2275.1M272.4 2325.3V2309H273.5V2330.2M275.6 2360.1V2348.7H276.7V2366.8M274.6 2331.3V2310.9H276.2V2348.7M278.9 2378.6V2357.2H279.9V2374.1M279.4 2357.2V2298.3H281V2309.6M277.8 2315.3V2295.6H280.2V2298.3M275.4 2310.9V2280.5H279V2295.6M273 2309V2273.7H277.2V2280.5M268.3 2271.8V2268.9H275.1V2273.7M264.4 2269.6V2264.6H271.7V2268.9M282.1 2370.5V2350.5H283.1V2356.8M284.2 2362.4V2347.3H285.3V2360.7M282.6 2350.5V2338.7H284.8V2347.3M283.7 2338.7V2322.5H286.4V2342.7M288.5 2354.5V2345.3H289.6V2353.9M289 2345.3V2326.9H290.6V2333.5M287.4 2342.8V2326.8H289.8V2326.9M285 2322.5V2299.3H288.6V2326.8M286.8 2299.3V2295.3H291.7V2313.3M268.1 2264.6V2256.3H289.3V2295.3M293.9 2363.7V2351.7H294.9V2361.3M292.8 2327.1V2308.6H294.4V2351.7M297.1 2375.5V2366.4H298.1V2380.8M296 2338.9V2324H297.6V2366.4M293.6 2308.6V2281H296.8V2324M299.2 2342.5V2331H300.3V2342.1M302.4 2365.6V2355.6H303.5V2366.9M301.4 2333.8V2316.7H303V2355.6M299.8 2331V2292.8H302.2V2316.7M301 2292.8V2280.4H304.6V2295.4M295.2 2281V2279.6H302.8V2280.4M278.7 2256.3V2210.5H299V2279.6M306.7 2317V2308.6H307.8V2319.5M307.3 2308.6V2304.6H308.9V2314.9M309.9 2314.7V2303.7H311V2317.5M310.5 2303.7V2292.5H312.1V2311.7M313.1 2328.2V2319.3H314.2V2336.8M311.3 2292.5V2289.2H313.7V2319.3M308.1 2304.6V2274H312.5V2289.2M305.6 2289.4V2268.3H310.3V2274M316.4 2339V2323.9H317.4V2337.9M315.3 2292V2279.1H316.9V2323.9M316.1 2279.1V2260.8H318.5V2276.5M308 2268.3V2259.3H317.3V2260.8M320.7 2320.7V2304.8H321.7V2317.3M319.6 2271.1V2262.2H321.2V2304.8M320.4 2262.2V2258.9H322.8V2277.4M312.6 2259.3V2252.8H321.6V2258.9M323.9 2292.9V2277.3H324.9V2289.9M326 2333.4V2311.6H327.1V2320.5M328.2 2318.1V2311.9H329.2V2319.9M328.7 2311.9V2291.4H330.3V2308.4M326.5 2311.6V2283.6H329.5V2291.4M324.4 2277.3V2252.3H328V2283.6M317.1 2252.8V2248H326.2V2252.3M331.4 2296V2288.6H332.4V2306.3M333.5 2353.2V2345.8H334.6V2356.6M331.9 2288.6V2261.6H334V2345.8M333 2261.6V2244.7H335.7V2260.7M336.7 2344V2337.7H337.8V2350.6M338.9 2345.8V2323.8H339.9V2341.5M339.4 2323.8V2309.5H341V2321.8M340.2 2309.5V2301.7H342.1V2322.3M337.3 2337.7V2284.9H341.1V2301.7M344.2 2300.9V2281.9H345.3V2293.4M346.4 2373.8V2361.7H347.4V2378.9M346.9 2361.7V2289.6H348.5V2307.7M344.8 2281.9V2280.9H347.7V2289.6M343.2 2291.8V2276.7H346.2V2280.9M339.2 2284.9V2272.2H344.7V2276.7M334.3 2244.7V2238.1H341.9V2272.2M321.7 2248V2210.5H338.1V2238.1M288.8 2210.5V2203.1H329.9V2210.5M350.7 2363.7V2355.3H351.7V2368M351.2 2355.3V2324.8H352.8V2335.9M349.6 2319.3V2302.2H352V2324.8M354.9 2347V2339.1H356V2357.1M353.9 2338.3V2328.6H355.5V2339.1M359.2 2417V2410.6H360.3V2427.9M359.8 2410.6V2381H361.4V2397M358.2 2373V2361.3H360.6V2381M357.1 2363V2354.7H359.4V2361.3M354.7 2328.6V2328H358.2V2354.7M362.4 2389V2381.8H363.5V2403M364.6 2414.4V2392.5H365.7V2410.5M366.7 2437.6V2418.7H367.8V2435.9M365.1 2392.5V2386H367.3V2418.7M368.9 2426.5V2420.2H369.9V2430.5M371 2442.4V2432.6H372.1V2438.9M371.5 2432.6V2405.4H373.2V2421.6M369.4 2420.2V2384.4H372.4V2405.4M366.2 2386V2380.7H370.9V2384.4M374.2 2433.5V2418H375.3V2429.8M368.5 2380.7V2378.4H374.8V2418M363 2381.8V2366.9H371.6V2378.4M356.4 2328V2325.9H367.3V2366.9M376.4 2406.4V2388.4H377.4V2398.1M378.5 2431V2420.5H379.6V2428.4M376.9 2388.4V2379.4H379V2420.5M378 2379.4V2377.2H380.7V2387M382.8 2421.4V2407.6H383.9V2425.4M381.7 2408.5V2388.9H383.3V2407.6M382.5 2388.9V2383.1H384.9V2403M386 2443.2V2426.5H387.1V2438.3M386.5 2426.5V2403.8H388.2V2425.3M383.7 2383.1V2375.2H387.4V2403.8M379.3 2377.2V2375.1H385.5V2375.2M361.9 2325.9V2311.3H382.4V2375.1M389.2 2436V2428.7H390.3V2441.3M389.8 2428.7V2421.8H391.4V2441.9M390.6 2421.8V2375.7H392.4V2392.6M393.5 2407.8V2396.2H394.6V2415.4M395.7 2420.8V2402.7H396.7V2420.3M397.8 2409.8V2399.5H398.9V2416.4M396.2 2402.7V2385.7H398.3V2399.5M394.1 2396.2V2373.2H397.3V2385.7M391.5 2375.7V2371.7H395.7V2373.2M401 2427.8V2408.3H402.1V2422.5M399.9 2420.7V2404.2H401.6V2408.3M400.7 2404.2V2392.7H403.2V2413.5M402 2392.7V2391.9H404.2V2409.4M403.1 2391.9V2376.4H405.3V2385.7M404.2 2376.4V2368.5H406.4V2383.7M393.6 2371.7V2354.9H405.3V2368.5M407.4 2422.5V2413.4H408.5V2429.2M409.6 2391.6V2380.4H410.7V2402.3M411.7 2405.3V2393.8H412.8V2412.4M413.9 2435.2V2415.8H414.9V2427.8M412.3 2393.8V2387.1H414.4V2415.8M413.3 2387.1V2379.8H416V2395.2M410.1 2380.4V2373.8H414.7V2379.8M408 2413.4V2369.5H412.4V2373.8M399.4 2354.9V2345.2H410.2V2369.5M372.2 2311.3V2292H404.8V2345.2M419.2 2438.2V2425.1H420.3V2442.5M418.2 2417.7V2405.7H419.8V2425.1M417.1 2406.4V2396.7H419V2405.7M422.4 2440.7V2432.1H423.5V2448.5M421.4 2435.2V2421H423V2432.1M418 2396.7V2370.9H422.2V2421M427.8 2434.9V2415H428.9V2431.5M426.7 2421.9V2408.8H428.3V2415M425.7 2388.4V2374H427.5V2408.8M424.6 2375V2360.8H426.6V2374M432.1 2419.3V2406.9H433.2V2419.7M431 2417.3V2403.3H432.6V2406.9M431.8 2403.3V2384.7H434.2V2401.6M429.9 2390.6V2374H433V2384.7M435.3 2386.4V2373.4H436.4V2380.5M431.5 2374V2361.4H435.8V2373.4M425.6 2360.8V2356.9H433.7V2361.4M420.1 2370.9V2356.3H429.6V2356.9M439.6 2416.7V2409.9H440.7V2421.6M440.1 2409.9V2385.6H441.7V2397.7M438.5 2380.2V2373.4H440.9V2385.6M437.4 2375.6V2366.1H439.7V2373.4M424.9 2356.3V2354.8H438.6V2366.1M388.5 2292V2274.6H431.7V2354.8M442.8 2373.1V2359.8H443.9V2369.1M444.9 2392.6V2382.8H446V2396M445.5 2382.8V2359.3H447.1V2369.9M443.3 2359.8V2350.2H446.3V2359.3M448.2 2410.7V2400.5H449.2V2414.3M450.3 2439V2420.8H451.4V2427.8M448.7 2400.5V2370.6H450.8V2420.8M452.4 2380.8V2374.6H453.5V2387.8M449.8 2370.6V2365.5H453V2374.6M451.4 2365.5V2353.6H454.6V2373.9M444.8 2350.2V2339H453V2353.6M456.7 2435V2423.1H457.8V2444.7M455.7 2429.6V2413.5H457.3V2423.1M456.5 2413.5V2377.3H458.9V2394.2M457.7 2377.3V2350.8H460V2370M461 2420.7V2401.2H462.1V2407.8M461.6 2401.2V2345.3H463.2V2354.4M462.4 2345.3V2343.8H464.2V2362.4M458.8 2350.8V2324.8H463.3V2343.8M465.3 2335.2V2322.9H466.4V2343.3M461.1 2324.8V2321.8H465.8V2322.9M467.5 2430V2422.8H468.5V2443.8M463.4 2321.8V2301.9H468V2422.8M448.9 2339V2295.7H465.7V2301.9M469.6 2401.7V2385.8H470.7V2398.4M471.7 2364.2V2344.9H472.8V2359.5M473.9 2389.9V2376.6H475V2385.5M472.3 2344.9V2340.3H474.4V2376.6M476 2395.3V2376.8H477.1V2385.1M478.2 2385.1V2374.3H479.2V2381.7M476.6 2376.8V2370.8H478.7V2374.3M481.4 2382.4V2371.7H482.5V2378.4M483.5 2400.7V2387.2H484.6V2398.7M481.9 2371.7V2354.3H484.1V2387.2M480.3 2354.7V2348.5H483V2354.3M477.6 2370.8V2348.4H481.6V2348.5M473.3 2340.3V2339.6H479.6V2348.4M476.5 2339.6V2332.5H485.7V2338.8M470.1 2385.8V2320.5H481.1V2332.5M457.3 2295.7V2275H475.6V2320.5M410.1 2274.6V2254.1H466.5V2275M486.7 2411.6V2398.2H487.8V2408.8M487.3 2398.2V2386.2H488.9V2395.9M488.1 2386.2V2380.1H490V2394.8M492.1 2426.9V2420H493.2V2440.9M491 2377.9V2366.6H492.6V2420M491.8 2366.6V2360.6H494.2V2382.1M497.5 2415V2399.6H498.5V2409.6M496.4 2393.5V2377H498V2399.6M495.3 2383.2V2373.4H497.2V2377M493 2360.6V2360.5H496.2V2373.4M489 2380.1V2360.1H494.6V2360.5M499.6 2433.7V2419.1H500.7V2429.4M491.8 2360.1V2357.5H500.1V2419.1M501.7 2409.2V2398.8H502.8V2412M496 2357.5V2344.6H502.3V2398.8M503.9 2418.4V2411.7H505V2421.4M504.4 2411.7V2344.3H506V2366.1M499.1 2344.6V2310H505.2V2344.3M507.1 2436.3V2418H508.2V2429.3M507.6 2418V2385.4H509.2V2407.4M511.4 2441.5V2421.9H512.5V2433.1M510.3 2426.8V2415.5H511.9V2421.9M508.4 2385.4V2345.4H511.1V2415.5M513.5 2425.8V2405.5H514.6V2418.7M516.7 2411.5V2403.3H517.8V2415.6M518.9 2433.6V2422H520V2440.5M517.3 2403.3V2396H519.4V2422M518.3 2396V2388.9H521V2408.8M519.7 2388.9V2379.6H522.1V2387.7M520.9 2379.6V2364.7H523.2V2377.2M524.2 2435.9V2427.2H525.3V2434.2M526.4 2422.9V2414.8H527.5V2422M524.8 2427.2V2392.9H526.9V2414.8M525.8 2392.9V2362.2H528.5V2373.1M522 2364.7V2353.4H527.2V2362.2M515.7 2370.6V2350.7H524.6V2353.4M514.1 2405.5V2349.6H520.1V2350.7M517.1 2349.6V2348.9H529.6V2361.8M509.8 2345.4V2326H523.4V2348.9M502.2 2310V2299.6H516.6V2326M531.7 2425.6V2409.2H532.8V2427.4M533.9 2371.6V2360.3H535V2371.5M532.3 2409.2V2358.9H534.4V2360.3M530.7 2376.8V2356.4H533.4V2358.9M536 2405.7V2393.1H537.1V2402.8M538.2 2434.8V2428.4H539.2V2438.8M536.6 2393.1V2355.6H538.7V2428.4M532 2356.4V2354H537.6V2355.6M540.3 2429.6V2408.7H541.4V2415.6M540.9 2408.7V2403.1H542.5V2417.1M541.7 2403.1V2383.3H543.5V2393M534.8 2354V2318.4H542.6V2383.3M544.6 2426.4V2408.2H545.7V2414.8M545.1 2408.2V2391.1H546.7V2405.3M547.8 2426.6V2409H548.9V2422.4M550 2396.5V2388.2H551V2408.4M552.1 2428.1V2421.8H553.2V2442.6M550.5 2388.2V2382.7H552.6V2421.8M548.4 2409V2369.2H551.6V2382.7M545.9 2391.1V2355.5H550V2369.2M538.7 2318.4V2316.7H548V2355.5M554.2 2435.5V2416.4H555.3V2436.6M557.5 2411.4V2399.5H558.5V2415.6M558 2399.5V2395H559.6V2408.6M556.4 2393.3V2373.4H558.8V2395M554.8 2416.4V2361.8H557.6V2373.4M561.7 2425V2412.9H562.8V2432.6M562.3 2412.9V2412.4H563.9V2423.3M563.1 2412.4V2371.9H565V2386.9M560.7 2386.6V2371.3H564V2371.9M567.1 2436.1V2429.2H568.2V2449.4M566 2403.8V2396.7H567.6V2429.2M562.3 2371.3V2329.9H566.8V2396.7M556.2 2361.8V2328.5H564.6V2329.9M543.3 2316.7V2311H560.4V2328.5M571.4 2437.2V2415.4H572.5V2433M575.7 2440.5V2426.7H576.7V2442.4M577.8 2431.1V2420.7H578.9V2431.1M576.2 2426.7V2417.4H578.4V2420.7M574.6 2417.1V2402.4H577.3V2417.4M573.5 2406.7V2398.2H575.9V2402.4M571.9 2415.4V2396.6H574.7V2398.2M570.3 2406.3V2394.3H573.3V2396.6M581 2436.7V2421.2H582.1V2436M581.6 2421.2V2415H583.2V2432.1M580 2427.7V2406.6H582.4V2415M571.8 2394.3V2390H581.2V2406.6M569.2 2400.8V2389.1H576.5V2390M584.2 2447.1V2429H585.3V2437.9M586.4 2425.1V2406.6H587.5V2420.3M586.9 2406.6V2401.1H588.5V2409.5M590.7 2455.3V2433.5H591.7V2453M591.2 2433.5V2418.7H592.8V2439.2M589.6 2419.5V2408.4H592V2418.7M587.7 2401.1V2397.1H590.8V2408.4M584.8 2429V2392.2H589.3V2397.1M593.9 2398.1V2384.1H595V2400.2M596 2428.7V2416.4H597.1V2434.2M594.4 2384.1V2383.6H596.6V2416.4M595.5 2383.6V2378.4H598.2V2393M596.8 2378.4V2356.6H599.3V2368.3M587 2392.2V2347.9H598V2356.6M572.9 2389.1V2341.7H592.5V2347.9M551.9 2311V2284.4H582.7V2341.7M509.4 2299.6V2268.3H567.3V2284.4M600.3 2370.3V2348.7H601.4V2362.7M603.5 2431.6V2412.5H604.6V2420.1M604.1 2412.5V2384.3H605.7V2394.8M604.9 2384.3V2377.6H606.8V2390.8M602.5 2377V2370.4H605.8V2377.6M610 2387V2374H611V2388.4M608.9 2374.8V2361.6H610.5V2374M607.8 2365.1V2355.7H609.7V2361.6M608.8 2355.7V2341.9H612.1V2358.3M604.1 2370.4V2330.6H610.4V2341.9M613.2 2412.2V2395.2H614.3V2402M615.3 2379.2V2369.4H616.4V2377.3M617.5 2385.6V2374.2H618.5V2387.6M615.9 2369.4V2336.7H618V2374.2M613.7 2395.2V2323H616.9V2336.7M615.3 2323V2321.7H619.6V2341.3M607.3 2330.6V2316.8H617.5V2321.7M600.9 2348.7V2311.2H612.4V2316.8M622.8 2375.6V2367.1H623.9V2385M621.8 2348.4V2329.5H623.4V2367.1M620.7 2332.5V2326.3H622.6V2329.5M621.6 2326.3V2316.9H625V2336.5M606.6 2311.2V2303.4H623.3V2316.9M627.1 2363.4V2348.2H628.2V2355M626 2331.5V2309.7H627.6V2348.2M630.3 2389.6V2376.6H631.4V2393.4M629.3 2376V2365.4H630.9V2376.6M626.8 2309.7V2290H630.1V2365.4M632.5 2386.7V2365.2H633.5V2385.2M633 2365.2V2353.7H634.6V2360.7M633.8 2353.7V2341.9H635.7V2349.9M637.8 2365.2V2355.9H638.9V2371.2M636.8 2365.4V2349H638.4V2355.9M640 2405.9V2391.8H641V2406.5M640.5 2391.8V2389.9H642.1V2401.5M641.3 2389.9V2336.5H643.2V2357M637.6 2349V2334.2H642.2V2336.5M634.7 2341.9V2282.3H639.9V2334.2M628.4 2290V2278.9H637.3V2282.3M615 2303.4V2272.7H632.9V2278.9M644.3 2291.2V2280.5H645.3V2292.2M623.9 2272.7V2268.3H644.8V2280.5M646.4 2327.6V2319H647.5V2329.6M648.5 2396V2387.9H649.6V2404.1M649.1 2387.9V2332.3H650.7V2338.6M649.9 2332.3V2329.4H651.8V2339.3M646.9 2319V2317.4H650.8V2329.4M652.8 2402.5V2383.6H653.9V2403.2M655 2356.6V2345.2H656V2362.9M655.5 2345.2V2322.7H657.1V2341.7M653.4 2383.6V2298H656.3V2322.7M658.2 2304.7V2288.3H659.3V2304.3M654.8 2298V2273H658.7V2288.3M656.8 2273V2272H660.3V2290M648.9 2317.4V2271H658.6V2272M661.4 2296.5V2285.4H662.5V2296.7M661.9 2285.4V2281.1H663.5V2291.2M653.7 2271V2265.3H662.7V2281.1M664.6 2309.3V2299.6H665.7V2313.8M665.1 2299.6V2284.6H666.8V2299.3M658.2 2265.3V2263.6H666V2284.6M634.4 2268.3V2231.4H662.1V2263.6M538.3 2268.3V2220.1H648.2V2231.4M438.3 2254.1V2220.1H593.3V2220.1M350.8 2302.2V2212.3H515.8V2220.1M309.4 2203.1V2194.9H433.3V2212.3M667.8 2347V2338H668.9V2345.3M670 2354.8V2348.4H671V2357.8M668.4 2338V2321.2H670.5V2348.4M669.4 2321.2V2277.9H672.1V2286.4M673.2 2330.6V2314.6H674.3V2333.6M675.3 2386.8V2372.2H676.4V2388.5M677.5 2369.8V2357.1H678.5V2364.3M675.9 2372.2V2294.8H678V2357.1M676.9 2294.8V2280.1H679.6V2298.1M673.7 2314.6V2276.1H678.3V2280.1M681.8 2339.1V2330.7H682.8V2341.7M680.7 2339.4V2321.2H682.3V2330.7M681.5 2321.2V2283.5H683.9V2300.5M676 2276.1V2271.8H682.7V2283.5M670.8 2277.9V2258.3H679.3V2271.8M685 2393V2375.7H686V2384.3M688.2 2390.6V2378.4H689.3V2393.1M687.1 2389.9V2377.7H688.7V2378.4M685.5 2375.7V2332H687.9V2377.7M690.3 2369.2V2350H691.4V2358.4M686.7 2332V2276.5H690.9V2350M692.5 2350.8V2338.8H693.5V2359.5M696.8 2380.7V2362.1H697.8V2378.1M695.7 2328.4V2319.6H697.3V2362.1M694.6 2322V2313.2H696.5V2319.6M693 2338.8V2289.7H695.6V2313.2M694.3 2289.7V2268.1H698.9V2281.7M688.8 2276.5V2251.2H696.6V2268.1M701 2359.1V2352.1H702.1V2368.4M700 2299.5V2286.2H701.6V2352.1M700.8 2286.2V2268.8H703.2V2279M704.3 2280.6V2267.5H705.3V2288.4M702 2268.8V2265.7H704.8V2267.5M707.5 2360.2V2347.9H708.5V2359.5M706.4 2301.8V2287.9H708V2347.9M707.2 2287.9V2271H709.6V2281.5M703.4 2265.7V2264.3H708.4V2271M710.7 2321.2V2305.3H711.8V2322.7M705.9 2264.3V2246.6H711.2V2305.3M713.9 2319.3V2313.2H715V2325.5M712.8 2293.1V2285.3H714.4V2313.2M716 2318.4V2309.7H717.1V2325.3M713.6 2285.3V2264.8H716.6V2309.7M708.6 2246.6V2234H715.1V2264.8M692.7 2251.2V2214.4H711.8V2234M675.1 2258.3V2211.5H702.3V2214.4M718.2 2341.1V2332.5H719.3V2346.6M720.3 2356.2V2342.6H721.4V2364.2M718.7 2332.5V2314.3H720.9V2342.6M719.8 2314.3V2310.6H722.5V2321.7M724.6 2324.3V2312.9H725.7V2329.4M723.5 2276.9V2266.7H725.2V2312.9M721.1 2310.6V2238.3H724.4V2266.7M688.7 2211.5V2204.9H722.7V2238.3M727.8 2334.1V2324.2H728.9V2341.6M728.4 2324.2V2319.4H730V2333.8M726.8 2312.6V2302.8H729.2V2319.4M731 2289.6V2282.5H732.1V2302M728 2302.8V2266.9H731.6V2282.5M733.2 2264.3V2256.2H734.3V2267M729.8 2266.9V2213.4H733.7V2256.2M705.7 2204.9V2197.3H731.8V2213.4M371.3 2194.9V2194.5H718.7V2197.3M259 2255.1V2193.1H545V2194.5M233.9 2194V2189.4H402V2193.1M216.5 2189.4V2186.7H318V2189.4M189.6 2191.2V2184.8H267.2V2186.7M178.1 2198.7V2182.1H228.4V2184.8M178.1 2333V2357M179.2 2266V2349M180.3 2266V2334M181.4 2260V2334M182.4 2252V2364M183.5 2247V2368M184.6 2247V2367M185.6 2328V2362M186.7 2342V2363M187.8 2295V2338M188.9 2267V2356M189.9 2250V2370M191 2252V2368M192.1 2242V2364M193.1 2251V2342M194.2 2303V2338M195.3 2261V2339M196.4 2256V2351M197.4 2256V2351M198.5 2263V2348M199.6 2264V2334M200.6 2262V2337M201.7 2291V2358M202.8 2293V2359M203.9 2292V2355M204.9 2286V2360M206 2224V2356M207.1 2312V2357M208.1 2250V2330M209.2 2249V2329M210.3 2245V2336M211.4 2244V2338M212.4 2243V2340M213.5 2326V2338M214.6 2252V2340M215.6 2328V2340M216.7 2250V2359M217.8 2229V2360M218.9 2247V2366M219.9 2325V2366M221 2333V2345M222.1 2248V2343M223.1 2251V2346M224.2 2242V2319M225.3 2224V2324M226.4 2225V2365M227.4 2242V2368M228.5 2226V2371M229.6 2242V2373M230.6 2242V2375M231.7 2285V2378M232.8 2254V2353M233.9 2254V2357M234.9 2233V2379M236 2234V2382M237.1 2233V2373M238.1 2235V2370M239.2 2248V2370M240.3 2310V2372M241.4 2244V2372M242.4 2243V2372M243.5 2247V2372M244.6 2250V2371M245.6 2254V2396M246.7 2254V2395M247.8 2258V2389M248.9 2256V2387M249.9 2261V2379M251 2275V2378M252.1 2278V2371M253.1 2280V2367M254.2 2276V2364M255.3 2269V2361M256.4 2276V2357M257.4 2279V2361M258.5 2281V2365M259.6 2335V2358M260.6 2281V2364M261.7 2270V2369M262.8 2270V2372M263.9 2362V2374M264.9 2274V2377M266 2275V2364M267.1 2297V2383M268.1 2294V2383M269.2 2296V2385M270.3 2294V2384M271.4 2360V2389M272.4 2362V2389M273.5 2359V2395M274.6 2311V2407M275.6 2308V2405M276.7 2348V2360M277.8 2296V2373M278.9 2299V2374M279.9 2298V2386M281 2342V2386M282.1 2347V2381M283.1 2344V2376M284.2 2373V2385M285.3 2298V2381M286.4 2301V2381M287.4 2335V2354M288.5 2288V2359M289.6 2329V2362M290.6 2330V2388M291.7 2333V2401M292.8 2331V2404M293.9 2315V2406M294.9 2397V2409M296 2315V2398M297.1 2296V2398M298.1 2293V2386M299.2 2292V2385M300.3 2289V2383M301.4 2276V2365M302.4 2274V2364M303.5 2272V2358M304.6 2276V2384M305.6 2304V2380M306.7 2297V2354M307.8 2295V2349M308.9 2294V2390M309.9 2296V2387M311 2274V2387M312.1 2273V2379M313.1 2276V2376M314.2 2301V2372M315.3 2299V2382M316.4 2295V2379M317.4 2296V2379M318.5 2303V2374M319.6 2299V2368M320.7 2278V2332M321.7 2275V2332M322.8 2272V2331M323.9 2339V2351M324.9 2258V2353M326 2257V2369M327.1 2260V2383M328.2 2255V2387M329.2 2253V2391M330.3 2248V2395M331.4 2268V2393M332.4 2347V2364M333.5 2263V2347M334.6 2260V2350M335.7 2267V2379M336.7 2259V2377M337.8 2340V2380M338.9 2263V2379M339.9 2267V2358M341 2270V2358M342.1 2283V2381M343.2 2285V2381M344.2 2288V2383M345.3 2289V2355M346.4 2289V2390M347.4 2293V2386M348.5 2286V2392M349.6 2284V2369M350.7 2287V2398M351.7 2301V2404M352.8 2337V2396M353.9 2348V2403M354.9 2390V2409M356 2368V2417M357.1 2395V2429M358.2 2383V2396M359.2 2385V2423M360.3 2389V2427M361.4 2416V2430M362.4 2382V2433M363.5 2423V2435M364.6 2385V2435M365.7 2390V2447M366.7 2437V2449M367.8 2426V2438M368.9 2401V2456M369.9 2385V2456M371 2388V2442M372.1 2391V2453M373.2 2390V2456M374.2 2414V2452M375.3 2386V2454M376.4 2383V2451M377.4 2385V2460M378.5 2416V2459M379.6 2441V2457M380.7 2415V2455M381.7 2402V2456M382.8 2398V2459M383.9 2428V2440M384.9 2412V2440M386 2382V2451M387.1 2400V2443M388.2 2383V2438M389.2 2374V2436M390.3 2420V2432M391.4 2371V2433M392.4 2373V2429M393.5 2401V2426M394.6 2375V2424M395.7 2417V2429M396.7 2373V2421M397.8 2371V2419M398.9 2397V2443M399.9 2398V2444M401 2421V2441M402.1 2390V2426M403.2 2404V2441M404.2 2397V2442M405.3 2426V2442M406.4 2417V2452M407.4 2389V2451M408.5 2370V2452M409.6 2434V2449M410.7 2401V2446M411.7 2381V2445M412.8 2384V2444M413.9 2408V2437M414.9 2380V2449M416 2411V2451M417.1 2398V2453M418.2 2401V2439M419.2 2371V2441M420.3 2376V2459M421.4 2375V2449M422.4 2412V2452M423.5 2379V2422M424.6 2377V2461M425.7 2418V2461M426.7 2380V2438M427.8 2384V2440M428.9 2423V2438M429.9 2417V2452M431 2440V2452M432.1 2410V2453M433.2 2368V2459M434.2 2385V2458M435.3 2377V2413M436.4 2401V2414M437.4 2369V2448M438.5 2430V2454M439.6 2363V2455M440.7 2411V2423M441.7 2364V2434M442.8 2396V2442M443.9 2394V2443M444.9 2392V2439M446 2403V2428M447.1 2347V2428M448.2 2342V2430M449.2 2416V2446M450.3 2401V2446M451.4 2405V2417M452.4 2397V2425M453.5 2343V2444M454.6 2404V2441M455.7 2336V2443M456.7 2335V2442M457.8 2335V2449M458.9 2328V2450M460 2325V2421M461 2429V2451M462.1 2329V2450M463.2 2400V2422M464.2 2329V2419M465.3 2391V2445M466.4 2402V2446M467.5 2412V2449M468.5 2415V2427M469.6 2396V2427M470.7 2330V2443M471.7 2410V2445M472.8 2346V2446M473.9 2369V2439M475 2432V2444M476 2402V2449M477.1 2356V2447M478.2 2338V2448M479.2 2405V2438M480.3 2419V2438M481.4 2413V2438M482.5 2410V2422M483.5 2358V2423M484.6 2355V2434M485.7 2412V2431M486.7 2395V2407M487.8 2373V2410M488.9 2369V2411M490 2370V2411M491 2371V2413M492.1 2397V2439M493.2 2409V2421M494.2 2359V2419M495.3 2363V2440M496.4 2359V2438M497.5 2355V2436M498.5 2430V2442M499.6 2391V2403M500.7 2348V2403M501.7 2354V2430M502.8 2349V2433M503.9 2415V2434M505 2362V2445M506 2359V2444M507.1 2402V2443M508.2 2418V2446M509.2 2416V2428M510.3 2398V2430M511.4 2398V2427M512.5 2350V2442M513.5 2424V2440M514.6 2418V2439M515.7 2392V2404M516.7 2378V2452M517.8 2380V2444M518.9 2380V2447M520 2413V2447M521 2418V2430M522.1 2416V2428M523.2 2356V2422M524.2 2354V2426M525.3 2358V2452M526.4 2408V2453M527.5 2430V2453M528.5 2438V2450M529.6 2356V2442M530.7 2356V2453M531.7 2419V2454M532.8 2393V2453M533.9 2430V2453M535 2394V2454M536 2423V2455M537.1 2396V2451M538.2 2365V2433M539.2 2421V2433M540.3 2368V2419M541.4 2366V2419M542.5 2365V2422M543.5 2346V2429M544.6 2349V2431M545.7 2352V2409M546.7 2378V2413M547.8 2401V2449M548.9 2370V2449M550 2429V2451M551 2396V2451M552.1 2400V2453M553.2 2357V2460M554.2 2354V2416M555.3 2403V2415M556.4 2405V2417M557.5 2416V2449M558.5 2431V2443M559.6 2402V2443M560.7 2390V2442M561.7 2433V2445M562.8 2391V2411M563.9 2396V2436M565 2419V2436M566 2399V2440M567.1 2372V2438M568.2 2439V2451M569.2 2401V2452M570.3 2405V2451M571.4 2419V2449M572.5 2376V2446M573.5 2376V2450M574.6 2379V2450M575.7 2404V2416M576.7 2381V2418M577.8 2381V2416M578.9 2397V2445M580 2385V2444M581 2392V2447M582.1 2404V2455M583.2 2428V2441M584.2 2428V2446M585.3 2402V2448M586.4 2399V2438M587.5 2407V2452M588.5 2418V2452M589.6 2402V2443M590.7 2404V2444M591.7 2408V2443M592.8 2400V2449M593.9 2433V2445M595 2386V2431M596 2417V2429M597.1 2372V2430M598.2 2371V2446M599.3 2373V2438M600.3 2370V2438M601.4 2363V2443M602.5 2354V2437M603.5 2355V2438M604.6 2351V2431M605.7 2415V2427M606.8 2353V2426M607.8 2359V2405M608.9 2362V2420M610 2358V2383M611 2353V2380M612.1 2324V2420M613.2 2406V2418M614.3 2318V2421M615.3 2323V2420M616.4 2319V2406M617.5 2319V2411M618.5 2318V2431M619.6 2308V2430M620.7 2334V2427M621.8 2333V2414M622.8 2333V2409M623.9 2331V2421M625 2312V2396M626 2364V2416M627.1 2362V2412M628.2 2364V2413M629.3 2299V2406M630.3 2306V2410M631.4 2305V2410M632.5 2303V2411M633.5 2301V2408M634.6 2344V2398M635.7 2345V2398M636.8 2345V2401M637.8 2284V2419M638.9 2285V2423M640 2285V2422M641 2281V2423M642.1 2357V2386M643.2 2279V2385M644.3 2288V2383M645.3 2368V2426M646.4 2284V2406M647.5 2346V2403M648.5 2283V2406M649.6 2284V2416M650.7 2312V2412M651.8 2311V2414M652.8 2347V2419M653.9 2346V2419M655 2391V2419M656 2273V2414M657.1 2272V2415M658.2 2273V2414M659.3 2349V2390M660.3 2306V2389M661.4 2311V2398M662.5 2277V2395M663.5 2370V2382M664.6 2278V2383M665.7 2339V2375M666.8 2293V2358M667.8 2291V2393M668.9 2278V2390M670 2280V2389M671 2370V2382M672.1 2285V2381M673.2 2298V2380M674.3 2275V2387M675.3 2276V2389M676.4 2276V2392M677.5 2280V2394M678.5 2271V2356M679.6 2271V2397M680.7 2276V2398M681.8 2272V2397M682.8 2274V2396M683.9 2292V2396M685 2289V2382M686 2297V2382M687.1 2297V2382M688.2 2302V2381M689.3 2303V2380M690.3 2304V2391M691.4 2306V2389M692.5 2365V2378M693.5 2300V2379M694.6 2297V2399M695.7 2282V2404M696.8 2282V2403M697.8 2281V2407M698.9 2285V2409M700 2394V2412M701 2316V2387M702.1 2317V2388M703.2 2320V2384M704.3 2271V2383M705.3 2269V2377M706.4 2266V2390M707.5 2262V2377M708.5 2322V2377M709.6 2256V2372M710.7 2291V2378M711.8 2291V2385M712.8 2282V2386M713.9 2282V2370M715 2226V2373M716 2229V2364M717.1 2225V2365M718.2 2253V2367M719.3 2232V2387M720.3 2229V2388M721.4 2236V2391M722.5 2233V2353M723.5 2232V2348M724.6 2239V2348M725.7 2239V2372M726.8 2240V2370M727.8 2223V2376M728.9 2221V2377M730 2222V2370M731 2220V2346M732.1 2236V2345M733.2 2240V2345M734.3 2221V2373M178.6 2182V2262" stroke="#000" stroke-width="2.35" fill="none" stroke-linejoin="miter"/>
<rect x="174" y="2485.3" width="12.1" height="67.9" fill="#A020F0"/><rect x="185.7" y="2485.3" width="6.8" height="67.9" fill="#E0FFFF"/><rect x="192.1" y="2485.3" width="6.3" height="67.9" fill="#191970"/><rect x="197.9" y="2485.3" width="16.5" height="67.9" fill="#FF00FF"/><rect x="214.1" y="2485.3" width="4.3" height="67.9" fill="#D2B48C"/><rect x="218" y="2485.3" width="6.3" height="67.9" fill="#FF0000"/><rect x="223.8" y="2485.3" width="8.2" height="67.9" fill="#00FFFF"/><rect x="231.6" y="2485.3" width="3.8" height="67.9" fill="#999999"/><rect x="235.1" y="2485.3" width="3.8" height="67.9" fill="#90EE90"/><rect x="238.5" y="2485.3" width="7.2" height="67.9" fill="#FA8072"/><rect x="245.3" y="2485.3" width="6.8" height="67.9" fill="#FFC0CB"/><rect x="251.7" y="2485.3" width="6.8" height="67.9" fill="#ADFF2F"/><rect x="258" y="2485.3" width="20.9" height="67.9" fill="#000000"/><rect x="278.6" y="2485.3" width="24.8" height="67.9" fill="#A52A2A"/><rect x="303" y="2485.3" width="5.3" height="67.9" fill="#D2B48C"/><rect x="307.9" y="2485.3" width="15.1" height="67.9" fill="#A52A2A"/><rect x="322.5" y="2485.3" width="10.2" height="67.9" fill="#0000FF"/><rect x="332.3" y="2485.3" width="7.7" height="67.9" fill="#ADFF2F"/><rect x="339.6" y="2485.3" width="11.6" height="67.9" fill="#FFFF00"/><rect x="350.9" y="2485.3" width="37.5" height="67.9" fill="#40E0D0"/><rect x="388" y="2485.3" width="6.3" height="67.9" fill="#0000FF"/><rect x="393.9" y="2485.3" width="92.3" height="67.9" fill="#40E0D0"/><rect x="485.8" y="2485.3" width="7.2" height="67.9" fill="#FFFF00"/><rect x="492.6" y="2485.3" width="111.8" height="67.9" fill="#40E0D0"/><rect x="604" y="2485.3" width="20.9" height="67.9" fill="#0000FF"/><rect x="624.6" y="2485.3" width="1.9" height="67.9" fill="#40E0D0"/><rect x="626" y="2485.3" width="3.3" height="67.9" fill="#0000FF"/><rect x="629" y="2485.3" width="5.3" height="67.9" fill="#40E0D0"/><rect x="633.8" y="2485.3" width="18" height="67.9" fill="#0000FF"/><rect x="651.4" y="2485.3" width="16" height="67.9" fill="#FFC0CB"/><rect x="667.1" y="2485.3" width="2.8" height="67.9" fill="#FFFFE0"/><rect x="669.5" y="2485.3" width="16" height="67.9" fill="#00FF00"/><rect x="685.2" y="2485.3" width="5.8" height="67.9" fill="#40E0D0"/><rect x="690.5" y="2485.3" width="16" height="67.9" fill="#FFFF00"/><rect x="706.2" y="2485.3" width="6.3" height="67.9" fill="#00FF00"/><rect x="712" y="2485.3" width="16.5" height="67.9" fill="#FF0000"/><rect x="728.2" y="2485.3" width="7.2" height="67.9" fill="#D2B48C"/><path d="M174.0 2485.3H735.0M174.0 2553.2H735.0" stroke="#000" stroke-width="2"/>
<text x="5.4" y="33.8" font-size="33" font-weight="bold">A</text>
<text x="473.3" y="22" font-size="19.2" text-anchor="middle">Network heatmap plot, all genes</text>
<g id="dtop"><path d="M218.1 59.1L226.4 59.1L226.4 75.6L226.4 73.8L225.4 73.4L224.3 73.7L223.7 73.7L222.9 74.2L222.1 74.6L221.5 72.7L220.4 72L219.9 73.6L219 73L218.1 72.6ZM226.4 59.1L249.5 59.1L252.8 60.5L256.1 66.4L259.4 82.9L262.7 115.9L265.3 152.2L268 188.4L268 189.4L267.8 189.9L267 189.9L266.3 189.2L265.7 189.7L264.9 185.2L264.3 177.1L263.7 167.6L262.7 149.2L262.2 139.1L261.4 131L260.5 122.3L259.8 114.6L259.1 99.1L258.3 91.3L257.2 86.2L256.7 82.7L255.7 71.8L255 69.6L254.1 69.3L253.6 70.4L252.7 71.5L251.8 74L251.3 74.2L250.5 75L249.8 72.8L248.8 73.1L248 74.5L247.1 73.5L246.2 73.7L245.4 73.2L244.6 74.4L243.5 72.8L242.4 72.1L241.8 73.6L241.1 72.5L240.6 73.6L240 72.8L238.9 73.3L237.7 74.3L237 73.9L236.5 73.6L236 74.3L235 72.8L234.4 73.1L233.3 72.2L232.2 74.3L231.6 72.7L230.8 74.2L230.1 73.9L229.3 74.4L228.1 74.3L227.5 73.8L226.4 74.3ZM268.3 59.1L285.1 59.1L287.1 73L288.4 122.5L289.4 183.5L289.4 184.2L288.9 183.7L288 184L286.8 110.9L286.3 86.8L285.5 80.7L284.8 73L283.8 73.6L283.2 72.5L282.5 74.2L281.6 72.9L281.1 74.5L280.1 72.3L279.1 73.3L278.1 72.1L277.1 73.5L276 74.2L275.1 74.2L274.5 74.2L274 72.5L272.9 72.3L272.3 72.1L271.3 72.4L270.8 73.5L270.3 73.5L269.3 73.8L268.3 74.3ZM289.7 59.1L302.3 59.1L306.2 66.4L308.9 89.5L311.2 122.5L312.5 150.5L312.5 151.5L312.3 151.5L311.8 152L311.1 151.2L310.3 150.9L309.5 138.7L308.5 112.7L307.9 105.4L307.1 98.8L306.2 82L305.3 69.6L304.7 69.3L304.1 69.8L303 71.5L302.1 73.7L301.5 73.5L300.6 73.9L299.8 73.3L299.3 73.4L298.3 74.5L297.3 72.7L296.3 73.7L295.4 72.8L294.4 74L293.6 74.5L293.1 74.4L292 72.3L291.1 72.7L290.5 73.4L289.7 74.5ZM312.8 59.1L355 60.5L371.5 64.7L384.7 71.3L391.3 82.9L396.3 99.4L398.9 115.9L400.6 129.1L400.6 130.1L399.9 129.9L399.1 130.6L398.2 129.3L397.1 122.3L396 108.9L395.3 105.1L394.6 102.8L393.4 99L392.8 97.2L391.8 93.9L390.9 87.2L390.3 86L389.6 84.2L388.6 83L387.8 81.2L386.7 79.9L385.7 77.4L384.9 76.1L384.2 75.8L383.2 75L382.3 74.8L381.6 74L381.1 74.3L380.5 74.1L380 72.7L378.9 72.2L378.3 72L377.5 72.4L376.6 71.9L375.8 71.2L375.2 71.5L374.5 69.9L373.6 70.3L373 69.2L372.4 69.6L371.8 68.7L371 68.4L369.8 68.5L369.3 68.3L368.6 68.6L367.5 68.1L366.4 69L365.5 69.3L364.9 68.5L363.9 69.6L363.1 68.9L362.1 69.4L361.3 70L360.4 70.5L359.4 70.3L358.7 70.9L357.7 70.9L356.9 71.3L355.8 71.9L354.8 72.4L353.8 71.7L352.7 72.4L352 72L351.4 72.7L350.7 71.7L349.6 72.4L348.9 71.7L347.8 72.9L346.8 72.3L345.6 72L344.5 72.7L344 73.1L343.4 73.2L342.9 72.9L342 75.5L341.1 73.1L340.3 74.5L339.3 73.5L338.6 73.6L337.5 74L336.5 73.5L335.5 72.8L335 73.6L334.1 73.1L333.3 72.9L332.6 75.2L332.1 73.6L331.3 72.7L330.4 73.6L329.6 72.6L329.1 73.8L328.5 72.8L327.9 72.9L327.2 72.9L326.6 72.9L325.8 72.8L324.7 72.9L324.2 72.9L323.4 73.7L322.6 73.3L321.6 74.6L321 73.3L320 73.4L319.3 73.9L318.6 73.6L317.6 73.5L317 72.7L316.5 72.2L315.9 73.4L314.9 73.2L313.8 74.5L312.8 72.9ZM401.2 59.1L406.2 59.8L410.5 76.3L413.1 102.7L414.7 122.5L414.7 123.5L413.9 123.9L413.3 123.2L412.2 122.1L411.5 115.2L410.9 108.6L410.1 89.3L409.1 82.2L408.1 78.1L407 73.8L406.5 71.1L405.8 72.8L405.2 74.1L404.5 73L403.9 73.9L402.8 73.9L402 73.2L401.2 72.8ZM415.1 59.1L536.5 59.1L536.5 89.5L535.7 72.2L534.8 73.3L533.8 73.4L532.8 72.2L532.2 74.5L531.7 74.5L531.1 73.6L530.6 72.8L529.9 73.2L529.2 73.8L528.6 74.4L527.6 73.9L527.1 73.2L526.6 73.1L525.5 72.7L524.7 73.3L524.1 74.6L523.4 72.4L522.2 72.3L521.4 73.6L520.5 74.4L520 73.3L519 72.2L518.3 73.1L517.4 73.9L516.5 73.6L515.5 72.7L514.6 72.5L513.9 72.1L513.4 72.8L512.5 73.4L511.6 72.8L511.1 73.1L510.4 72.9L509.4 73.2L508.8 72.9L507.8 73.2L506.8 73L505.8 72.3L504.6 72.9L503.8 72.1L503.2 73.8L502.5 72L501.6 72.7L500.7 74.6L499.9 73L498.8 72.2L498.3 72.4L497.3 73.6L496.7 72.4L495.8 73.8L494.9 72.4L494 73.3L493 74.6L492.4 72.5L491.3 74L490.4 72.1L489.7 73.9L488.6 74.5L487.8 74L487.2 73.7L486.5 72.1L485.8 73.5L484.9 72.7L483.9 73.1L483 73.3L482 74.3L481.2 73.3L480.6 73.8L480 74L479.3 74.6L478.5 72.6L477.5 73.9L476.9 74.4L475.9 74.1L474.8 72.6L474.2 73.3L473.3 72.5L472.2 72.7L471.4 73.3L470.3 72.3L469.1 72.8L468.5 72.2L467.7 73.4L466.6 74.4L465.8 72.3L465.2 73.3L464.6 73.3L464 72.3L463.1 73.1L462.5 73L461.9 73.9L461.2 73.5L460.6 73L459.8 73.8L459.1 73.5L458.3 72.9L457.3 73.8L456.8 72.8L455.8 74.2L454.7 73.4L453.6 74.4L452.9 73.5L451.9 72.2L451.3 74.2L450.4 73.3L449.6 74.3L448.8 73.3L447.7 73.4L447.1 73.5L446.2 72.9L445.2 72.5L444.4 74.6L443.7 74.6L442.6 72.6L441.7 74.4L441 73.5L440.2 74.3L439.2 72.1L438.4 73.7L437.5 73.4L436.8 74L436.1 73.6L435.2 72.6L434.2 72.6L433.4 73.2L432.7 72.3L432 73.8L431.4 72.7L430.7 73L430 72.1L428.9 74.2L428.2 73.3L427.7 72.5L427 73L425.9 72.3L424.8 74.2L424.2 74.3L423.6 72.8L422.8 72.2L422.2 73.9L421.1 74.4L420.1 72.9L419.2 73.4L418.6 74.4L417.9 72.5L417.1 73.7L415.9 72.7L415.1 74.3ZM537.1 59.1L610.7 59.1L610.7 89.5L610.2 74L609.6 73.1L609 74.4L607.9 72.8L606.8 72L605.9 72.2L605 74.2L604.5 74.6L603.8 72.1L602.7 73.9L602.1 74L601.2 73.5L600.3 73.7L599.6 73.6L598.7 74.1L597.6 73.7L596.9 73.8L596.1 72.5L595.2 72.5L594.6 73.1L593.5 72L592.9 74.1L591.8 73L590.9 73.4L590.1 72.1L589.4 73.6L588.9 74.1L588.2 73.5L587.2 72.8L586.3 73.3L585.5 72.3L584.9 74.3L584 74.2L583.3 72.3L582.5 72.7L581.6 74.5L581.1 74.3L580.1 73.6L579.1 72.8L578.1 73.4L577 73.5L576.2 73L575.3 73.9L574.5 74.6L573.9 72L572.8 73.7L571.9 72.4L570.8 74.1L569.7 73.7L568.9 73.5L568.1 72.5L567.2 74L566.3 74.5L565.4 74.5L564.7 74.5L563.7 72.6L562.8 72.7L562.2 73.7L561.3 73.5L560.6 73.9L560 73.4L559.4 72.7L558.6 73.9L557.6 74.3L556.7 74.6L555.7 72.7L555.2 72.7L554.7 72.8L553.6 72.2L552.7 74.3L552.1 74.2L551.4 73.8L550.6 74.5L549.6 74.2L548.9 74.6L548.4 74.4L547.9 74L547.1 72.6L546.5 73.6L545.8 74.1L544.7 74.1L544.1 72.7L543 74.3L542.3 74.4L541.3 73.5L540.2 72.3L539.4 72.7L538.9 72.1L538.1 73.5L537.1 74.3ZM610.7 59.1L625.5 61.4L642 69.7L651.9 79.6L658.5 96.1L663.5 115.9L665.8 135.7L665.8 136.7L665.7 137.3L664.8 136.3L663.7 137.2L662.8 124.4L662.2 122.2L661.3 118.8L660.5 115.4L659.9 112.1L659 109.8L658 101.4L656.9 99.5L655.9 96.6L655 94.7L653.9 92L653.2 89.6L652.2 87.3L651.5 84.1L650.9 83.4L650.1 81.5L649.4 81.5L648.6 80.6L647.6 80.1L647 78.8L646 78L645.3 77.7L644.5 76.5L643.6 75.2L642.7 74.2L642 73.4L641.4 74L640.5 72.5L639.8 72.7L638.8 72.2L637.8 72.2L637.1 72L636 71.2L635.3 70.4L634.4 70.6L633.5 69.3L632.3 69.3L631.8 68.9L630.9 68.7L629.9 68.6L629.3 68L628.5 69.7L627.4 69.5L626.4 70.6L625.3 71L624.6 71.1L623.8 70.7L623.1 71.6L622.4 71.2L621.7 71.9L620.9 71.9L620.2 72.4L619.7 72.4L618.8 72.3L617.7 71.8L617 73.2L615.9 74.4L615.1 73.6L614.5 73.2L613.8 74L613.2 72.4L612.5 72.4L611.7 74.6L610.7 73.9ZM666.8 59.1L694.8 59.1L694.8 79.6L694.1 72.5L693.4 73.7L692.5 72.7L691.7 73.2L691.1 72.9L690.2 74.4L689.1 72.4L688 74.1L687.1 74.2L686.4 72.1L685.8 72.5L684.9 72.4L683.9 73.8L683.3 74.6L682.2 74.1L681.7 73.8L681 73.7L680 72.5L679.2 73.9L678.2 73.8L677.5 74.5L676.4 74L675.6 73.4L675 72.8L674.3 72.8L673.6 72.6L672.6 72.1L671.7 73.2L670.6 72.6L669.5 74.3L668.5 73.2L667.7 72.3L666.8 72.5ZM694.8 59.1L704.7 60.5L708.7 76.3L711.3 122.5L713.9 171.9L715.6 195L715.6 196L714.9 196L714 195.8L713.3 196.4L712.6 195.7L711.9 186.2L710.8 163.8L709.7 144.3L709.1 132.3L708.4 94.5L707.4 81.8L706.5 78.6L705.4 74.9L704.2 72.5L703.7 72.6L702.8 72.2L701.8 75.1L701.3 72.9L700.6 74.9L699.5 72.9L698.9 74.6L698 73.7L696.9 72.9L695.9 72.4L694.8 73.9ZM715.6 59.1L724.5 59.1L724.5 82.9L723.5 74.2L722.4 73.1L721.5 73.2L720.6 73L719.8 73.4L718.8 72.3L718.1 72.3L717.5 74.2L716.4 73.7L715.6 74.5Z" fill="#000"/><path d="M221.4 71.7V74.9M222.1 71.7V75M223.1 71.7V75.2M223.7 71.7V75.3M224.5 71.7V74.8M225.2 71.7V74.9M226 71.7V75.5M226.7 71.7V75.1M227.7 71.7V75.6M228.2 71.7V76M229.1 71.7V75.5M230 71.7V76.9M230.7 71.7V75.7M231.6 71.7V76.5M232.3 71.7V77.3M233.2 71.7V76.4M234.1 71.7V79.2M235.1 71.7V79.3M236 71.7V79.3M236.7 71.7V77.6M237.3 71.7V76.1M238 71.7V79.6M238.8 71.7V80.1M239.7 71.7V79.3M240.3 71.7V78.2M241.1 71.7V78.9M241.9 71.7V78.7M242.8 71.7V79.5M243.5 71.7V78M244.4 71.7V77.9M245.3 71.7V81.2M245.8 71.7V80.7M246.3 71.7V79M247.1 71.7V80M248 71.7V74.6M248.5 71.7V77.2M249.4 71.7V77.6M250.1 71.9V80.4M250.9 72.2V83M251.5 72.5V82M252.4 70.3V82.6M252.9 69.9V80.4M253.6 68.4V85.4M254.4 66.5V83.5M255.3 68.1V90M256 73.6V90.6M256.8 82V98.2M257.5 85.5V101.4M258.2 89.1V101.1M259 94.2V110.5M259.5 105V113.6M269.4 71.7V74.8M270.3 71.7V75.4M271.1 71.7V75.8M271.8 71.7V75.9M272.4 71.7V76M273 71.7V76.3M273.7 71.7V76.6M274.6 71.7V76.7M275.2 71.7V74.7M275.9 71.7V76M276.5 71.7V77.9M277.3 71.7V77.9M278.2 71.7V78.9M278.9 71.7V79.1M279.6 71.7V79.5M280.3 71.7V77.8M281.2 71.7V80.2M282.1 71.7V78.5M282.7 71.7V81.1M283.6 71.7V79.2M284.3 71.7V81.6M284.8 71.7V80.7M285.4 76.1V90.7M286.2 84.6V101.8M286.7 100V108.8M290.1 71.7V76.2M290.7 71.7V76M291.6 71.7V76.2M292.1 71.7V76.1M293 71.7V77.6M293.7 71.7V78M294.6 71.7V78M295.2 71.7V78.1M295.8 71.7V77.3M296.3 71.7V79.3M297.2 71.7V78.4M298 71.7V79.7M298.9 71.7V78.6M299.6 71.7V80.9M300.1 71.7V82.4M300.8 71.7V82.3M301.4 71.7V83.2M302.2 71.7V83.7M303.2 69.6V88M303.8 68.3V88.1M304.6 66.6V76.5M305.2 67.8V83.3M305.8 69.8V89.8M306.7 93.5V98.4M307.7 101.6V105.2M313.1 71.7V76.2M313.9 71.7V76.2M314.9 71.7V76.5M315.8 71.8V75.4M316.5 71.8V76.2M317 71.8V76.6M317.7 71.8V76M318.6 71.8V75.9M319.3 71.9V75.2M320.1 71.9V77.3M321 71.9V76.4M321.7 71.9V76.8M322.4 72V77.4M323.1 72V77.6M323.8 72V76.3M324.3 72V75.9M325 72V76.1M325.9 72.1V77.1M326.8 72.1V78.2M327.3 72.1V77.2M327.8 72.1V77.5M328.4 72.2V78.1M329.1 72.2V75.6M329.9 72.2V78.1M330.8 72.2V77M331.7 72.3V77.9M332.4 72.3V77.3M333.2 72.3V79M334 72.3V78.7M334.9 72.4V78.8M335.6 72.4V77.3M336.6 72.4V79M337.3 72.4V78.8M338 72.5V80.3M338.7 72.5V78.9M339.6 72.5V80.6M340.1 72.5V79.8M340.9 72.5V78.7M341.8 72.6V77.6M342.5 72.6V80M343.5 72.6V80.7M344.1 72.6V79.8M344.7 70.5V78.5M345.7 70.4V82M346.3 70.4V79.6M347 70.4V77.4M347.6 70.4V82.6M348.1 70.3V78.6M348.7 70.3V76.7M349.5 70.3V82.2M350.4 70.3V82M351.3 70.2V74.1M351.9 70.2V84.1M352.4 70.2V79.9M353.2 70.2V80.1M353.9 70.1V76.6M354.5 70.1V85.1M355.1 70.1V85.1M355.7 69.9V85.8M356.5 69.6V84.1M357.1 69.4V76.8M358 69.2V79.6M358.6 69V85.9M359.5 68.7V76.5M360.4 68.4V84.3M361.1 68.2V78.3M361.8 68V88.2M362.5 67.8V79M363 67.6V78.9M363.7 67.4V88.4M364.2 67.2V80.4M365.2 66.9V89.6M366.2 66.6V81.7M366.8 66.4V89.8M367.6 66.2V87.9M368.2 66.2V74M368.9 66.4V88.8M369.8 66.6V87.2M370.5 66.8V87.1M371.2 67V87.3M372.1 67.3V82.3M372.9 67.7V91.9M373.8 68.2V82.6M374.8 68.7V91.8M375.4 69V85.1M376 69.3V79.2M376.9 69.8V88M377.9 70.2V82.6M378.4 70.5V93.5M379.3 70.9V95.1M380.1 71.3V91.2M381 71.8V83.6M381.7 72.1V91.2M382.3 72.4V93.5M382.9 72.8V92.8M383.6 73.1V90.5M384.3 73.4V94.8M385.3 75.2V98.7M386.2 76.8V98.5M386.8 78V100.1M387.5 79.1V90.5M388.2 80.4V99.3M388.9 81.5V99.6M389.5 82.6V103M390.2 83.9V100.1M391 85.9V104.7M392 92.4V104.4M392.7 94.8V106.3M393.2 96.5V106.1M394.1 99.6V109.4M394.6 101.3V110.6M395.3 103.6V113.1M396 107.7V113M401.6 71.7V75.6M402 71.8V78.5M402.7 71.9V78.3M403.5 72V79.4M404.1 72V80.7M404.6 72.1V79.5M405.6 72.3V77.4M406.3 70.2V83M407.2 72.6V82.8M407.9 75.3V87.1M408.8 78.9V87.5M409.5 81.6V88.4M410.3 91.4V94.6M415.4 71.7V75.8M415.9 71.7V74.8M416.9 71.7V76.1M417.6 71.7V76.3M418.4 71.7V74.8M419.3 71.7V76.4M419.9 71.7V76.9M420.8 71.7V78.6M421.4 71.7V77.2M422.1 71.7V78.3M422.7 71.7V76.2M423.4 71.7V79.5M424 71.7V78.4M424.9 71.7V78.4M425.5 71.7V77.8M426.1 71.7V79.7M427 71.7V77.1M427.7 71.7V79.3M428.4 71.7V78.3M429.2 71.7V81.2M429.8 71.7V82.1M430.6 71.7V82.7M431.6 71.7V78.6M432.6 71.7V81.4M433.5 71.7V83.8M434.4 71.7V84.8M435.1 71.7V94.3M435.6 71.7V105.2M436.3 71.7V99.5M436.8 71.7V85.8M437.4 71.7V85.9M438.4 71.7V82.2M439 71.7V83.8M439.7 71.7V83.5M440.6 71.7V85.9M441.5 71.7V78.6M442.1 71.7V80.2M443 71.7V85.8M443.6 71.7V83M444.2 71.7V81.8M444.8 71.7V85.8M445.6 71.7V79.4M446.3 71.7V82.3M447.1 71.7V81.4M447.6 71.7V85.6M448.2 71.7V82.1M449 71.7V82.8M449.6 71.7V83.4M450.3 71.7V85.1M450.9 71.7V80.4M451.6 71.7V82.8M452.5 71.7V83M453.2 71.7V76.4M453.9 71.7V84.4M454.6 71.7V86.1M455.2 71.7V87.2M455.8 71.7V79.6M456.7 71.7V87.6M457.7 71.7V79.1M458.3 71.7V87.6M459.1 71.7V88.1M459.9 71.7V88.9M460.5 71.7V89.2M461.4 71.7V84.2M461.9 71.7V83.4M462.4 71.7V87M463 71.7V88.8M463.8 71.7V89.5M464.3 71.7V83.5M465.3 71.7V84M465.8 71.7V90.3M466.6 71.7V89.1M467.5 71.7V90.6M468.1 71.7V83.2M468.8 71.7V86.6M469.7 71.7V85.7M470.5 71.7V90.3M471.1 71.7V91.4M471.8 71.7V87M472.6 71.7V84.4M473.3 71.7V86.6M474.2 71.7V87.7M475 71.7V89.4M475.7 71.7V88.2M476.3 71.7V90.9M477.2 71.7V81.2M477.9 71.7V90.4M478.6 71.7V83M479.3 71.7V75M480.3 71.7V88.2M480.9 71.7V90.5M481.8 71.7V75.7M482.5 71.7V80.6M483.2 71.7V87.3M483.9 71.7V90.5M484.7 71.7V88.8M485.4 71.7V91.7M485.9 71.7V80.9M486.8 71.7V93M487.6 71.7V94.1M488.2 71.7V98M488.9 71.7V97.2M489.6 71.7V86.6M490.5 71.7V83.2M491.4 71.7V99.4M492.2 71.7V100.3M492.8 71.7V86.7M493.4 71.7V98.5M494.3 71.7V99.2M495.2 71.7V83.1M495.9 71.7V95.3M496.8 71.7V100.3M497.7 71.7V94.7M498.5 71.7V102.2M499.2 71.7V94.5M500.1 71.7V74.2M500.9 71.7V82.7M501.6 71.7V89.6M502.4 71.7V89.3M503 71.7V89.1M503.9 71.7V88.9M504.5 71.7V88.2M505.4 71.7V87.8M506.1 71.7V85M506.9 71.7V86.1M507.6 71.7V88.8M508.2 71.7V91.4M509.1 71.7V85.2M510 71.7V89.4M510.9 71.7V88.4M511.7 71.7V87.8M512.5 71.7V92.5M513.5 71.7V90.2M514.4 71.7V79.5M515.2 71.7V90.4M516 71.7V83.7M516.6 71.7V94.2M517.4 71.7V93.2M518.1 71.7V85.3M519 71.7V94.1M519.5 71.7V92.3M520 71.7V90.7M520.8 71.7V89.4M521.5 71.7V96.7M522 71.7V97.7M522.9 71.7V85.3M523.8 71.7V94.8M524.7 71.7V97.9M525.5 71.7V91.4M526.5 71.7V100.4M527.1 71.7V98.9M527.7 71.7V98.9M528.4 71.7V100.7M529 71.7V99.8M529.6 71.7V83.5M530.4 71.7V93M530.9 71.7V96.2M531.9 71.7V97.7M532.7 71.7V93.7M533.2 71.7V103.9M534.1 71.7V96.3M534.9 71.7V82.9M535.9 71.7V104.6M538.4 71.7V74.5M539.1 71.7V75M540.1 71.7V75M541 71.7V75.1M541.6 71.7V76.1M542.3 71.7V75.5M543 71.7V75.7M543.9 71.7V75.3M544.8 71.7V76.5M545.4 71.7V75.8M546.4 71.7V77.1M547.3 71.7V76.2M548.2 71.7V77.6M548.8 71.7V77.1M549.7 71.7V78.5M550.4 71.7V74.8M551.3 71.7V75.7M552.3 71.7V77.9M553.2 71.7V78.5M554.1 71.7V80.1M554.7 71.7V79.8M555.4 71.7V79.6M556 71.7V80.9M556.5 71.7V81.3M557.4 71.7V79.1M558.3 71.7V78.9M558.9 71.7V81.9M559.5 71.7V78.1M560.2 71.7V80.9M560.8 71.7V79.8M561.3 71.7V80.6M562.1 71.7V79.7M562.7 71.7V78.6M563.6 71.7V80.2M564.5 71.7V77.9M565 71.7V82.2M565.9 71.7V82M566.7 71.7V83.6M567.4 71.7V82.8M568.2 71.7V81M568.9 71.7V80.8M569.5 71.7V85.4M570.2 71.7V86M571.1 71.7V81.5M571.8 71.7V81.8M572.4 71.7V81.8M573.2 71.7V83.9M574 71.7V85.9M574.8 71.7V83.4M575.6 71.7V83.7M576.3 71.7V84.1M577 71.7V87.3M577.6 71.7V87.9M578.1 71.7V83.5M579.1 71.7V89M579.7 71.7V83.4M580.3 71.7V87.7M581 71.7V88.2M581.7 71.7V88.1M582.4 71.7V88.7M583.2 71.7V83.7M584.1 71.7V86.6M584.8 71.7V87.5M585.5 71.7V85.1M586.3 71.7V82.2M586.9 71.7V93.9M587.5 71.7V91.9M588 71.7V93.7M588.9 71.7V92.1M589.7 71.7V92.9M590.6 71.7V95M591.2 71.7V92.2M591.9 71.7V95.8M592.7 71.7V92.8M593.3 71.7V96.1M594.1 71.7V89.4M594.8 71.7V95.8M595.6 71.7V92.8M596.3 71.7V93.3M597.1 71.7V81.5M598 71.7V86.6M598.7 71.7V95.7M599.5 71.7V92.5M600 71.7V100.5M600.8 71.7V92.8M601.5 71.7V98.3M602.4 71.7V101.1M603.3 71.7V103.6M603.9 71.7V103.9M604.4 71.7V102.3M605 71.7V102.8M605.9 71.7V99.2M606.5 71.7V101.8M607.1 71.7V84.8M608.1 71.7V104.1M609 71.7V88.2M609.9 71.7V94.2M611 71.7V80M611.7 71.8V88.1M612.6 72V79.2M613.5 72.1V88.8M614.4 72.2V88.4M615.1 72.4V82.2M616.1 72.5V86.3M617 72.7V90M617.7 70.4V88.3M618.3 70.3V83.9M618.8 70.1V97.8M619.6 70V78.5M620.4 69.9V75.5M621.1 69.7V74.2M621.8 69.6V76.5M622.8 69.4V78.8M623.7 69.2V79.9M624.3 69.1V82.6M625 69V81.2M625.8 68.7V84.5M626.6 68.2V75.6M627.3 67.8V85.6M628.3 67.3V81.5M628.8 66.9V80.4M629.7 66.4V79.1M630.6 66.3V81.1M631.5 66.7V86.9M632.1 67V85.6M632.9 67.4V82.8M633.6 67.8V88M634.6 68.3V84.3M635.2 68.6V87.9M636 69V88.2M636.9 69.4V84.1M637.7 69.8V88.9M638.3 70.1V89M639 70.5V88.3M639.9 70.9V95.1M640.8 71.4V86.5M641.5 71.7V99M642.1 72V89.7M642.6 72.6V103.1M643.3 73.3V92.1M643.9 73.8V97M644.9 74.8V95.6M645.8 75.8V94.8M646.4 76.4V89.5M647.1 77.1V89.3M647.8 77.7V86.4M648.3 78.3V98.6M649.2 79.2V98.9M649.9 79.8V96.4M650.6 80.6V100.6M651.3 81.2V98.9M652 83.3V103.1M652.7 86.6V90.8M653.4 88.3V105.4M654 89.8V104.6M654.5 91.2V102.3M655.4 93.2V101.3M656.1 95V107.6M656.8 96.7V109.6M657.7 99V108.6M658.5 103.4V114.2M659.3 108.6V116M660.1 111.7V118.5M660.9 115V119.6M661.8 118.3V123M662.5 121.2V125.7M667.1 71.7V79.1M667.9 71.7V80M668.6 71.7V80M669.3 71.7V77.6M670.1 71.7V80.8M670.9 71.7V77M671.6 71.7V81.7M672.1 71.7V82.7M673.1 71.7V79.4M673.7 71.7V83.4M674.7 71.7V83.5M675.5 71.7V81.2M676.2 71.7V83.1M677 71.7V82.4M677.7 71.7V81.4M678.5 71.7V83M679 71.7V81.3M679.8 71.7V82.4M680.7 71.7V80.3M681.4 71.7V79.7M682 71.7V80.9M682.6 71.7V78.8M683.2 71.7V83.2M684.1 71.7V81.5M684.7 71.7V77.2M685.3 71.7V77.6M686.1 71.7V81.5M687 71.7V79.5M687.8 71.7V81.8M688.4 71.7V81.1M689.2 71.7V79.1M690 71.7V78.6M690.9 71.7V83.4M691.5 71.7V87.3M692.3 71.7V76.7M692.8 71.7V85.1M693.4 71.7V80.9M694.2 71.7V78.5M695.1 71.7V74.9M695.8 71.8V75.3M696.8 71.9V77.1M697.6 72V75.6M698.4 72.1V77.8M699.2 72.3V78M700 72.4V79.6M700.6 72.4V81.1M701.1 72.5V79.4M701.7 72.6V83.8M702.3 70.5V75.7M703.1 70.3V84.6M703.9 70.2V88M704.7 70V79.4M705.7 73.5V87.7M706.3 76V88.4M707.1 79.1V97.4M707.7 81.7V98.7M708.2 85.5V109.4M715.9 71.7V76.6M716.8 71.7V77M717.4 71.7V79.1M718.1 71.7V80.2M718.8 71.7V79.9M719.7 71.7V83.1M720.6 71.7V78.2M721.3 71.7V77.2M721.9 71.7V84.5M722.5 71.7V81.3M723.1 71.7V75.9M723.7 71.7V79.8" stroke="#000" stroke-width="1.25" fill="none"/><path d="M223.1 72.6v5.9M228.2 73.9v20.8M233.2 76.3v32.2M238 77.4v27.6M239.7 77.9v18M248 79.9v5.8M251.5 82.9v12.5M270.3 72.9v5.5M271.8 73.5v7.6M276.5 75.7v32.2M282.1 79v7.4M292.1 74.9v5.7M293 75.4v6.6M294.6 76.3v9.5M301.4 82.9v11.4M315.8 74.1v17.2M318.6 74.4v8M319.3 74.5v18.7M321 74.8v8.2M325 75.3v6.7M326.8 75.6v6.5M327.8 75.7v8.2M330.8 76.1v18.5M332.4 76.4v4.7M335.6 77.2v15.9M338 77.7v8.2M343.5 79.1v29.6M401.6 75.6v8.8M402 76.1v7.7M405.6 79.7v11M421.4 76.3v7.2M422.7 76.8v11.4M424 77.4v17.6M430.6 80.1v19.3M433.5 84.6v6.9M443.6 83.5v27.7M447.1 83.5v13M448.2 83.5v8.2M454.6 85v32.2M455.2 85.2v20.2M460.5 87.2v5.4M466.6 88.8v17.4M472.6 89.4v8.8M479.3 90v6.7M484.7 93v12.4M485.9 93.8v5.5M487.6 95v18.3M488.2 95.4v7.8M492.8 98.3v20.3M509.1 89.1v17.5M512.5 89.9v12.9M519 93.5v21.4M522 95.3v7.4M526.5 98v6.6M527.7 98.7v32.2M530.9 100.9v8.8M531.9 101.7v7.2M534.1 103.6v6.4M534.9 104.2v19.6M537.5 72.1v5.7M541 73.3v22.4M542.3 73.8v24.9M543 74v7M547.3 75.5v14.2M548.2 75.8v32.2M549.7 76.3v23.4M557.4 79v8.5M558.9 79.5v10.3M562.7 80.9v10.2M564.5 81.5v15.3M565 81.7v13.6M566.7 82.3v7.2M568.9 83.1v5.8M574 84.9v22.8M575.6 85.5v10.2M576.3 85.8v13M578.1 86.4v10M580.3 87.4v11.1M582.4 88.7v11.6M584.1 89.7v7.8M593.3 95.2v27.6M594.1 95.7v13.5M594.8 96.1v25.1M598 98.1v23.1M607.1 104.2v7.5M611 87v17.5M672.1 80.2v32.2M678.5 81.5v6.4M688.4 80.5v20.6M692.8 86.3v7.3M698.4 76.4v10.8M700 78.4v5.1M701.1 79.9v18.8M715.9 74.2v9.9M718.1 78.1v4.5M718.8 79.3v9.4M226.4 63.1V224.7M239.6 63.1V112.6M241.2 63.1V130.7M247.2 63.1V114.2M256.7 63.1V137.3M269.3 63.1V120.8M275.9 63.1V145.6M280.2 63.1V110.9M294.7 63.1V189.4M293 63.1V119.2M302.3 63.1V119.2M307.2 63.1V135.7M317.8 63.1V152.2M320.4 63.1V119.2M328.6 63.1V129.1M333.6 63.1V120.8M337.9 63.1V117.5M344.2 63.1V121.5M675 63.1V124.1M678.3 63.1V102.7M685.6 63.1V110.9M693.2 63.1V132.4M699.8 63.1V133M723.8 63.1V158.8M721.2 63.1V107.6M435.9 63.1V110.9M443.4 63.1V102.7M418.7 63.1V94.4M621.6 63.1V106M641.4 63.1V110.9M218.1 59.3H724.5" stroke="#000" stroke-width="0.85" fill="none" opacity="0.9"/></g>
<use href="#dtop" transform="matrix(0 1 0.725 0 25.15 39.2)"/>
<g><rect x="218.1" y="232" width="11.8" height="21" fill="#BEBEBE"/><rect x="229.7" y="232" width="1.9" height="21" fill="#BEBEBE"/><rect x="231.3" y="232" width="1.6" height="21" fill="#CDC1C5"/><rect x="232.6" y="232" width="2.6" height="21" fill="#BEBEBE"/><rect x="234.9" y="232" width="1.4" height="21" fill="#DDA0DD"/><rect x="236" y="232" width="2.4" height="21" fill="#BEBEBE"/><rect x="238.1" y="232" width="2" height="21" fill="#CDC1C5"/><rect x="239.8" y="232" width="1.4" height="21" fill="#6CA6CD"/><rect x="240.9" y="232" width="2.3" height="21" fill="#BEBEBE"/><rect x="242.9" y="232" width="1.4" height="21" fill="#CDC1C5"/><rect x="243.9" y="232" width="2.1" height="21" fill="#BEBEBE"/><rect x="245.8" y="232" width="1.4" height="21" fill="#CDC1C5"/><rect x="246.9" y="232" width="1.5" height="21" fill="#BEBEBE"/><rect x="248.1" y="232" width="1.7" height="21" fill="#DDA0DD"/><rect x="249.5" y="232" width="2.6" height="21" fill="#8B7D6B"/><rect x="251.8" y="232" width="16.1" height="21" fill="#87CEFF"/><rect x="267.6" y="232" width="3.6" height="21" fill="#BA55D3"/><rect x="270.9" y="232" width="2.9" height="21" fill="#BEBEBE"/><rect x="273.5" y="232" width="1.5" height="21" fill="#CDC1C5"/><rect x="274.8" y="232" width="1.7" height="21" fill="#8B7D6B"/><rect x="276.2" y="232" width="2.5" height="21" fill="#BEBEBE"/><rect x="278.4" y="232" width="3.2" height="21" fill="#CDC1C5"/><rect x="281.3" y="232" width="2.4" height="21" fill="#BEBEBE"/><rect x="283.4" y="232" width="1" height="21" fill="#BEBEBE"/><rect x="284.1" y="232" width="6.9" height="21" fill="#FFA500"/><rect x="290.7" y="232" width="3.2" height="21" fill="#8FBC8F"/><rect x="293.6" y="232" width="1.4" height="21" fill="#BEBEBE"/><rect x="294.7" y="232" width="3" height="21" fill="#66CDAA"/><rect x="297.4" y="232" width="1.9" height="21" fill="#8FBC8F"/><rect x="299" y="232" width="1.6" height="21" fill="#8B7D6B"/><rect x="300.2" y="232" width="1.5" height="21" fill="#66CDAA"/><rect x="301.5" y="232" width="1.9" height="21" fill="#6CA6CD"/><rect x="303.1" y="232" width="2.1" height="21" fill="#8FBC8F"/><rect x="304.9" y="232" width="9.2" height="21" fill="#EE7600"/><rect x="313.8" y="232" width="1.6" height="21" fill="#9F79EE"/><rect x="315.2" y="232" width="2.4" height="21" fill="#BEBEBE"/><rect x="317.3" y="232" width="2.6" height="21" fill="#6CA6CD"/><rect x="319.5" y="232" width="2" height="21" fill="#9F79EE"/><rect x="321.3" y="232" width="1.1" height="21" fill="#7EC0EE"/><rect x="322.1" y="232" width="3.6" height="21" fill="#0000FF"/><rect x="325.4" y="232" width="5.2" height="21" fill="#00FFFF"/><rect x="330.3" y="232" width="1.4" height="21" fill="#00FFFF"/><rect x="331.4" y="232" width="1.4" height="21" fill="#6CA6CD"/><rect x="332.5" y="232" width="1.7" height="21" fill="#00FFFF"/><rect x="333.9" y="232" width="2.6" height="21" fill="#0000FF"/><rect x="336.3" y="232" width="2.1" height="21" fill="#87CEFF"/><rect x="338.1" y="232" width="1.9" height="21" fill="#00FFFF"/><rect x="339.7" y="232" width="2.4" height="21" fill="#6CA6CD"/><rect x="341.8" y="232" width="2.2" height="21" fill="#0000FF"/><rect x="343.7" y="232" width="1.9" height="21" fill="#0000FF"/><rect x="345.3" y="232" width="2.9" height="21" fill="#2020E0"/><rect x="347.9" y="232" width="2.7" height="21" fill="#0000FF"/><rect x="350.2" y="232" width="1.8" height="21" fill="#0000FF"/><rect x="351.7" y="232" width="2.4" height="21" fill="#3030D0"/><rect x="353.8" y="232" width="2.3" height="21" fill="#0000FF"/><rect x="355.9" y="232" width="2.1" height="21" fill="#0000FF"/><rect x="357.7" y="232" width="7.6" height="21" fill="#0000FF"/><rect x="364.9" y="232" width="2.7" height="21" fill="#BEBEBE"/><rect x="367.4" y="232" width="1.9" height="21" fill="#8B7D6B"/><rect x="368.9" y="232" width="2.2" height="21" fill="#9F79EE"/><rect x="370.9" y="232" width="30.6" height="21" fill="#0000FF"/><rect x="401.2" y="232" width="6.9" height="21" fill="#87CEFF"/><rect x="407.8" y="232" width="1.5" height="21" fill="#7EC0EE"/><rect x="409" y="232" width="2.1" height="21" fill="#BEBEBE"/><rect x="410.9" y="232" width="2.8" height="21" fill="#87CEFF"/><rect x="413.3" y="232" width="1.6" height="21" fill="#CDC1C5"/><rect x="414.6" y="232" width="0.7" height="21" fill="#7EC0EE"/><rect x="415.1" y="232" width="2.9" height="21" fill="#0000FF"/><rect x="417.7" y="232" width="19.4" height="21" fill="#00FFFF"/><rect x="436.8" y="232" width="1.6" height="21" fill="#E0FFFF"/><rect x="438.2" y="232" width="1.4" height="21" fill="#00FFFF"/><rect x="439.2" y="232" width="2.6" height="21" fill="#00FFFF"/><rect x="441.5" y="232" width="2.8" height="21" fill="#00FFFF"/><rect x="444" y="232" width="2.4" height="21" fill="#40E0E0"/><rect x="446.2" y="232" width="3" height="21" fill="#00FFFF"/><rect x="448.9" y="232" width="1.9" height="21" fill="#00FFFF"/><rect x="450.5" y="232" width="2.7" height="21" fill="#80F0F0"/><rect x="452.9" y="232" width="1.4" height="21" fill="#00FFFF"/><rect x="454" y="232" width="15.8" height="21" fill="#0000FF"/><rect x="469.5" y="232" width="17.8" height="21" fill="#00FFFF"/><rect x="487" y="232" width="1.9" height="21" fill="#0000FF"/><rect x="488.6" y="232" width="28.3" height="21" fill="#00FFFF"/><rect x="516.7" y="232" width="1.6" height="21" fill="#0000FF"/><rect x="518" y="232" width="31.3" height="21" fill="#00FFFF"/><rect x="549" y="232" width="2.9" height="21" fill="#8B2323"/><rect x="551.6" y="232" width="122" height="21" fill="#00FFFF"/><rect x="673.4" y="232" width="3.6" height="21" fill="#8B2323"/><rect x="676.7" y="232" width="6.9" height="21" fill="#00FFFF"/><rect x="683.3" y="232" width="12.8" height="21" fill="#8B2323"/><rect x="695.8" y="232" width="2.4" height="21" fill="#BEBEBE"/><rect x="697.9" y="232" width="2.2" height="21" fill="#7EC0EE"/><rect x="699.8" y="232" width="3" height="21" fill="#BEBEBE"/><rect x="702.5" y="232" width="0.9" height="21" fill="#6CA6CD"/><rect x="703.1" y="232" width="12.8" height="21" fill="#CD6889"/><rect x="715.6" y="232" width="2.2" height="21" fill="#BEBEBE"/><rect x="717.5" y="232" width="2.6" height="21" fill="#7EC0EE"/><rect x="719.8" y="232" width="1.4" height="21" fill="#8B7D6B"/><rect x="720.9" y="232" width="2.7" height="21" fill="#BEBEBE"/><rect x="723.3" y="232" width="1.5" height="21" fill="#6CA6CD"/><rect x="192.8" y="257.3" width="21.3" height="11.8" fill="#BEBEBE"/><rect x="192.8" y="268.9" width="21.3" height="1.9" fill="#BEBEBE"/><rect x="192.8" y="270.5" width="21.3" height="1.6" fill="#CDC1C5"/><rect x="192.8" y="271.8" width="21.3" height="2.6" fill="#BEBEBE"/><rect x="192.8" y="274.1" width="21.3" height="1.4" fill="#DDA0DD"/><rect x="192.8" y="275.2" width="21.3" height="2.4" fill="#BEBEBE"/><rect x="192.8" y="277.3" width="21.3" height="2" fill="#CDC1C5"/><rect x="192.8" y="279" width="21.3" height="1.4" fill="#6CA6CD"/><rect x="192.8" y="280.1" width="21.3" height="2.3" fill="#BEBEBE"/><rect x="192.8" y="282.1" width="21.3" height="1.4" fill="#CDC1C5"/><rect x="192.8" y="283.1" width="21.3" height="2.1" fill="#BEBEBE"/><rect x="192.8" y="285" width="21.3" height="1.4" fill="#CDC1C5"/><rect x="192.8" y="286.1" width="21.3" height="1.5" fill="#BEBEBE"/><rect x="192.8" y="287.3" width="21.3" height="1.7" fill="#DDA0DD"/><rect x="192.8" y="288.7" width="21.3" height="2.6" fill="#8B7D6B"/><rect x="192.8" y="291" width="21.3" height="16.1" fill="#87CEFF"/><rect x="192.8" y="306.8" width="21.3" height="3.6" fill="#BA55D3"/><rect x="192.8" y="310.1" width="21.3" height="2.9" fill="#BEBEBE"/><rect x="192.8" y="312.7" width="21.3" height="1.5" fill="#CDC1C5"/><rect x="192.8" y="314" width="21.3" height="1.7" fill="#8B7D6B"/><rect x="192.8" y="315.4" width="21.3" height="2.5" fill="#BEBEBE"/><rect x="192.8" y="317.6" width="21.3" height="3.2" fill="#CDC1C5"/><rect x="192.8" y="320.5" width="21.3" height="2.4" fill="#BEBEBE"/><rect x="192.8" y="322.6" width="21.3" height="1" fill="#BEBEBE"/><rect x="192.8" y="323.3" width="21.3" height="6.9" fill="#FFA500"/><rect x="192.8" y="329.9" width="21.3" height="3.2" fill="#8FBC8F"/><rect x="192.8" y="332.8" width="21.3" height="1.4" fill="#BEBEBE"/><rect x="192.8" y="333.9" width="21.3" height="3" fill="#66CDAA"/><rect x="192.8" y="336.6" width="21.3" height="1.9" fill="#8FBC8F"/><rect x="192.8" y="338.2" width="21.3" height="1.6" fill="#8B7D6B"/><rect x="192.8" y="339.4" width="21.3" height="1.5" fill="#66CDAA"/><rect x="192.8" y="340.7" width="21.3" height="1.9" fill="#6CA6CD"/><rect x="192.8" y="342.3" width="21.3" height="2.1" fill="#8FBC8F"/><rect x="192.8" y="344.1" width="21.3" height="9.2" fill="#EE7600"/><rect x="192.8" y="353" width="21.3" height="1.6" fill="#9F79EE"/><rect x="192.8" y="354.4" width="21.3" height="2.4" fill="#BEBEBE"/><rect x="192.8" y="356.5" width="21.3" height="2.6" fill="#6CA6CD"/><rect x="192.8" y="358.7" width="21.3" height="2" fill="#9F79EE"/><rect x="192.8" y="360.5" width="21.3" height="1.1" fill="#7EC0EE"/><rect x="192.8" y="361.3" width="21.3" height="3.6" fill="#0000FF"/><rect x="192.8" y="364.6" width="21.3" height="5.2" fill="#00FFFF"/><rect x="192.8" y="369.5" width="21.3" height="1.4" fill="#00FFFF"/><rect x="192.8" y="370.6" width="21.3" height="1.4" fill="#6CA6CD"/><rect x="192.8" y="371.7" width="21.3" height="1.7" fill="#00FFFF"/><rect x="192.8" y="373.1" width="21.3" height="2.6" fill="#0000FF"/><rect x="192.8" y="375.5" width="21.3" height="2.1" fill="#87CEFF"/><rect x="192.8" y="377.3" width="21.3" height="1.9" fill="#00FFFF"/><rect x="192.8" y="378.9" width="21.3" height="2.4" fill="#6CA6CD"/><rect x="192.8" y="381" width="21.3" height="2.2" fill="#0000FF"/><rect x="192.8" y="382.9" width="21.3" height="1.9" fill="#0000FF"/><rect x="192.8" y="384.5" width="21.3" height="2.9" fill="#2020E0"/><rect x="192.8" y="387.1" width="21.3" height="2.7" fill="#0000FF"/><rect x="192.8" y="389.4" width="21.3" height="1.8" fill="#0000FF"/><rect x="192.8" y="390.9" width="21.3" height="2.4" fill="#3030D0"/><rect x="192.8" y="393" width="21.3" height="2.3" fill="#0000FF"/><rect x="192.8" y="395.1" width="21.3" height="2.1" fill="#0000FF"/><rect x="192.8" y="396.9" width="21.3" height="7.6" fill="#0000FF"/><rect x="192.8" y="404.1" width="21.3" height="2.7" fill="#BEBEBE"/><rect x="192.8" y="406.6" width="21.3" height="1.9" fill="#8B7D6B"/><rect x="192.8" y="408.1" width="21.3" height="2.2" fill="#9F79EE"/><rect x="192.8" y="410.1" width="21.3" height="30.6" fill="#0000FF"/><rect x="192.8" y="440.4" width="21.3" height="6.9" fill="#87CEFF"/><rect x="192.8" y="447" width="21.3" height="1.5" fill="#7EC0EE"/><rect x="192.8" y="448.2" width="21.3" height="2.1" fill="#BEBEBE"/><rect x="192.8" y="450.1" width="21.3" height="2.8" fill="#87CEFF"/><rect x="192.8" y="452.5" width="21.3" height="1.6" fill="#CDC1C5"/><rect x="192.8" y="453.8" width="21.3" height="0.7" fill="#7EC0EE"/><rect x="192.8" y="454.3" width="21.3" height="2.9" fill="#0000FF"/><rect x="192.8" y="456.9" width="21.3" height="19.4" fill="#00FFFF"/><rect x="192.8" y="476" width="21.3" height="1.6" fill="#E0FFFF"/><rect x="192.8" y="477.4" width="21.3" height="1.4" fill="#00FFFF"/><rect x="192.8" y="478.4" width="21.3" height="2.6" fill="#00FFFF"/><rect x="192.8" y="480.7" width="21.3" height="2.8" fill="#00FFFF"/><rect x="192.8" y="483.2" width="21.3" height="2.4" fill="#40E0E0"/><rect x="192.8" y="485.4" width="21.3" height="3" fill="#00FFFF"/><rect x="192.8" y="488.1" width="21.3" height="1.9" fill="#00FFFF"/><rect x="192.8" y="489.7" width="21.3" height="2.7" fill="#80F0F0"/><rect x="192.8" y="492.1" width="21.3" height="1.4" fill="#00FFFF"/><rect x="192.8" y="493.2" width="21.3" height="15.8" fill="#0000FF"/><rect x="192.8" y="508.7" width="21.3" height="17.8" fill="#00FFFF"/><rect x="192.8" y="526.2" width="21.3" height="1.9" fill="#0000FF"/><rect x="192.8" y="527.8" width="21.3" height="28.3" fill="#00FFFF"/><rect x="192.8" y="555.9" width="21.3" height="1.6" fill="#0000FF"/><rect x="192.8" y="557.2" width="21.3" height="31.3" fill="#00FFFF"/><rect x="192.8" y="588.2" width="21.3" height="2.9" fill="#8B2323"/><rect x="192.8" y="590.8" width="21.3" height="122" fill="#00FFFF"/><rect x="192.8" y="712.6" width="21.3" height="3.6" fill="#8B2323"/><rect x="192.8" y="715.9" width="21.3" height="6.9" fill="#00FFFF"/><rect x="192.8" y="722.5" width="21.3" height="12.8" fill="#8B2323"/><rect x="192.8" y="735" width="21.3" height="2.4" fill="#BEBEBE"/><rect x="192.8" y="737.1" width="21.3" height="2.2" fill="#7EC0EE"/><rect x="192.8" y="739" width="21.3" height="3" fill="#BEBEBE"/><rect x="192.8" y="741.7" width="21.3" height="0.9" fill="#6CA6CD"/><rect x="192.8" y="742.3" width="21.3" height="12.8" fill="#CD6889"/><rect x="192.8" y="754.8" width="21.3" height="2.2" fill="#BEBEBE"/><rect x="192.8" y="756.7" width="21.3" height="2.6" fill="#7EC0EE"/><rect x="192.8" y="759" width="21.3" height="1.4" fill="#8B7D6B"/><rect x="192.8" y="760.1" width="21.3" height="2.7" fill="#BEBEBE"/><rect x="192.8" y="762.5" width="21.3" height="1.5" fill="#6CA6CD"/></g>
<defs><linearGradient id="gh_sky"><stop offset="0" stop-color="#F7931E" stop-opacity="0.11"/><stop offset="0.067" stop-color="#F7931E" stop-opacity="0.04"/><stop offset="0.133" stop-color="#F7931E" stop-opacity="0.05"/><stop offset="0.2" stop-color="#F7931E" stop-opacity="0.13"/><stop offset="0.267" stop-color="#F7931E" stop-opacity="0.28"/><stop offset="0.333" stop-color="#F7931E" stop-opacity="0.25"/><stop offset="0.4" stop-color="#F7931E" stop-opacity="0.39"/><stop offset="0.467" stop-color="#F7931E" stop-opacity="0.31"/><stop offset="0.533" stop-color="#F7931E" stop-opacity="0.46"/><stop offset="0.6" stop-color="#F7931E" stop-opacity="0.4"/><stop offset="0.667" stop-color="#F7931E" stop-opacity="0.45"/><stop offset="0.733" stop-color="#F7931E" stop-opacity="0.53"/><stop offset="0.8" stop-color="#F7931E" stop-opacity="0.78"/><stop offset="0.867" stop-color="#F7931E" stop-opacity="0.85"/><stop offset="0.933" stop-color="#F7931E" stop-opacity="0.92"/><stop offset="1" stop-color="#F7931E" stop-opacity="1"/></linearGradient><linearGradient id="gv_sky" x1="0" y1="0" x2="0" y2="1"><stop offset="0" stop-color="#fff" stop-opacity="0.11"/><stop offset="0.067" stop-color="#fff" stop-opacity="0.04"/><stop offset="0.133" stop-color="#fff" stop-opacity="0.05"/><stop offset="0.2" stop-color="#fff" stop-opacity="0.13"/><stop offset="0.267" stop-color="#fff" stop-opacity="0.28"/><stop offset="0.333" stop-color="#fff" stop-opacity="0.25"/><stop offset="0.4" stop-color="#fff" stop-opacity="0.39"/><stop offset="0.467" stop-color="#fff" stop-opacity="0.31"/><stop offset="0.533" stop-color="#fff" stop-opacity="0.46"/><stop offset="0.6" stop-color="#fff" stop-opacity="0.4"/><stop offset="0.667" stop-color="#fff" stop-opacity="0.45"/><stop offset="0.733" stop-color="#fff" stop-opacity="0.53"/><stop offset="0.8" stop-color="#fff" stop-opacity="0.78"/><stop offset="0.867" stop-color="#fff" stop-opacity="0.85"/><stop offset="0.933" stop-color="#fff" stop-opacity="0.92"/><stop offset="1" stop-color="#fff" stop-opacity="1"/></linearGradient><mask id="mv_sky" maskContentUnits="objectBoundingBox" x="0" y="0" width="1" height="1"><rect width="1" height="1" fill="url(#gv_sky)"/></mask><linearGradient id="gh_o1"><stop offset="0" stop-color="#F7931E" stop-opacity="0.3"/><stop offset="0.333" stop-color="#F7931E" stop-opacity="0.53"/><stop offset="0.667" stop-color="#F7931E" stop-opacity="0.77"/><stop offset="1" stop-color="#F7931E" stop-opacity="1"/></linearGradient><linearGradient id="gv_o1" x1="0" y1="0" x2="0" y2="1"><stop offset="0" stop-color="#fff" stop-opacity="0.3"/><stop offset="0.333" stop-color="#fff" stop-opacity="0.53"/><stop offset="0.667" stop-color="#fff" stop-opacity="0.77"/><stop offset="1" stop-color="#fff" stop-opacity="1"/></linearGradient><mask id="mv_o1" maskContentUnits="objectBoundingBox" x="0" y="0" width="1" height="1"><rect width="1" height="1" fill="url(#gv_o1)"/></mask><linearGradient id="gh_dor"><stop offset="0" stop-color="#F7931E" stop-opacity="0.1"/><stop offset="0.143" stop-color="#F7931E" stop-opacity="0.15"/><stop offset="0.286" stop-color="#F7931E" stop-opacity="0.24"/><stop offset="0.429" stop-color="#F7931E" stop-opacity="0.35"/><stop offset="0.571" stop-color="#F7931E" stop-opacity="0.49"/><stop offset="0.714" stop-color="#F7931E" stop-opacity="0.64"/><stop offset="0.857" stop-color="#F7931E" stop-opacity="0.81"/><stop offset="1" stop-color="#F7931E" stop-opacity="1"/></linearGradient><linearGradient id="gv_dor" x1="0" y1="0" x2="0" y2="1"><stop offset="0" stop-color="#fff" stop-opacity="0.1"/><stop offset="0.143" stop-color="#fff" stop-opacity="0.15"/><stop offset="0.286" stop-color="#fff" stop-opacity="0.24"/><stop offset="0.429" stop-color="#fff" stop-opacity="0.35"/><stop offset="0.571" stop-color="#fff" stop-opacity="0.49"/><stop offset="0.714" stop-color="#fff" stop-opacity="0.64"/><stop offset="0.857" stop-color="#fff" stop-opacity="0.81"/><stop offset="1" stop-color="#fff" stop-opacity="1"/></linearGradient><mask id="mv_dor" maskContentUnits="objectBoundingBox" x="0" y="0" width="1" height="1"><rect width="1" height="1" fill="url(#gv_dor)"/></mask><linearGradient id="gh_blueA"><stop offset="0" stop-color="#F7931E" stop-opacity="0.07"/><stop offset="0.021" stop-color="#F7931E" stop-opacity="0.31"/><stop offset="0.043" stop-color="#F7931E" stop-opacity="0.29"/><stop offset="0.064" stop-color="#F7931E" stop-opacity="0.25"/><stop offset="0.085" stop-color="#F7931E" stop-opacity="0.26"/><stop offset="0.106" stop-color="#F7931E" stop-opacity="0.36"/><stop offset="0.128" stop-color="#F7931E" stop-opacity="0.09"/><stop offset="0.149" stop-color="#F7931E" stop-opacity="0.1"/><stop offset="0.17" stop-color="#F7931E" stop-opacity="0.06"/><stop offset="0.191" stop-color="#F7931E" stop-opacity="0.41"/><stop offset="0.213" stop-color="#F7931E" stop-opacity="0.43"/><stop offset="0.234" stop-color="#F7931E" stop-opacity="0.18"/><stop offset="0.255" stop-color="#F7931E" stop-opacity="0.32"/><stop offset="0.277" stop-color="#F7931E" stop-opacity="0.47"/><stop offset="0.298" stop-color="#F7931E" stop-opacity="0.48"/><stop offset="0.319" stop-color="#F7931E" stop-opacity="0.2"/><stop offset="0.34" stop-color="#F7931E" stop-opacity="0.51"/><stop offset="0.362" stop-color="#F7931E" stop-opacity="0.48"/><stop offset="0.383" stop-color="#F7931E" stop-opacity="0.54"/><stop offset="0.404" stop-color="#F7931E" stop-opacity="0.56"/><stop offset="0.426" stop-color="#F7931E" stop-opacity="0.57"/><stop offset="0.447" stop-color="#F7931E" stop-opacity="0.59"/><stop offset="0.468" stop-color="#F7931E" stop-opacity="0.54"/><stop offset="0.489" stop-color="#F7931E" stop-opacity="0.43"/><stop offset="0.511" stop-color="#F7931E" stop-opacity="0.25"/><stop offset="0.532" stop-color="#F7931E" stop-opacity="0.16"/><stop offset="0.553" stop-color="#F7931E" stop-opacity="0.66"/><stop offset="0.574" stop-color="#F7931E" stop-opacity="0.61"/><stop offset="0.596" stop-color="#F7931E" stop-opacity="0.63"/><stop offset="0.617" stop-color="#F7931E" stop-opacity="0.71"/><stop offset="0.638" stop-color="#F7931E" stop-opacity="0.73"/><stop offset="0.66" stop-color="#F7931E" stop-opacity="0.56"/><stop offset="0.681" stop-color="#F7931E" stop-opacity="0.76"/><stop offset="0.702" stop-color="#F7931E" stop-opacity="0.58"/><stop offset="0.723" stop-color="#F7931E" stop-opacity="0.59"/><stop offset="0.745" stop-color="#F7931E" stop-opacity="0.12"/><stop offset="0.766" stop-color="#F7931E" stop-opacity="0.82"/><stop offset="0.787" stop-color="#F7931E" stop-opacity="0.84"/><stop offset="0.809" stop-color="#F7931E" stop-opacity="0.6"/><stop offset="0.83" stop-color="#F7931E" stop-opacity="0.87"/><stop offset="0.851" stop-color="#F7931E" stop-opacity="0.62"/><stop offset="0.872" stop-color="#F7931E" stop-opacity="0.9"/><stop offset="0.894" stop-color="#F7931E" stop-opacity="0.92"/><stop offset="0.915" stop-color="#F7931E" stop-opacity="0.93"/><stop offset="0.936" stop-color="#F7931E" stop-opacity="0.95"/><stop offset="0.957" stop-color="#F7931E" stop-opacity="0.97"/><stop offset="0.979" stop-color="#F7931E" stop-opacity="0.98"/><stop offset="1" stop-color="#F7931E" stop-opacity="1"/></linearGradient><linearGradient id="gv_blueA" x1="0" y1="0" x2="0" y2="1"><stop offset="0" stop-color="#fff" stop-opacity="0.07"/><stop offset="0.021" stop-color="#fff" stop-opacity="0.31"/><stop offset="0.043" stop-color="#fff" stop-opacity="0.29"/><stop offset="0.064" stop-color="#fff" stop-opacity="0.25"/><stop offset="0.085" stop-color="#fff" stop-opacity="0.26"/><stop offset="0.106" stop-color="#fff" stop-opacity="0.36"/><stop offset="0.128" stop-color="#fff" stop-opacity="0.09"/><stop offset="0.149" stop-color="#fff" stop-opacity="0.1"/><stop offset="0.17" stop-color="#fff" stop-opacity="0.06"/><stop offset="0.191" stop-color="#fff" stop-opacity="0.41"/><stop offset="0.213" stop-color="#fff" stop-opacity="0.43"/><stop offset="0.234" stop-color="#fff" stop-opacity="0.18"/><stop offset="0.255" stop-color="#fff" stop-opacity="0.32"/><stop offset="0.277" stop-color="#fff" stop-opacity="0.47"/><stop offset="0.298" stop-color="#fff" stop-opacity="0.48"/><stop offset="0.319" stop-color="#fff" stop-opacity="0.2"/><stop offset="0.34" stop-color="#fff" stop-opacity="0.51"/><stop offset="0.362" stop-color="#fff" stop-opacity="0.48"/><stop offset="0.383" stop-color="#fff" stop-opacity="0.54"/><stop offset="0.404" stop-color="#fff" stop-opacity="0.56"/><stop offset="0.426" stop-color="#fff" stop-opacity="0.57"/><stop offset="0.447" stop-color="#fff" stop-opacity="0.59"/><stop offset="0.468" stop-color="#fff" stop-opacity="0.54"/><stop offset="0.489" stop-color="#fff" stop-opacity="0.43"/><stop offset="0.511" stop-color="#fff" stop-opacity="0.25"/><stop offset="0.532" stop-color="#fff" stop-opacity="0.16"/><stop offset="0.553" stop-color="#fff" stop-opacity="0.66"/><stop offset="0.574" stop-color="#fff" stop-opacity="0.61"/><stop offset="0.596" stop-color="#fff" stop-opacity="0.63"/><stop offset="0.617" stop-color="#fff" stop-opacity="0.71"/><stop offset="0.638" stop-color="#fff" stop-opacity="0.73"/><stop offset="0.66" stop-color="#fff" stop-opacity="0.56"/><stop offset="0.681" stop-color="#fff" stop-opacity="0.76"/><stop offset="0.702" stop-color="#fff" stop-opacity="0.58"/><stop offset="0.723" stop-color="#fff" stop-opacity="0.59"/><stop offset="0.745" stop-color="#fff" stop-opacity="0.12"/><stop offset="0.766" stop-color="#fff" stop-opacity="0.82"/><stop offset="0.787" stop-color="#fff" stop-opacity="0.84"/><stop offset="0.809" stop-color="#fff" stop-opacity="0.6"/><stop offset="0.83" stop-color="#fff" stop-opacity="0.87"/><stop offset="0.851" stop-color="#fff" stop-opacity="0.62"/><stop offset="0.872" stop-color="#fff" stop-opacity="0.9"/><stop offset="0.894" stop-color="#fff" stop-opacity="0.92"/><stop offset="0.915" stop-color="#fff" stop-opacity="0.93"/><stop offset="0.936" stop-color="#fff" stop-opacity="0.95"/><stop offset="0.957" stop-color="#fff" stop-opacity="0.97"/><stop offset="0.979" stop-color="#fff" stop-opacity="0.98"/><stop offset="1" stop-color="#fff" stop-opacity="1"/></linearGradient><mask id="mv_blueA" maskContentUnits="objectBoundingBox" x="0" y="0" width="1" height="1"><rect width="1" height="1" fill="url(#gv_blueA)"/></mask><linearGradient id="gh_e1"><stop offset="0" stop-color="#F7931E" stop-opacity="0.1"/><stop offset="0.167" stop-color="#F7931E" stop-opacity="0.16"/><stop offset="0.333" stop-color="#F7931E" stop-opacity="0.27"/><stop offset="0.5" stop-color="#F7931E" stop-opacity="0.42"/><stop offset="0.667" stop-color="#F7931E" stop-opacity="0.59"/><stop offset="0.833" stop-color="#F7931E" stop-opacity="0.78"/><stop offset="1" stop-color="#F7931E" stop-opacity="1"/></linearGradient><linearGradient id="gv_e1" x1="0" y1="0" x2="0" y2="1"><stop offset="0" stop-color="#fff" stop-opacity="0.1"/><stop offset="0.167" stop-color="#fff" stop-opacity="0.16"/><stop offset="0.333" stop-color="#fff" stop-opacity="0.27"/><stop offset="0.5" stop-color="#fff" stop-opacity="0.42"/><stop offset="0.667" stop-color="#fff" stop-opacity="0.59"/><stop offset="0.833" stop-color="#fff" stop-opacity="0.78"/><stop offset="1" stop-color="#fff" stop-opacity="1"/></linearGradient><mask id="mv_e1" maskContentUnits="objectBoundingBox" x="0" y="0" width="1" height="1"><rect width="1" height="1" fill="url(#gv_e1)"/></mask><linearGradient id="gh_c0"><stop offset="0" stop-color="#F7931E" stop-opacity="0.16"/><stop offset="0.05" stop-color="#F7931E" stop-opacity="0.43"/><stop offset="0.1" stop-color="#F7931E" stop-opacity="0.32"/><stop offset="0.15" stop-color="#F7931E" stop-opacity="0.12"/><stop offset="0.2" stop-color="#F7931E" stop-opacity="0.21"/><stop offset="0.25" stop-color="#F7931E" stop-opacity="0.55"/><stop offset="0.3" stop-color="#F7931E" stop-opacity="0.15"/><stop offset="0.35" stop-color="#F7931E" stop-opacity="0.34"/><stop offset="0.4" stop-color="#F7931E" stop-opacity="0.64"/><stop offset="0.45" stop-color="#F7931E" stop-opacity="0.67"/><stop offset="0.5" stop-color="#F7931E" stop-opacity="0.63"/><stop offset="0.55" stop-color="#F7931E" stop-opacity="0.73"/><stop offset="0.6" stop-color="#F7931E" stop-opacity="0.76"/><stop offset="0.65" stop-color="#F7931E" stop-opacity="0.79"/><stop offset="0.7" stop-color="#F7931E" stop-opacity="0.82"/><stop offset="0.75" stop-color="#F7931E" stop-opacity="0.59"/><stop offset="0.8" stop-color="#F7931E" stop-opacity="0.13"/><stop offset="0.85" stop-color="#F7931E" stop-opacity="0.64"/><stop offset="0.9" stop-color="#F7931E" stop-opacity="0.94"/><stop offset="0.95" stop-color="#F7931E" stop-opacity="0.97"/><stop offset="1" stop-color="#F7931E" stop-opacity="1"/></linearGradient><linearGradient id="gv_c0" x1="0" y1="0" x2="0" y2="1"><stop offset="0" stop-color="#fff" stop-opacity="0.16"/><stop offset="0.05" stop-color="#fff" stop-opacity="0.43"/><stop offset="0.1" stop-color="#fff" stop-opacity="0.32"/><stop offset="0.15" stop-color="#fff" stop-opacity="0.12"/><stop offset="0.2" stop-color="#fff" stop-opacity="0.21"/><stop offset="0.25" stop-color="#fff" stop-opacity="0.55"/><stop offset="0.3" stop-color="#fff" stop-opacity="0.15"/><stop offset="0.35" stop-color="#fff" stop-opacity="0.34"/><stop offset="0.4" stop-color="#fff" stop-opacity="0.64"/><stop offset="0.45" stop-color="#fff" stop-opacity="0.67"/><stop offset="0.5" stop-color="#fff" stop-opacity="0.63"/><stop offset="0.55" stop-color="#fff" stop-opacity="0.73"/><stop offset="0.6" stop-color="#fff" stop-opacity="0.76"/><stop offset="0.65" stop-color="#fff" stop-opacity="0.79"/><stop offset="0.7" stop-color="#fff" stop-opacity="0.82"/><stop offset="0.75" stop-color="#fff" stop-opacity="0.59"/><stop offset="0.8" stop-color="#fff" stop-opacity="0.13"/><stop offset="0.85" stop-color="#fff" stop-opacity="0.64"/><stop offset="0.9" stop-color="#fff" stop-opacity="0.94"/><stop offset="0.95" stop-color="#fff" stop-opacity="0.97"/><stop offset="1" stop-color="#fff" stop-opacity="1"/></linearGradient><mask id="mv_c0" maskContentUnits="objectBoundingBox" x="0" y="0" width="1" height="1"><rect width="1" height="1" fill="url(#gv_c0)"/></mask><linearGradient id="gh_blueB"><stop offset="0" stop-color="#F7931E" stop-opacity="0.18"/><stop offset="0.091" stop-color="#F7931E" stop-opacity="0.35"/><stop offset="0.182" stop-color="#F7931E" stop-opacity="0.08"/><stop offset="0.273" stop-color="#F7931E" stop-opacity="0.6"/><stop offset="0.364" stop-color="#F7931E" stop-opacity="0.59"/><stop offset="0.455" stop-color="#F7931E" stop-opacity="0.63"/><stop offset="0.545" stop-color="#F7931E" stop-opacity="0.3"/><stop offset="0.636" stop-color="#F7931E" stop-opacity="0.32"/><stop offset="0.727" stop-color="#F7931E" stop-opacity="0.34"/><stop offset="0.818" stop-color="#F7931E" stop-opacity="0.14"/><stop offset="0.909" stop-color="#F7931E" stop-opacity="0.95"/><stop offset="1" stop-color="#F7931E" stop-opacity="1"/></linearGradient><linearGradient id="gv_blueB" x1="0" y1="0" x2="0" y2="1"><stop offset="0" stop-color="#fff" stop-opacity="0.18"/><stop offset="0.091" stop-color="#fff" stop-opacity="0.35"/><stop offset="0.182" stop-color="#fff" stop-opacity="0.08"/><stop offset="0.273" stop-color="#fff" stop-opacity="0.6"/><stop offset="0.364" stop-color="#fff" stop-opacity="0.59"/><stop offset="0.455" stop-color="#fff" stop-opacity="0.63"/><stop offset="0.545" stop-color="#fff" stop-opacity="0.3"/><stop offset="0.636" stop-color="#fff" stop-opacity="0.32"/><stop offset="0.727" stop-color="#fff" stop-opacity="0.34"/><stop offset="0.818" stop-color="#fff" stop-opacity="0.14"/><stop offset="0.909" stop-color="#fff" stop-opacity="0.95"/><stop offset="1" stop-color="#fff" stop-opacity="1"/></linearGradient><mask id="mv_blueB" maskContentUnits="objectBoundingBox" x="0" y="0" width="1" height="1"><rect width="1" height="1" fill="url(#gv_blueB)"/></mask><linearGradient id="gh_cy1"><stop offset="0" stop-color="#F7931E" stop-opacity="0.42"/><stop offset="0.02" stop-color="#F7931E" stop-opacity="0.39"/><stop offset="0.039" stop-color="#F7931E" stop-opacity="0.45"/><stop offset="0.059" stop-color="#F7931E" stop-opacity="0.42"/><stop offset="0.078" stop-color="#F7931E" stop-opacity="0.12"/><stop offset="0.098" stop-color="#F7931E" stop-opacity="0.2"/><stop offset="0.118" stop-color="#F7931E" stop-opacity="0.45"/><stop offset="0.137" stop-color="#F7931E" stop-opacity="0.52"/><stop offset="0.157" stop-color="#F7931E" stop-opacity="0.37"/><stop offset="0.176" stop-color="#F7931E" stop-opacity="0.41"/><stop offset="0.196" stop-color="#F7931E" stop-opacity="0.14"/><stop offset="0.216" stop-color="#F7931E" stop-opacity="0.51"/><stop offset="0.235" stop-color="#F7931E" stop-opacity="0.09"/><stop offset="0.255" stop-color="#F7931E" stop-opacity="0.59"/><stop offset="0.275" stop-color="#F7931E" stop-opacity="0.24"/><stop offset="0.294" stop-color="#F7931E" stop-opacity="0.61"/><stop offset="0.314" stop-color="#F7931E" stop-opacity="0.44"/><stop offset="0.333" stop-color="#F7931E" stop-opacity="0.16"/><stop offset="0.353" stop-color="#F7931E" stop-opacity="0.49"/><stop offset="0.373" stop-color="#F7931E" stop-opacity="0.49"/><stop offset="0.392" stop-color="#F7931E" stop-opacity="0.6"/><stop offset="0.412" stop-color="#F7931E" stop-opacity="0.48"/><stop offset="0.431" stop-color="#F7931E" stop-opacity="0.69"/><stop offset="0.451" stop-color="#F7931E" stop-opacity="0.7"/><stop offset="0.471" stop-color="#F7931E" stop-opacity="0.18"/><stop offset="0.49" stop-color="#F7931E" stop-opacity="0.73"/><stop offset="0.51" stop-color="#F7931E" stop-opacity="0.74"/><stop offset="0.529" stop-color="#F7931E" stop-opacity="0.41"/><stop offset="0.549" stop-color="#F7931E" stop-opacity="0.76"/><stop offset="0.569" stop-color="#F7931E" stop-opacity="0.42"/><stop offset="0.588" stop-color="#F7931E" stop-opacity="0.43"/><stop offset="0.608" stop-color="#F7931E" stop-opacity="0.79"/><stop offset="0.627" stop-color="#F7931E" stop-opacity="0.2"/><stop offset="0.647" stop-color="#F7931E" stop-opacity="0.61"/><stop offset="0.667" stop-color="#F7931E" stop-opacity="0.74"/><stop offset="0.686" stop-color="#F7931E" stop-opacity="0.21"/><stop offset="0.706" stop-color="#F7931E" stop-opacity="0.84"/><stop offset="0.725" stop-color="#F7931E" stop-opacity="0.34"/><stop offset="0.745" stop-color="#F7931E" stop-opacity="0.78"/><stop offset="0.765" stop-color="#F7931E" stop-opacity="0.79"/><stop offset="0.784" stop-color="#F7931E" stop-opacity="0.89"/><stop offset="0.804" stop-color="#F7931E" stop-opacity="0.9"/><stop offset="0.824" stop-color="#F7931E" stop-opacity="0.5"/><stop offset="0.843" stop-color="#F7931E" stop-opacity="0.83"/><stop offset="0.863" stop-color="#F7931E" stop-opacity="0.93"/><stop offset="0.882" stop-color="#F7931E" stop-opacity="0.94"/><stop offset="0.902" stop-color="#F7931E" stop-opacity="0.95"/><stop offset="0.922" stop-color="#F7931E" stop-opacity="0.96"/><stop offset="0.941" stop-color="#F7931E" stop-opacity="0.97"/><stop offset="0.961" stop-color="#F7931E" stop-opacity="0.98"/><stop offset="0.98" stop-color="#F7931E" stop-opacity="0.99"/><stop offset="1" stop-color="#F7931E" stop-opacity="1"/></linearGradient><linearGradient id="gv_cy1" x1="0" y1="0" x2="0" y2="1"><stop offset="0" stop-color="#fff" stop-opacity="0.42"/><stop offset="0.02" stop-color="#fff" stop-opacity="0.39"/><stop offset="0.039" stop-color="#fff" stop-opacity="0.45"/><stop offset="0.059" stop-color="#fff" stop-opacity="0.42"/><stop offset="0.078" stop-color="#fff" stop-opacity="0.12"/><stop offset="0.098" stop-color="#fff" stop-opacity="0.2"/><stop offset="0.118" stop-color="#fff" stop-opacity="0.45"/><stop offset="0.137" stop-color="#fff" stop-opacity="0.52"/><stop offset="0.157" stop-color="#fff" stop-opacity="0.37"/><stop offset="0.176" stop-color="#fff" stop-opacity="0.41"/><stop offset="0.196" stop-color="#fff" stop-opacity="0.14"/><stop offset="0.216" stop-color="#fff" stop-opacity="0.51"/><stop offset="0.235" stop-color="#fff" stop-opacity="0.09"/><stop offset="0.255" stop-color="#fff" stop-opacity="0.59"/><stop offset="0.275" stop-color="#fff" stop-opacity="0.24"/><stop offset="0.294" stop-color="#fff" stop-opacity="0.61"/><stop offset="0.314" stop-color="#fff" stop-opacity="0.44"/><stop offset="0.333" stop-color="#fff" stop-opacity="0.16"/><stop offset="0.353" stop-color="#fff" stop-opacity="0.49"/><stop offset="0.373" stop-color="#fff" stop-opacity="0.49"/><stop offset="0.392" stop-color="#fff" stop-opacity="0.6"/><stop offset="0.412" stop-color="#fff" stop-opacity="0.48"/><stop offset="0.431" stop-color="#fff" stop-opacity="0.69"/><stop offset="0.451" stop-color="#fff" stop-opacity="0.7"/><stop offset="0.471" stop-color="#fff" stop-opacity="0.18"/><stop offset="0.49" stop-color="#fff" stop-opacity="0.73"/><stop offset="0.51" stop-color="#fff" stop-opacity="0.74"/><stop offset="0.529" stop-color="#fff" stop-opacity="0.41"/><stop offset="0.549" stop-color="#fff" stop-opacity="0.76"/><stop offset="0.569" stop-color="#fff" stop-opacity="0.42"/><stop offset="0.588" stop-color="#fff" stop-opacity="0.43"/><stop offset="0.608" stop-color="#fff" stop-opacity="0.79"/><stop offset="0.627" stop-color="#fff" stop-opacity="0.2"/><stop offset="0.647" stop-color="#fff" stop-opacity="0.61"/><stop offset="0.667" stop-color="#fff" stop-opacity="0.74"/><stop offset="0.686" stop-color="#fff" stop-opacity="0.21"/><stop offset="0.706" stop-color="#fff" stop-opacity="0.84"/><stop offset="0.725" stop-color="#fff" stop-opacity="0.34"/><stop offset="0.745" stop-color="#fff" stop-opacity="0.78"/><stop offset="0.765" stop-color="#fff" stop-opacity="0.79"/><stop offset="0.784" stop-color="#fff" stop-opacity="0.89"/><stop offset="0.804" stop-color="#fff" stop-opacity="0.9"/><stop offset="0.824" stop-color="#fff" stop-opacity="0.5"/><stop offset="0.843" stop-color="#fff" stop-opacity="0.83"/><stop offset="0.863" stop-color="#fff" stop-opacity="0.93"/><stop offset="0.882" stop-color="#fff" stop-opacity="0.94"/><stop offset="0.902" stop-color="#fff" stop-opacity="0.95"/><stop offset="0.922" stop-color="#fff" stop-opacity="0.96"/><stop offset="0.941" stop-color="#fff" stop-opacity="0.97"/><stop offset="0.961" stop-color="#fff" stop-opacity="0.98"/><stop offset="0.98" stop-color="#fff" stop-opacity="0.99"/><stop offset="1" stop-color="#fff" stop-opacity="1"/></linearGradient><mask id="mv_cy1" maskContentUnits="objectBoundingBox" x="0" y="0" width="1" height="1"><rect width="1" height="1" fill="url(#gv_cy1)"/></mask><linearGradient id="gh_e2"><stop offset="0" stop-color="#F7931E" stop-opacity="0.5"/><stop offset="0.2" stop-color="#F7931E" stop-opacity="0.6"/><stop offset="0.4" stop-color="#F7931E" stop-opacity="0.7"/><stop offset="0.6" stop-color="#F7931E" stop-opacity="0.8"/><stop offset="0.8" stop-color="#F7931E" stop-opacity="0.9"/><stop offset="1" stop-color="#F7931E" stop-opacity="1"/></linearGradient><linearGradient id="gv_e2" x1="0" y1="0" x2="0" y2="1"><stop offset="0" stop-color="#fff" stop-opacity="0.5"/><stop offset="0.2" stop-color="#fff" stop-opacity="0.6"/><stop offset="0.4" stop-color="#fff" stop-opacity="0.7"/><stop offset="0.6" stop-color="#fff" stop-opacity="0.8"/><stop offset="0.8" stop-color="#fff" stop-opacity="0.9"/><stop offset="1" stop-color="#fff" stop-opacity="1"/></linearGradient><mask id="mv_e2" maskContentUnits="objectBoundingBox" x="0" y="0" width="1" height="1"><rect width="1" height="1" fill="url(#gv_e2)"/></mask><linearGradient id="gh_cy2"><stop offset="0" stop-color="#F7931E" stop-opacity="0.11"/><stop offset="0.018" stop-color="#F7931E" stop-opacity="0.46"/><stop offset="0.036" stop-color="#F7931E" stop-opacity="0.07"/><stop offset="0.055" stop-color="#F7931E" stop-opacity="0.49"/><stop offset="0.073" stop-color="#F7931E" stop-opacity="0.28"/><stop offset="0.091" stop-color="#F7931E" stop-opacity="0.46"/><stop offset="0.109" stop-color="#F7931E" stop-opacity="0.37"/><stop offset="0.127" stop-color="#F7931E" stop-opacity="0.08"/><stop offset="0.145" stop-color="#F7931E" stop-opacity="0.3"/><stop offset="0.164" stop-color="#F7931E" stop-opacity="0.5"/><stop offset="0.182" stop-color="#F7931E" stop-opacity="0.57"/><stop offset="0.2" stop-color="#F7931E" stop-opacity="0.14"/><stop offset="0.218" stop-color="#F7931E" stop-opacity="0.53"/><stop offset="0.236" stop-color="#F7931E" stop-opacity="0.6"/><stop offset="0.255" stop-color="#F7931E" stop-opacity="0.34"/><stop offset="0.273" stop-color="#F7931E" stop-opacity="0.09"/><stop offset="0.291" stop-color="#F7931E" stop-opacity="0.25"/><stop offset="0.309" stop-color="#F7931E" stop-opacity="0.48"/><stop offset="0.327" stop-color="#F7931E" stop-opacity="0.1"/><stop offset="0.345" stop-color="#F7931E" stop-opacity="0.17"/><stop offset="0.364" stop-color="#F7931E" stop-opacity="0.37"/><stop offset="0.382" stop-color="#F7931E" stop-opacity="0.17"/><stop offset="0.4" stop-color="#F7931E" stop-opacity="0.62"/><stop offset="0.418" stop-color="#F7931E" stop-opacity="0.63"/><stop offset="0.436" stop-color="#F7931E" stop-opacity="0.64"/><stop offset="0.455" stop-color="#F7931E" stop-opacity="0.72"/><stop offset="0.473" stop-color="#F7931E" stop-opacity="0.18"/><stop offset="0.491" stop-color="#F7931E" stop-opacity="0.74"/><stop offset="0.509" stop-color="#F7931E" stop-opacity="0.67"/><stop offset="0.527" stop-color="#F7931E" stop-opacity="0.76"/><stop offset="0.545" stop-color="#F7931E" stop-opacity="0.77"/><stop offset="0.564" stop-color="#F7931E" stop-opacity="0.7"/><stop offset="0.582" stop-color="#F7931E" stop-opacity="0.79"/><stop offset="0.6" stop-color="#F7931E" stop-opacity="0.8"/><stop offset="0.618" stop-color="#F7931E" stop-opacity="0.44"/><stop offset="0.636" stop-color="#F7931E" stop-opacity="0.73"/><stop offset="0.655" stop-color="#F7931E" stop-opacity="0.45"/><stop offset="0.673" stop-color="#F7931E" stop-opacity="0.58"/><stop offset="0.691" stop-color="#F7931E" stop-opacity="0.34"/><stop offset="0.709" stop-color="#F7931E" stop-opacity="0.21"/><stop offset="0.727" stop-color="#F7931E" stop-opacity="0.86"/><stop offset="0.745" stop-color="#F7931E" stop-opacity="0.65"/><stop offset="0.764" stop-color="#F7931E" stop-opacity="0.13"/><stop offset="0.782" stop-color="#F7931E" stop-opacity="0.8"/><stop offset="0.8" stop-color="#F7931E" stop-opacity="0.81"/><stop offset="0.818" stop-color="#F7931E" stop-opacity="0.82"/><stop offset="0.836" stop-color="#F7931E" stop-opacity="0.23"/><stop offset="0.855" stop-color="#F7931E" stop-opacity="0.7"/><stop offset="0.873" stop-color="#F7931E" stop-opacity="0.94"/><stop offset="0.891" stop-color="#F7931E" stop-opacity="0.95"/><stop offset="0.909" stop-color="#F7931E" stop-opacity="0.95"/><stop offset="0.927" stop-color="#F7931E" stop-opacity="0.96"/><stop offset="0.945" stop-color="#F7931E" stop-opacity="0.97"/><stop offset="0.964" stop-color="#F7931E" stop-opacity="0.98"/><stop offset="0.982" stop-color="#F7931E" stop-opacity="0.99"/><stop offset="1" stop-color="#F7931E" stop-opacity="1"/></linearGradient><linearGradient id="gv_cy2" x1="0" y1="0" x2="0" y2="1"><stop offset="0" stop-color="#fff" stop-opacity="0.11"/><stop offset="0.018" stop-color="#fff" stop-opacity="0.46"/><stop offset="0.036" stop-color="#fff" stop-opacity="0.07"/><stop offset="0.055" stop-color="#fff" stop-opacity="0.49"/><stop offset="0.073" stop-color="#fff" stop-opacity="0.28"/><stop offset="0.091" stop-color="#fff" stop-opacity="0.46"/><stop offset="0.109" stop-color="#fff" stop-opacity="0.37"/><stop offset="0.127" stop-color="#fff" stop-opacity="0.08"/><stop offset="0.145" stop-color="#fff" stop-opacity="0.3"/><stop offset="0.164" stop-color="#fff" stop-opacity="0.5"/><stop offset="0.182" stop-color="#fff" stop-opacity="0.57"/><stop offset="0.2" stop-color="#fff" stop-opacity="0.14"/><stop offset="0.218" stop-color="#fff" stop-opacity="0.53"/><stop offset="0.236" stop-color="#fff" stop-opacity="0.6"/><stop offset="0.255" stop-color="#fff" stop-opacity="0.34"/><stop offset="0.273" stop-color="#fff" stop-opacity="0.09"/><stop offset="0.291" stop-color="#fff" stop-opacity="0.25"/><stop offset="0.309" stop-color="#fff" stop-opacity="0.48"/><stop offset="0.327" stop-color="#fff" stop-opacity="0.1"/><stop offset="0.345" stop-color="#fff" stop-opacity="0.17"/><stop offset="0.364" stop-color="#fff" stop-opacity="0.37"/><stop offset="0.382" stop-color="#fff" stop-opacity="0.17"/><stop offset="0.4" stop-color="#fff" stop-opacity="0.62"/><stop offset="0.418" stop-color="#fff" stop-opacity="0.63"/><stop offset="0.436" stop-color="#fff" stop-opacity="0.64"/><stop offset="0.455" stop-color="#fff" stop-opacity="0.72"/><stop offset="0.473" stop-color="#fff" stop-opacity="0.18"/><stop offset="0.491" stop-color="#fff" stop-opacity="0.74"/><stop offset="0.509" stop-color="#fff" stop-opacity="0.67"/><stop offset="0.527" stop-color="#fff" stop-opacity="0.76"/><stop offset="0.545" stop-color="#fff" stop-opacity="0.77"/><stop offset="0.564" stop-color="#fff" stop-opacity="0.7"/><stop offset="0.582" stop-color="#fff" stop-opacity="0.79"/><stop offset="0.6" stop-color="#fff" stop-opacity="0.8"/><stop offset="0.618" stop-color="#fff" stop-opacity="0.44"/><stop offset="0.636" stop-color="#fff" stop-opacity="0.73"/><stop offset="0.655" stop-color="#fff" stop-opacity="0.45"/><stop offset="0.673" stop-color="#fff" stop-opacity="0.58"/><stop offset="0.691" stop-color="#fff" stop-opacity="0.34"/><stop offset="0.709" stop-color="#fff" stop-opacity="0.21"/><stop offset="0.727" stop-color="#fff" stop-opacity="0.86"/><stop offset="0.745" stop-color="#fff" stop-opacity="0.65"/><stop offset="0.764" stop-color="#fff" stop-opacity="0.13"/><stop offset="0.782" stop-color="#fff" stop-opacity="0.8"/><stop offset="0.8" stop-color="#fff" stop-opacity="0.81"/><stop offset="0.818" stop-color="#fff" stop-opacity="0.82"/><stop offset="0.836" stop-color="#fff" stop-opacity="0.23"/><stop offset="0.855" stop-color="#fff" stop-opacity="0.7"/><stop offset="0.873" stop-color="#fff" stop-opacity="0.94"/><stop offset="0.891" stop-color="#fff" stop-opacity="0.95"/><stop offset="0.909" stop-color="#fff" stop-opacity="0.95"/><stop offset="0.927" stop-color="#fff" stop-opacity="0.96"/><stop offset="0.945" stop-color="#fff" stop-opacity="0.97"/><stop offset="0.964" stop-color="#fff" stop-opacity="0.98"/><stop offset="0.982" stop-color="#fff" stop-opacity="0.99"/><stop offset="1" stop-color="#fff" stop-opacity="1"/></linearGradient><mask id="mv_cy2" maskContentUnits="objectBoundingBox" x="0" y="0" width="1" height="1"><rect width="1" height="1" fill="url(#gv_cy2)"/></mask><linearGradient id="gh_cy3"><stop offset="0" stop-color="#F7931E" stop-opacity="0.42"/><stop offset="0.027" stop-color="#F7931E" stop-opacity="0.11"/><stop offset="0.054" stop-color="#F7931E" stop-opacity="0.07"/><stop offset="0.081" stop-color="#F7931E" stop-opacity="0.41"/><stop offset="0.108" stop-color="#F7931E" stop-opacity="0.35"/><stop offset="0.135" stop-color="#F7931E" stop-opacity="0.27"/><stop offset="0.162" stop-color="#F7931E" stop-opacity="0.07"/><stop offset="0.189" stop-color="#F7931E" stop-opacity="0.21"/><stop offset="0.216" stop-color="#F7931E" stop-opacity="0.53"/><stop offset="0.243" stop-color="#F7931E" stop-opacity="0.41"/><stop offset="0.27" stop-color="#F7931E" stop-opacity="0.14"/><stop offset="0.297" stop-color="#F7931E" stop-opacity="0.52"/><stop offset="0.324" stop-color="#F7931E" stop-opacity="0.32"/><stop offset="0.351" stop-color="#F7931E" stop-opacity="0.33"/><stop offset="0.378" stop-color="#F7931E" stop-opacity="0.43"/><stop offset="0.405" stop-color="#F7931E" stop-opacity="0.44"/><stop offset="0.432" stop-color="#F7931E" stop-opacity="0.65"/><stop offset="0.459" stop-color="#F7931E" stop-opacity="0.1"/><stop offset="0.486" stop-color="#F7931E" stop-opacity="0.68"/><stop offset="0.514" stop-color="#F7931E" stop-opacity="0.49"/><stop offset="0.541" stop-color="#F7931E" stop-opacity="0.11"/><stop offset="0.568" stop-color="#F7931E" stop-opacity="0.73"/><stop offset="0.595" stop-color="#F7931E" stop-opacity="0.52"/><stop offset="0.622" stop-color="#F7931E" stop-opacity="0.11"/><stop offset="0.649" stop-color="#F7931E" stop-opacity="0.31"/><stop offset="0.676" stop-color="#F7931E" stop-opacity="0.56"/><stop offset="0.703" stop-color="#F7931E" stop-opacity="0.45"/><stop offset="0.73" stop-color="#F7931E" stop-opacity="0.46"/><stop offset="0.757" stop-color="#F7931E" stop-opacity="0.13"/><stop offset="0.784" stop-color="#F7931E" stop-opacity="0.6"/><stop offset="0.811" stop-color="#F7931E" stop-opacity="0.62"/><stop offset="0.838" stop-color="#F7931E" stop-opacity="0.67"/><stop offset="0.865" stop-color="#F7931E" stop-opacity="0.91"/><stop offset="0.892" stop-color="#F7931E" stop-opacity="0.93"/><stop offset="0.919" stop-color="#F7931E" stop-opacity="0.95"/><stop offset="0.946" stop-color="#F7931E" stop-opacity="0.97"/><stop offset="0.973" stop-color="#F7931E" stop-opacity="0.98"/><stop offset="1" stop-color="#F7931E" stop-opacity="1"/></linearGradient><linearGradient id="gv_cy3" x1="0" y1="0" x2="0" y2="1"><stop offset="0" stop-color="#fff" stop-opacity="0.42"/><stop offset="0.027" stop-color="#fff" stop-opacity="0.11"/><stop offset="0.054" stop-color="#fff" stop-opacity="0.07"/><stop offset="0.081" stop-color="#fff" stop-opacity="0.41"/><stop offset="0.108" stop-color="#fff" stop-opacity="0.35"/><stop offset="0.135" stop-color="#fff" stop-opacity="0.27"/><stop offset="0.162" stop-color="#fff" stop-opacity="0.07"/><stop offset="0.189" stop-color="#fff" stop-opacity="0.21"/><stop offset="0.216" stop-color="#fff" stop-opacity="0.53"/><stop offset="0.243" stop-color="#fff" stop-opacity="0.41"/><stop offset="0.27" stop-color="#fff" stop-opacity="0.14"/><stop offset="0.297" stop-color="#fff" stop-opacity="0.52"/><stop offset="0.324" stop-color="#fff" stop-opacity="0.32"/><stop offset="0.351" stop-color="#fff" stop-opacity="0.33"/><stop offset="0.378" stop-color="#fff" stop-opacity="0.43"/><stop offset="0.405" stop-color="#fff" stop-opacity="0.44"/><stop offset="0.432" stop-color="#fff" stop-opacity="0.65"/><stop offset="0.459" stop-color="#fff" stop-opacity="0.1"/><stop offset="0.486" stop-color="#fff" stop-opacity="0.68"/><stop offset="0.514" stop-color="#fff" stop-opacity="0.49"/><stop offset="0.541" stop-color="#fff" stop-opacity="0.11"/><stop offset="0.568" stop-color="#fff" stop-opacity="0.73"/><stop offset="0.595" stop-color="#fff" stop-opacity="0.52"/><stop offset="0.622" stop-color="#fff" stop-opacity="0.11"/><stop offset="0.649" stop-color="#fff" stop-opacity="0.31"/><stop offset="0.676" stop-color="#fff" stop-opacity="0.56"/><stop offset="0.703" stop-color="#fff" stop-opacity="0.45"/><stop offset="0.73" stop-color="#fff" stop-opacity="0.46"/><stop offset="0.757" stop-color="#fff" stop-opacity="0.13"/><stop offset="0.784" stop-color="#fff" stop-opacity="0.6"/><stop offset="0.811" stop-color="#fff" stop-opacity="0.62"/><stop offset="0.838" stop-color="#fff" stop-opacity="0.67"/><stop offset="0.865" stop-color="#fff" stop-opacity="0.91"/><stop offset="0.892" stop-color="#fff" stop-opacity="0.93"/><stop offset="0.919" stop-color="#fff" stop-opacity="0.95"/><stop offset="0.946" stop-color="#fff" stop-opacity="0.97"/><stop offset="0.973" stop-color="#fff" stop-opacity="0.98"/><stop offset="1" stop-color="#fff" stop-opacity="1"/></linearGradient><mask id="mv_cy3" maskContentUnits="objectBoundingBox" x="0" y="0" width="1" height="1"><rect width="1" height="1" fill="url(#gv_cy3)"/></mask><linearGradient id="gh_br"><stop offset="0" stop-color="#F7931E" stop-opacity="0.06"/><stop offset="0.083" stop-color="#F7931E" stop-opacity="0.04"/><stop offset="0.167" stop-color="#F7931E" stop-opacity="0.22"/><stop offset="0.25" stop-color="#F7931E" stop-opacity="0.27"/><stop offset="0.333" stop-color="#F7931E" stop-opacity="0.33"/><stop offset="0.417" stop-color="#F7931E" stop-opacity="0.4"/><stop offset="0.5" stop-color="#F7931E" stop-opacity="0.33"/><stop offset="0.583" stop-color="#F7931E" stop-opacity="0.08"/><stop offset="0.667" stop-color="#F7931E" stop-opacity="0.63"/><stop offset="0.75" stop-color="#F7931E" stop-opacity="0.72"/><stop offset="0.833" stop-color="#F7931E" stop-opacity="0.81"/><stop offset="0.917" stop-color="#F7931E" stop-opacity="0.9"/><stop offset="1" stop-color="#F7931E" stop-opacity="1"/></linearGradient><linearGradient id="gv_br" x1="0" y1="0" x2="0" y2="1"><stop offset="0" stop-color="#fff" stop-opacity="0.06"/><stop offset="0.083" stop-color="#fff" stop-opacity="0.04"/><stop offset="0.167" stop-color="#fff" stop-opacity="0.22"/><stop offset="0.25" stop-color="#fff" stop-opacity="0.27"/><stop offset="0.333" stop-color="#fff" stop-opacity="0.33"/><stop offset="0.417" stop-color="#fff" stop-opacity="0.4"/><stop offset="0.5" stop-color="#fff" stop-opacity="0.33"/><stop offset="0.583" stop-color="#fff" stop-opacity="0.08"/><stop offset="0.667" stop-color="#fff" stop-opacity="0.63"/><stop offset="0.75" stop-color="#fff" stop-opacity="0.72"/><stop offset="0.833" stop-color="#fff" stop-opacity="0.81"/><stop offset="0.917" stop-color="#fff" stop-opacity="0.9"/><stop offset="1" stop-color="#fff" stop-opacity="1"/></linearGradient><mask id="mv_br" maskContentUnits="objectBoundingBox" x="0" y="0" width="1" height="1"><rect width="1" height="1" fill="url(#gv_br)"/></mask><linearGradient id="gh_pvr"><stop offset="0" stop-color="#F7931E" stop-opacity="0.03"/><stop offset="0.1" stop-color="#F7931E" stop-opacity="0.04"/><stop offset="0.2" stop-color="#F7931E" stop-opacity="0.21"/><stop offset="0.3" stop-color="#F7931E" stop-opacity="0.22"/><stop offset="0.4" stop-color="#F7931E" stop-opacity="0.37"/><stop offset="0.5" stop-color="#F7931E" stop-opacity="0.47"/><stop offset="0.6" stop-color="#F7931E" stop-opacity="0.14"/><stop offset="0.7" stop-color="#F7931E" stop-opacity="0.67"/><stop offset="0.8" stop-color="#F7931E" stop-opacity="0.58"/><stop offset="0.9" stop-color="#F7931E" stop-opacity="0.88"/><stop offset="1" stop-color="#F7931E" stop-opacity="1"/></linearGradient><linearGradient id="gv_pvr" x1="0" y1="0" x2="0" y2="1"><stop offset="0" stop-color="#fff" stop-opacity="0.03"/><stop offset="0.1" stop-color="#fff" stop-opacity="0.04"/><stop offset="0.2" stop-color="#fff" stop-opacity="0.21"/><stop offset="0.3" stop-color="#fff" stop-opacity="0.22"/><stop offset="0.4" stop-color="#fff" stop-opacity="0.37"/><stop offset="0.5" stop-color="#fff" stop-opacity="0.47"/><stop offset="0.6" stop-color="#fff" stop-opacity="0.14"/><stop offset="0.7" stop-color="#fff" stop-opacity="0.67"/><stop offset="0.8" stop-color="#fff" stop-opacity="0.58"/><stop offset="0.9" stop-color="#fff" stop-opacity="0.88"/><stop offset="1" stop-color="#fff" stop-opacity="1"/></linearGradient><mask id="mv_pvr" maskContentUnits="objectBoundingBox" x="0" y="0" width="1" height="1"><rect width="1" height="1" fill="url(#gv_pvr)"/></mask><radialGradient id="warm" cx="1" cy="1" r="1" fx="1" fy="1"><stop offset="0" stop-color="#EE5A00" stop-opacity="1"/><stop offset="0.35" stop-color="#F27000" stop-opacity="0.7"/><stop offset="0.7" stop-color="#F58200" stop-opacity="0.3"/><stop offset="1" stop-color="#F88A00" stop-opacity="0"/></radialGradient><radialGradient id="hot" cx="1" cy="1" r="1" fx="1" fy="1"><stop offset="0" stop-color="#E60000" stop-opacity="1"/><stop offset="0.25" stop-color="#F04000" stop-opacity="0.75"/><stop offset="0.6" stop-color="#F87000" stop-opacity="0.3"/><stop offset="1" stop-color="#F88000" stop-opacity="0"/></radialGradient></defs><rect x="218.2" y="257.4" width="506.3" height="506.3" fill="#FDF8CA"/><rect x="249.2" y="288.4" width="19" height="19" fill="url(#gh_sky)" mask="url(#mv_sky)" opacity="1"/><rect x="286.7" y="325.9" width="3.3" height="3.3" fill="url(#gh_o1)" mask="url(#mv_o1)" opacity="1"/><rect x="303.2" y="342.4" width="9.6" height="9.6" fill="url(#gh_dor)" mask="url(#mv_dor)" opacity="0.9"/><rect x="341.9" y="381.1" width="59.3" height="59.3" fill="url(#gh_blueA)" mask="url(#mv_blueA)" opacity="0.9"/><rect x="406.7" y="445.9" width="8" height="8" fill="url(#gh_e1)" mask="url(#mv_e1)" opacity="0.9"/><rect x="429.2" y="468.4" width="25" height="25" fill="url(#gh_c0)" mask="url(#mv_c0)" opacity="0.3"/><rect x="454.7" y="493.9" width="14.9" height="14.9" fill="url(#gh_blueB)" mask="url(#mv_blueB)" opacity="0.75"/><rect x="474" y="513.2" width="64.2" height="64.2" fill="url(#gh_cy1)" mask="url(#mv_cy1)" opacity="0.95"/><rect x="540" y="579.2" width="7.4" height="7.4" fill="url(#gh_e2)" mask="url(#mv_e2)" opacity="0.7"/><rect x="549.1" y="588.3" width="69.7" height="69.7" fill="url(#gh_cy2)" mask="url(#mv_cy2)" opacity="0.95"/><rect x="619.7" y="658.9" width="46.9" height="46.9" fill="url(#gh_cy3)" mask="url(#mv_cy3)" opacity="0.95"/><rect x="680.2" y="719.4" width="15.7" height="15.7" fill="url(#gh_br)" mask="url(#mv_br)" opacity="0.8"/><rect x="702.7" y="741.9" width="13.4" height="13.4" fill="url(#gh_pvr)" mask="url(#mv_pvr)" opacity="1"/><rect x="454.7" y="381.1" width="14.9" height="59.3" fill="url(#gh_blueB)" mask="url(#mv_blueA)" opacity="0.5"/><rect x="341.9" y="493.9" width="59.3" height="14.9" fill="url(#gh_blueA)" mask="url(#mv_blueB)" opacity="0.5"/><rect x="474" y="381.1" width="64.2" height="59.3" fill="url(#gh_cy1)" mask="url(#mv_blueA)" opacity="0.28"/><rect x="341.9" y="513.2" width="59.3" height="64.2" fill="url(#gh_blueA)" mask="url(#mv_cy1)" opacity="0.28"/><rect x="549.1" y="381.1" width="69.7" height="59.3" fill="url(#gh_cy2)" mask="url(#mv_blueA)" opacity="0.18"/><rect x="341.9" y="588.3" width="59.3" height="69.7" fill="url(#gh_blueA)" mask="url(#mv_cy2)" opacity="0.18"/><rect x="429.2" y="381.1" width="25" height="59.3" fill="url(#gh_c0)" mask="url(#mv_blueA)" opacity="0.08"/><rect x="341.9" y="468.4" width="59.3" height="25" fill="url(#gh_blueA)" mask="url(#mv_c0)" opacity="0.08"/><rect x="619.7" y="381.1" width="46.9" height="59.3" fill="url(#gh_cy3)" mask="url(#mv_blueA)" opacity="0.05"/><rect x="341.9" y="658.9" width="59.3" height="46.9" fill="url(#gh_blueA)" mask="url(#mv_cy3)" opacity="0.05"/><rect x="474" y="493.9" width="64.2" height="14.9" fill="url(#gh_cy1)" mask="url(#mv_blueB)" opacity="0.5"/><rect x="454.7" y="513.2" width="14.9" height="64.2" fill="url(#gh_blueB)" mask="url(#mv_cy1)" opacity="0.5"/><rect x="549.1" y="493.9" width="69.7" height="14.9" fill="url(#gh_cy2)" mask="url(#mv_blueB)" opacity="0.4"/><rect x="454.7" y="588.3" width="14.9" height="69.7" fill="url(#gh_blueB)" mask="url(#mv_cy2)" opacity="0.4"/><rect x="619.7" y="493.9" width="46.9" height="14.9" fill="url(#gh_cy3)" mask="url(#mv_blueB)" opacity="0.14"/><rect x="454.7" y="658.9" width="14.9" height="46.9" fill="url(#gh_blueB)" mask="url(#mv_cy3)" opacity="0.14"/><rect x="474" y="468.4" width="64.2" height="25" fill="url(#gh_cy1)" mask="url(#mv_c0)" opacity="0.25"/><rect x="429.2" y="513.2" width="25" height="64.2" fill="url(#gh_c0)" mask="url(#mv_cy1)" opacity="0.25"/><rect x="549.1" y="468.4" width="69.7" height="25" fill="url(#gh_cy2)" mask="url(#mv_c0)" opacity="0.3"/><rect x="429.2" y="588.3" width="25" height="69.7" fill="url(#gh_c0)" mask="url(#mv_cy2)" opacity="0.3"/><rect x="619.7" y="468.4" width="46.9" height="25" fill="url(#gh_cy3)" mask="url(#mv_c0)" opacity="0.2"/><rect x="429.2" y="658.9" width="25" height="46.9" fill="url(#gh_c0)" mask="url(#mv_cy3)" opacity="0.2"/><rect x="454.7" y="468.4" width="14.9" height="25" fill="url(#gh_blueB)" mask="url(#mv_c0)" opacity="0.18"/><rect x="429.2" y="493.9" width="25" height="14.9" fill="url(#gh_c0)" mask="url(#mv_blueB)" opacity="0.18"/><rect x="549.1" y="513.2" width="69.7" height="64.2" fill="url(#gh_cy2)" mask="url(#mv_cy1)" opacity="0.6"/><rect x="474" y="588.3" width="64.2" height="69.7" fill="url(#gh_cy1)" mask="url(#mv_cy2)" opacity="0.6"/><rect x="619.7" y="513.2" width="46.9" height="64.2" fill="url(#gh_cy3)" mask="url(#mv_cy1)" opacity="0.3"/><rect x="474" y="658.9" width="64.2" height="46.9" fill="url(#gh_cy1)" mask="url(#mv_cy3)" opacity="0.3"/><rect x="619.7" y="588.3" width="46.9" height="69.7" fill="url(#gh_cy3)" mask="url(#mv_cy2)" opacity="0.62"/><rect x="549.1" y="658.9" width="69.7" height="46.9" fill="url(#gh_cy2)" mask="url(#mv_cy3)" opacity="0.62"/><rect x="540" y="513.2" width="7.4" height="64.2" fill="url(#gh_e2)" mask="url(#mv_cy1)" opacity="0.45"/><rect x="474" y="579.2" width="64.2" height="7.4" fill="url(#gh_cy1)" mask="url(#mv_e2)" opacity="0.45"/><rect x="549.1" y="579.2" width="69.7" height="7.4" fill="url(#gh_cy2)" mask="url(#mv_e2)" opacity="0.45"/><rect x="540" y="588.3" width="7.4" height="69.7" fill="url(#gh_e2)" mask="url(#mv_cy2)" opacity="0.45"/><rect x="680.2" y="658.9" width="15.7" height="46.9" fill="url(#gh_br)" mask="url(#mv_cy3)" opacity="0.25"/><rect x="619.7" y="719.4" width="46.9" height="15.7" fill="url(#gh_cy3)" mask="url(#mv_br)" opacity="0.25"/><rect x="680.2" y="588.3" width="15.7" height="69.7" fill="url(#gh_br)" mask="url(#mv_cy2)" opacity="0.14"/><rect x="549.1" y="719.4" width="69.7" height="15.7" fill="url(#gh_cy2)" mask="url(#mv_br)" opacity="0.14"/><rect x="680.2" y="513.2" width="15.7" height="64.2" fill="url(#gh_br)" mask="url(#mv_cy1)" opacity="0.07"/><rect x="474" y="719.4" width="64.2" height="15.7" fill="url(#gh_cy1)" mask="url(#mv_br)" opacity="0.07"/><rect x="702.7" y="658.9" width="13.4" height="46.9" fill="url(#gh_pvr)" mask="url(#mv_cy3)" opacity="0.05"/><rect x="619.7" y="741.9" width="46.9" height="13.4" fill="url(#gh_cy3)" mask="url(#mv_pvr)" opacity="0.05"/><rect x="702.7" y="719.4" width="13.4" height="15.7" fill="url(#gh_pvr)" mask="url(#mv_br)" opacity="0.06"/><rect x="680.2" y="741.9" width="15.7" height="13.4" fill="url(#gh_br)" mask="url(#mv_pvr)" opacity="0.06"/><rect x="253" y="292.2" width="15.2" height="15.2" fill="url(#hot)" opacity="0.95"/><rect x="286.7" y="325.9" width="3.3" height="3.3" fill="url(#hot)" opacity="0.8"/><rect x="303.2" y="342.4" width="9.6" height="9.6" fill="url(#hot)" opacity="0.55"/><rect x="371.2" y="410.4" width="30" height="30" fill="url(#warm)" opacity="0.85"/><rect x="406.7" y="445.9" width="8" height="8" fill="url(#warm)" opacity="0.7"/><rect x="508.2" y="547.4" width="30" height="30" fill="url(#warm)" opacity="0.7"/><rect x="588.8" y="628" width="30" height="30" fill="url(#warm)" opacity="0.75"/><rect x="629.1" y="668.3" width="37.5" height="37.5" fill="url(#hot)" opacity="0.95"/><rect x="680.2" y="719.4" width="15.7" height="15.7" fill="url(#hot)" opacity="0.55"/><rect x="705.4" y="744.6" width="10.7" height="10.7" fill="url(#hot)" opacity="1"/><rect x="454.7" y="493.9" width="14.9" height="14.9" fill="url(#warm)" opacity="0.4"/>
</svg>
</body>
</html>
